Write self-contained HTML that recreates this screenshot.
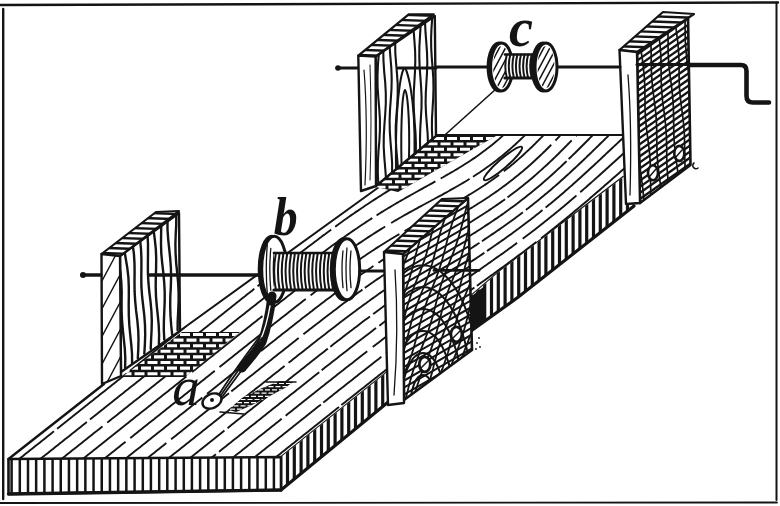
<!DOCTYPE html>
<html><head><meta charset="utf-8"><title>Winding apparatus</title>
<style>html,body{margin:0;padding:0;background:#fff;width:780px;height:506px;overflow:hidden;font-family:"Liberation Serif",serif}svg{display:block}</style>
</head><body><svg width="780" height="506" viewBox="0 0 780 506"><defs><clipPath id="c1"><polygon points="8.5,459.0 281.0,457.0 386.0,373.0 472.0,295.0 500.0,271.0 623.0,177.0 660.0,150.0 660.0,135.0 436.0,135.0 379.0,187.0 181.0,330.0 104.0,384.0"/></clipPath><clipPath id="c2"><polygon points="281.0,457.0 386.0,373.0 472.0,295.0 500.0,271.0 630.0,172.0 634.0,206.0 517.0,298.0 471.0,331.0 387.0,403.0 281.0,490.0"/></clipPath><clipPath id="c3"><polygon points="8.5,459.0 281.0,457.0 281.0,489.0 8.5,494.0"/></clipPath><clipPath id="c4"><polygon points="637.0,52.0 688.0,15.0 690.5,165.0 640.0,203.0"/></clipPath><clipPath id="c5"><polygon points="637.0,52.0 688.0,15.0 690.5,165.0 640.0,203.0"/></clipPath><clipPath id="c6"><polygon points="619.5,50.0 663.0,12.0 694.0,14.0 637.0,52.0"/></clipPath><clipPath id="c7"><polygon points="510.1,67.0 509.8,72.4 509.0,77.5 507.6,81.8 505.9,85.2 503.8,87.3 501.6,88.0 499.4,87.3 497.4,85.2 495.6,81.9 494.2,77.5 493.4,72.4 493.1,67.0 493.4,61.6 494.2,56.5 495.6,52.2 497.3,48.8 499.4,46.7 501.6,46.0 503.8,46.7 505.8,48.8 507.6,52.1 509.0,56.5 509.8,61.6"/></clipPath><clipPath id="c8"><polygon points="554.5,67.0 554.2,72.4 553.4,77.5 552.0,81.8 550.3,85.2 548.2,87.3 546.0,88.0 543.8,87.3 541.8,85.2 540.0,81.9 538.6,77.5 537.8,72.4 537.5,67.0 537.8,61.6 538.6,56.5 540.0,52.2 541.7,48.8 543.8,46.7 546.0,46.0 548.2,46.7 550.2,48.8 552.0,52.1 553.4,56.5 554.2,61.6"/></clipPath><clipPath id="c9"><polygon points="436.0,136.0 496.0,136.0 398.0,192.0 376.0,187.0"/></clipPath><clipPath id="c10"><polygon points="358.3,55.6 408.7,14.3 433.7,14.3 375.6,56.5"/></clipPath><clipPath id="c11"><polygon points="122.0,377.0 182.0,332.0 240.0,332.0 185.0,377.0"/></clipPath><clipPath id="c12"><polygon points="101.5,254.0 156.0,212.0 179.0,211.0 120.0,256.0"/></clipPath><clipPath id="c13"><polygon points="101.5,254.0 120.0,256.0 121.0,376.0 102.0,384.0"/></clipPath><clipPath id="c14"><polygon points="229.0,410.0 242.0,398.0 262.0,388.0 280.0,381.0 293.0,382.0 285.0,388.0 268.0,397.0 250.0,406.0 236.0,412.0"/></clipPath><clipPath id="c15"><polygon points="403.0,254.0 468.0,198.0 472.0,350.0 404.0,400.0"/></clipPath><clipPath id="c16"><polygon points="403.0,254.0 468.0,198.0 472.0,350.0 404.0,400.0"/></clipPath><clipPath id="c17"><polygon points="403.0,254.0 468.0,198.0 472.0,350.0 404.0,400.0"/></clipPath><clipPath id="c18"><polygon points="384.0,252.0 442.0,199.0 468.0,198.0 403.0,254.0"/></clipPath></defs><rect width="780" height="506" fill="#fff"/><line x1="0.0" y1="5.0" x2="778.0" y2="2.5" stroke="#141414" stroke-width="2.4" stroke-linecap="round"/><line x1="3.2" y1="9.0" x2="3.2" y2="499.0" stroke="#141414" stroke-width="2.4" stroke-linecap="round"/><line x1="776.5" y1="2.5" x2="776.5" y2="500.0" stroke="#141414" stroke-width="2.0" stroke-linecap="round"/><line x1="0.0" y1="503.0" x2="777.0" y2="502.5" stroke="#141414" stroke-width="1.8" stroke-linecap="round"/><polygon points="8.5,459.0 281.0,457.0 386.0,373.0 472.0,295.0 500.0,271.0 623.0,177.0 660.0,150.0 660.0,135.0 436.0,135.0 379.0,187.0 181.0,330.0 104.0,384.0" fill="#fff" stroke="none" stroke-width="0" stroke-linejoin="round" /><g clip-path="url(#c1)" stroke="#141414" stroke-width="1.9" fill="none"><path d="M0.0,1.9L2.0,0.3" stroke-dasharray="91 4 110 3" stroke-dashoffset="18"/><path d="M0.0,18.8L2.0,17.2L3.5,16.0L5.0,14.8L7.0,13.2L8.5,12.0L10.0,10.8L12.0,9.2L13.6,8.0L15.0,6.9L17.0,5.3L18.6,4.0L20.0,2.9L22.0,1.3L23.6,0.0" stroke-dasharray="118 3 106 7" stroke-dashoffset="14"/><path d="M0.0,35.7L2.0,34.1L3.3,33.0L5.0,31.7L7.0,30.1L8.4,29.0L10.0,27.7L12.0,26.1L13.4,25.0L15.0,23.7L17.0,22.1L18.4,21.0L20.0,19.7L22.0,18.2L23.4,17.0L25.0,15.8L27.0,14.2L28.5,13.0L30.0,11.8L32.0,10.2L33.5,9.0L35.0,7.8L37.0,6.2L38.5,5.0L40.0,3.8L42.0,2.2L43.6,1.0" stroke-dasharray="114 4 64 3" stroke-dashoffset="111"/><path d="M0.0,52.5L1.9,51.0L3.2,50.0L5.0,48.5L6.9,47.0L8.2,46.0L10.0,44.6L12.0,43.0L13.2,42.0L15.0,40.6L17.0,39.0L18.2,38.0L20.0,36.6L22.0,35.0L23.3,34.0L25.0,32.6L27.0,31.0L28.3,30.0L30.0,28.7L32.0,27.1L33.3,26.0L35.0,24.7L37.0,23.1L38.4,22.0L40.0,20.7L42.0,19.1L43.4,18.0L45.0,16.7L47.0,15.1L48.4,14.0L50.0,12.7L52.0,11.2L53.5,10.0L55.0,8.8L57.0,7.2L58.5,6.0L60.0,4.8L62.0,3.2L63.5,2.0L65.0,0.8" stroke-dasharray="103 3 90 3" stroke-dashoffset="141"/><path d="M0.0,69.4L1.7,68.0L3.0,67.0L5.0,65.4L6.8,64.0L8.0,63.0L10.0,61.4L11.8,60.0L13.1,59.0L15.0,57.5L16.8,56.0L18.1,55.0L20.0,53.5L21.9,52.0L23.1,51.0L25.0,49.5L26.9,48.0L28.1,47.0L30.0,45.5L31.9,44.0L33.2,43.0L35.0,41.5L36.9,40.0L38.2,39.0L40.0,37.6L42.0,36.0L43.2,35.0L45.0,33.6L47.0,32.0L48.3,31.0L50.0,29.6L52.0,28.0L53.3,27.0L55.0,25.6L57.0,24.0L58.3,23.0L60.0,21.7L62.0,20.1L63.3,19.0L65.0,17.7L67.0,16.1L68.4,15.0L70.0,13.7L72.0,12.1L73.4,11.0L75.0,9.7L77.0,8.1L78.4,7.0L80.0,5.7L82.0,4.2L83.5,3.0L85.0,1.8L87.0,0.2" stroke-dasharray="104 3 132 3" stroke-dashoffset="57"/><path d="M0.0,86.3L1.6,85.0L3.0,83.9L5.0,82.3L6.6,81.0L8.0,79.9L10.0,78.3L11.6,77.0L13.0,75.9L15.0,74.3L16.7,73.0L18.0,71.9L20.0,70.3L21.7,69.0L23.0,68.0L25.0,66.4L26.7,65.0L28.0,64.0L30.0,62.4L31.7,61.0L33.0,60.0L35.0,58.4L36.8,57.0L38.0,56.0L40.0,54.4L41.8,53.0L43.1,52.0L45.0,50.5L46.8,49.0L48.1,48.0L50.0,46.5L51.9,45.0L53.1,44.0L55.0,42.5L56.9,41.0L58.1,40.0L60.0,38.5L61.9,37.0L63.2,36.0L65.0,34.5L66.9,33.0L68.2,32.0L70.0,30.6L72.0,29.0L73.2,28.0L75.0,26.6L77.0,25.0L78.3,24.0L80.0,22.6L82.0,21.0L83.3,20.0L85.0,18.6L87.0,17.0L88.3,16.0L90.0,14.7L92.0,13.1L93.3,12.0L95.0,10.7L97.0,9.1L98.4,8.0L100.0,6.7L102.0,5.1L103.4,4.0L105.0,2.7L107.0,1.1L108.4,0.0" stroke-dasharray="130 3 133 7" stroke-dashoffset="101"/><path d="M0.0,103.1L1.4,102.0L3.0,100.7L5.0,99.1L6.4,98.0L8.0,96.8L10.0,95.2L11.5,94.0L13.0,92.8L15.0,91.2L16.5,90.0L18.0,88.8L20.0,87.2L21.5,86.0L23.0,84.8L25.0,83.2L26.5,82.0L28.0,80.8L30.0,79.3L31.6,78.0L33.0,76.9L35.0,75.3L36.6,74.0L38.0,72.9L40.0,71.3L41.6,70.0L43.0,68.9L45.0,67.3L46.7,66.0L48.0,64.9L50.0,63.3L51.7,62.0L53.0,61.0L55.0,59.4L56.7,58.0L58.0,57.0L60.0,55.4L61.7,54.0L63.0,53.0L65.0,51.4L66.8,50.0L68.0,49.0L70.0,47.4L71.8,46.0L73.1,45.0L75.0,43.5L76.8,42.0L78.1,41.0L80.0,39.5L81.9,38.0L83.1,37.0L85.0,35.5L86.9,34.0L88.1,33.0L90.0,31.5L91.9,30.0L93.2,29.0L95.0,27.6L96.9,26.0L98.2,25.0L100.0,23.6L102.0,22.0L103.2,21.0L105.0,19.6L107.0,18.0L108.3,17.0L110.0,15.6L112.0,14.0L113.3,13.0L115.0,11.6L117.0,10.1L118.3,9.0L120.0,7.7L122.0,6.1L123.3,5.0L125.0,3.7L127.0,2.1L128.4,1.0" stroke-dasharray="56 4 65 7" stroke-dashoffset="34"/><path d="M0.0,120.0L2.0,118.4L3.8,117.0L5.0,116.0L7.0,114.4L8.8,113.0L10.0,112.0L12.0,110.4L13.8,109.0L15.1,108.0L17.0,106.5L18.8,105.0L20.1,104.0L22.0,102.5L23.9,101.0L25.1,100.0L27.0,98.5L28.9,97.0L30.2,96.0L32.0,94.5L33.9,93.0L35.2,92.0L37.0,90.6L39.0,89.0L40.2,88.0L42.0,86.6L44.0,85.0L45.2,84.0L47.0,82.6L49.0,81.0L50.3,80.0L52.0,78.6L54.0,77.0L55.3,76.0L57.0,74.6L59.0,73.1L60.3,72.0L62.0,70.7L64.0,69.1L65.4,68.0L67.0,66.7L69.0,65.1L70.4,64.0L72.0,62.7L74.0,61.1L75.4,60.0L77.0,58.7L79.0,57.1L80.4,56.0L82.0,54.8L84.0,53.2L85.5,52.0L87.0,50.8L89.0,49.2L90.5,48.0L92.0,46.8L94.0,45.2L95.5,44.0L97.0,42.8L99.0,41.2L100.6,40.0L102.0,38.8L104.0,37.3L105.6,36.0L107.0,34.9L109.0,33.3L110.6,32.0L112.0,30.9L114.0,29.3L115.6,28.0L117.0,26.9L119.0,25.3L120.7,24.0L122.0,22.9L124.0,21.3L125.7,20.0L127.0,19.0L129.0,17.4L130.7,16.0L132.0,15.0L134.0,13.4L135.8,12.0L137.0,11.0L139.0,9.4L140.8,8.0L142.0,7.0L144.0,5.4L145.8,4.0L147.1,3.0L149.0,1.5L150.8,0.0" stroke-dasharray="87 6 78 7" stroke-dashoffset="30"/><path d="M0.0,136.9L2.0,135.3L3.6,134.0L5.0,132.9L7.0,131.3L8.6,130.0L10.0,128.9L12.0,127.3L13.6,126.0L15.0,124.9L17.0,123.3L18.7,122.0L20.0,120.9L22.0,119.4L23.7,118.0L25.0,117.0L27.0,115.4L28.7,114.0L30.0,113.0L32.0,111.4L33.8,110.0L35.0,109.0L37.0,107.4L38.8,106.0L40.0,105.0L42.0,103.4L43.8,102.0L45.1,101.0L47.0,99.5L48.8,98.0L50.1,97.0L52.0,95.5L53.9,94.0L55.1,93.0L57.0,91.5L58.9,90.0L60.2,89.0L62.0,87.5L63.9,86.0L65.2,85.0L67.0,83.6L69.0,82.0L70.2,81.0L72.0,79.6L74.0,78.0L75.2,77.0L77.0,75.6L79.0,74.0L80.3,73.0L82.0,71.6L84.0,70.0L85.3,69.0L87.0,67.6L89.0,66.1L90.3,65.0L92.0,63.7L94.0,62.1L95.4,61.0L97.0,59.7L99.0,58.1L100.4,57.0L102.0,55.7L104.0,54.1L105.4,53.0L107.0,51.7L109.0,50.1L110.4,49.0L112.0,47.8L114.0,46.2L115.5,45.0L117.0,43.8L119.0,42.2L120.5,41.0L122.0,39.8L124.0,38.2L125.5,37.0L127.0,35.8L129.0,34.2L130.6,33.0L132.0,31.9L134.0,30.3L135.6,29.0L137.0,27.9L139.0,26.3L140.6,25.0L142.0,23.9L144.0,22.3L145.6,21.0L147.0,19.9L149.0,18.3L150.7,17.0L152.0,15.9L154.0,14.4L155.7,13.0L157.0,12.0L159.0,10.4L160.7,9.0L162.0,8.0L164.0,6.4L165.8,5.0L167.0,4.0L169.0,2.4L170.8,1.0L172.0,0.0" stroke-dasharray="123 5 131 4" stroke-dashoffset="26"/><path d="M0.0,153.7L2.0,152.1L3.4,151.0L5.0,149.7L7.0,148.1L8.4,147.0L10.0,145.8L12.0,144.2L13.5,143.0L15.0,141.8L17.0,140.2L18.5,139.0L20.0,137.8L22.0,136.2L23.5,135.0L25.0,133.8L27.0,132.2L28.6,131.0L30.0,129.9L32.0,128.3L33.6,127.0L35.0,125.9L37.0,124.3L38.6,123.0L40.0,121.9L42.0,120.3L43.6,119.0L45.0,117.9L47.0,116.3L48.7,115.0L50.0,113.9L52.0,112.4L53.7,111.0L55.0,110.0L57.0,108.4L58.7,107.0L60.0,106.0L62.0,104.4L63.8,103.0L65.0,102.0L67.0,100.4L68.8,99.0L70.0,98.0L72.0,96.4L73.8,95.0L75.1,94.0L77.0,92.5L78.8,91.0L80.1,90.0L82.0,88.5L83.9,87.0L85.1,86.0L87.0,84.5L88.9,83.0L90.2,82.0L92.0,80.5L93.9,79.0L95.2,78.0L97.0,76.6L99.0,75.0L100.2,74.0L102.0,72.6L104.0,71.0L105.2,70.0L107.0,68.6L109.0,67.0L110.3,66.0L112.0,64.6L114.0,63.0L115.3,62.0L117.0,60.7L119.0,59.1L120.3,58.0L122.0,56.7L124.0,55.1L125.4,54.0L127.0,52.7L129.0,51.1L130.4,50.0L132.0,48.7L134.0,47.1L135.4,46.0L137.0,44.7L139.0,43.2L140.4,42.0L142.0,40.8L144.0,39.2L145.5,38.0L147.0,36.8L149.0,35.2L150.5,34.0L152.0,32.8L154.0,31.2L155.5,30.0L157.0,28.8L159.0,27.2L160.6,26.0L162.0,24.9L164.0,23.3L165.6,22.0L167.0,20.9L169.0,19.3L170.6,18.0L172.0,16.9L174.0,15.3L175.6,14.0L177.0,12.9L179.0,11.3L180.7,10.0L182.0,8.9L184.0,7.4L185.7,6.0L187.0,5.0L189.0,3.4L190.7,2.0L192.0,1.0" stroke-dasharray="124 4 107 3" stroke-dashoffset="140"/><path d="M0.0,170.6L2.0,169.0L3.2,168.0L5.0,166.6L7.0,165.0L8.3,164.0L10.0,162.6L12.0,161.0L13.3,160.0L15.0,158.7L17.0,157.1L18.3,156.0L20.0,154.7L22.0,153.1L23.4,152.0L25.0,150.7L27.0,149.1L28.4,148.0L30.0,146.7L32.0,145.1L33.4,144.0L35.0,142.7L37.0,141.2L38.4,140.0L40.0,138.8L42.0,137.2L43.5,136.0L45.0,134.8L47.0,133.2L48.5,132.0L50.0,130.8L52.0,129.2L53.5,128.0L55.0,126.8L57.0,125.2L58.6,124.0L60.0,122.9L62.0,121.3L63.6,120.0L65.0,118.9L67.0,117.3L68.6,116.0L70.0,114.9L72.0,113.3L73.6,112.0L75.0,110.9L77.0,109.3L78.7,108.0L80.0,106.9L82.0,105.4L83.7,104.0L85.0,103.0L87.0,101.4L88.7,100.0L90.0,99.0L92.0,97.4L93.8,96.0L95.0,95.0L97.0,93.4L98.8,92.0L100.1,91.0L102.0,89.4L103.8,88.0L105.1,87.0L107.0,85.5L108.9,84.0L110.1,83.0L112.0,81.5L113.9,80.0L115.1,79.0L117.0,77.5L118.9,76.0L120.2,75.0L122.0,73.5L123.9,72.0L125.2,71.0L127.0,69.6L129.0,68.0L130.2,67.0L132.0,65.6L134.0,64.0L135.3,63.0L137.0,61.6L139.0,60.0L140.3,59.0L142.0,57.6L144.0,56.0L145.3,55.0L147.0,53.7L149.0,52.1L150.3,51.0L152.0,49.7L154.0,48.1L155.4,47.0L157.0,45.7L159.0,44.1L160.4,43.0L162.0,41.7L164.0,40.1L165.4,39.0L167.0,37.7L169.0,36.2L170.5,35.0L172.0,33.8L174.0,32.2L175.5,31.0L177.0,29.8L179.0,28.2L180.5,27.0L182.0,25.8L184.0,24.2L185.5,23.0L187.0,21.8L189.0,20.2L190.6,19.0L192.0,17.9L194.0,16.3L195.6,15.0L197.0,13.9L199.0,12.3L200.6,11.0L202.0,9.9L204.0,8.3L205.7,7.0L207.0,5.9L209.0,4.3L210.7,3.0L212.0,2.0L214.0,0.4" stroke-dasharray="58 3 139 4" stroke-dashoffset="127"/><path d="M0.0,187.5L1.8,186.0L3.1,185.0L5.0,183.5L6.9,182.0L8.1,181.0L10.0,179.5L11.9,178.0L13.1,177.0L15.0,175.5L16.9,174.0L18.2,173.0L20.0,171.5L21.9,170.0L23.2,169.0L25.0,167.6L27.0,166.0L28.2,165.0L30.0,163.6L32.0,162.0L33.3,161.0L35.0,159.6L37.0,158.0L38.3,157.0L40.0,155.6L42.0,154.0L43.3,153.0L45.0,151.7L47.0,150.1L48.3,149.0L50.0,147.7L52.0,146.1L53.4,145.0L55.0,143.7L57.0,142.1L58.4,141.0L60.0,139.7L62.0,138.1L63.4,137.0L65.0,135.7L67.0,134.2L68.5,133.0L70.0,131.8L72.0,130.2L73.5,129.0L75.0,127.8L77.0,126.2L78.5,125.0L80.0,123.8L82.0,122.2L83.5,121.0L85.0,119.8L87.0,118.2L88.6,117.0L90.0,115.9L92.0,114.3L93.6,113.0L95.0,111.9L97.0,110.3L98.6,109.0L100.0,107.9L102.0,106.3L103.7,105.0L105.0,103.9L107.0,102.3L108.7,101.0L110.0,100.0L112.0,98.4L113.7,97.0L115.0,96.0L117.0,94.4L118.7,93.0L120.0,92.0L122.0,90.4L123.8,89.0L125.0,88.0L127.0,86.4L128.8,85.0L130.1,84.0L132.0,82.5L133.8,81.0L135.1,80.0L137.0,78.5L138.9,77.0L140.1,76.0L142.0,74.5L143.9,73.0L145.1,72.0L147.0,70.5L148.9,69.0L150.2,68.0L152.0,66.5L153.9,65.0L155.2,64.0L157.0,62.6L159.0,61.0L160.2,60.0L162.0,58.6L164.0,57.0L165.3,56.0L167.0,54.6L169.0,53.0L170.3,52.0L172.0,50.6L174.0,49.0L175.3,48.0L177.0,46.7L179.0,45.1L180.3,44.0L182.0,42.7L184.0,41.1L185.4,40.0L187.0,38.7L189.0,37.1L190.4,36.0L192.0,34.7L194.0,33.1L195.4,32.0L197.0,30.7L199.0,29.2L200.5,28.0L202.0,26.8L204.0,25.2L205.5,24.0L207.0,22.8L209.0,21.2L210.5,20.0L212.0,18.8L214.0,17.2L215.5,16.0L217.0,14.8L219.0,13.2L220.6,12.0L222.0,10.9L224.0,9.3L225.6,8.0L227.0,6.9L229.0,5.3L230.6,4.0L232.0,2.9L234.0,1.3L235.7,0.0" stroke-dasharray="137 6 159 5" stroke-dashoffset="119"/><path d="M0.0,204.3L1.7,203.0L3.0,201.9L5.0,200.3L6.7,199.0L8.0,198.0L10.0,196.4L11.7,195.0L13.0,194.0L15.0,192.4L16.7,191.0L18.0,190.0L20.0,188.4L21.8,187.0L23.0,186.0L25.0,184.4L26.8,183.0L28.1,182.0L30.0,180.5L31.8,179.0L33.1,178.0L35.0,176.5L36.9,175.0L38.1,174.0L40.0,172.5L41.9,171.0L43.1,170.0L45.0,168.5L46.9,167.0L48.2,166.0L50.0,164.5L51.9,163.0L53.2,162.0L55.0,160.6L57.0,159.0L58.2,158.0L60.0,156.6L62.0,155.0L63.3,154.0L65.0,152.6L67.0,151.0L68.3,150.0L70.0,148.6L72.0,147.0L73.3,146.0L75.0,144.7L77.0,143.1L78.3,142.0L80.0,140.7L82.0,139.1L83.4,138.0L85.0,136.7L87.0,135.1L88.4,134.0L90.0,132.7L92.0,131.1L93.4,130.0L95.0,128.8L97.0,127.2L98.5,126.0L100.0,124.8L102.0,123.2L103.5,122.0L105.0,120.8L107.0,119.2L108.5,118.0L110.0,116.8L112.0,115.2L113.5,114.0L115.0,112.8L117.0,111.3L118.6,110.0L120.0,108.9L122.0,107.3L123.6,106.0L125.0,104.9L127.0,103.3L128.6,102.0L130.0,100.9L132.0,99.3L133.7,98.0L135.0,96.9L137.0,95.3L138.7,94.0L140.0,93.0L142.0,91.4L143.7,90.0L145.0,89.0L147.0,87.4L148.7,86.0L150.0,85.0L152.0,83.4L153.8,82.0L155.0,81.0L157.0,79.4L158.8,78.0L160.1,77.0L162.0,75.5L163.8,74.0L165.1,73.0L167.0,71.5L168.9,70.0L170.1,69.0L172.0,67.5L173.9,66.0L175.1,65.0L177.0,63.5L178.9,62.0L180.2,61.0L182.0,59.5L183.9,58.0L185.2,57.0L187.0,55.6L189.0,54.0L190.2,53.0L192.0,51.6L194.0,50.0L195.3,49.0L197.0,47.6L199.0,46.0L200.3,45.0L202.0,43.6L204.0,42.0L205.3,41.0L207.0,39.7L209.0,38.1L210.3,37.0L212.0,35.7L214.0,34.1L215.4,33.0L217.0,31.7L219.0,30.1L220.4,29.0L222.0,27.7L224.0,26.1L225.4,25.0L227.0,23.8L229.0,22.2L230.5,21.0L232.0,19.8L234.0,18.2L235.5,17.0L237.0,15.8L239.0,14.2L240.5,13.0L242.0,11.8L244.0,10.2L245.5,9.0L247.0,7.8L249.0,6.3L250.6,5.0L252.0,3.9L254.0,2.3L255.6,1.0" stroke-dasharray="124 6 106 5" stroke-dashoffset="63"/><path d="M0.0,221.2L1.5,220.0L3.0,218.8L5.0,217.2L6.5,216.0L8.0,214.8L10.0,213.2L11.5,212.0L13.0,210.8L15.0,209.3L16.6,208.0L18.0,206.9L20.0,205.3L21.6,204.0L23.0,202.9L25.0,201.3L26.6,200.0L28.0,198.9L30.0,197.3L31.7,196.0L33.0,194.9L35.0,193.3L36.7,192.0L38.0,191.0L40.0,189.4L41.7,188.0L43.0,187.0L45.0,185.4L46.7,184.0L48.0,183.0L50.0,181.4L51.8,180.0L53.0,179.0L55.0,177.4L56.8,176.0L58.1,175.0L60.0,173.5L61.8,172.0L63.1,171.0L65.0,169.5L66.9,168.0L68.1,167.0L70.0,165.5L71.9,164.0L73.1,163.0L75.0,161.5L76.9,160.0L78.2,159.0L80.0,157.5L81.9,156.0L83.2,155.0L85.0,153.6L87.0,152.0L88.2,151.0L90.0,149.6L92.0,148.0L93.3,147.0L95.0,145.6L97.0,144.0L98.3,143.0L100.0,141.6L102.0,140.0L103.3,139.0L105.0,137.7L107.0,136.1L108.3,135.0L110.0,133.7L112.0,132.1L113.4,131.0L115.0,129.7L117.0,128.1L118.4,127.0L120.0,125.7L122.0,124.1L123.4,123.0L125.0,121.8L127.0,120.2L128.5,119.0L130.0,117.8L132.0,116.2L133.5,115.0L135.0,113.8L137.0,112.2L138.5,111.0L140.0,109.8L142.0,108.2L143.5,107.0L145.0,105.8L147.0,104.3L148.6,103.0L150.0,101.9L152.0,100.3L153.6,99.0L155.0,97.9L157.0,96.3L158.6,95.0L160.0,93.9L162.0,92.3L163.7,91.0L165.0,89.9L167.0,88.3L168.7,87.0L170.0,86.0L172.0,84.4L173.7,83.0L175.0,82.0L177.0,80.4L178.7,79.0L180.0,78.0L182.0,76.4L183.8,75.0L185.0,74.0L187.0,72.4L188.8,71.0L190.1,70.0L192.0,68.5L193.8,67.0L195.1,66.0L197.0,64.5L198.9,63.0L200.1,62.0L202.0,60.5L203.9,59.0L205.1,58.0L207.0,56.5L208.9,55.0L210.2,54.0L212.0,52.6L213.9,51.0L215.2,50.0L217.0,48.6L219.0,47.0L220.2,46.0L222.0,44.6L224.0,43.0L225.3,42.0L227.0,40.6L229.0,39.0L230.3,38.0L232.0,36.6L234.0,35.1L235.3,34.0L237.0,32.7L239.0,31.1L240.4,30.0L242.0,28.7L244.0,27.1L245.4,26.0L247.0,24.7L249.0,23.1L250.4,22.0L252.0,20.7L254.0,19.1L255.4,18.0L257.0,16.8L259.0,15.2L260.5,14.0L262.0,12.8L264.0,11.2L265.5,10.0L267.0,8.8L269.0,7.2L270.5,6.0L272.0,4.8L274.0,3.2L275.6,2.0L277.0,0.8" stroke-dasharray="73 4 70 7" stroke-dashoffset="76"/><path d="M0.0,238.1L1.3,237.0L3.0,235.7L5.0,234.1L6.3,233.0L8.0,231.7L10.0,230.1L11.4,229.0L13.0,227.7L15.0,226.1L16.4,225.0L18.0,223.7L20.0,222.1L21.4,221.0L23.0,219.8L25.0,218.2L26.5,217.0L28.0,215.8L30.0,214.2L31.5,213.0L33.0,211.8L35.0,210.2L36.5,209.0L38.0,207.8L40.0,206.2L41.5,205.0L43.0,203.8L45.0,202.3L46.6,201.0L48.0,199.9L50.0,198.3L51.6,197.0L53.0,195.9L55.0,194.3L56.6,193.0L58.0,191.9L60.0,190.3L61.7,189.0L63.0,187.9L65.0,186.3L66.7,185.0L68.0,184.0L70.0,182.4L71.7,181.0L73.0,180.0L75.0,178.4L76.8,177.0L78.0,176.0L80.0,174.4L81.8,173.0L83.0,172.0L85.0,170.4L86.8,169.0L88.1,168.0L90.0,166.5L91.8,165.0L93.1,164.0L95.0,162.5L96.9,161.0L98.1,160.0L100.0,158.5L101.9,157.0L103.2,156.0L105.0,154.5L106.9,153.0L108.2,152.0L110.0,150.6L112.0,149.0L113.2,148.0L115.0,146.6L117.0,145.0L118.2,144.0L120.0,142.6L122.0,141.0L123.3,140.0L125.0,138.6L127.0,137.0L128.3,136.0L130.0,134.6L132.0,133.1L133.3,132.0L135.0,130.7L137.0,129.1L138.4,128.0L140.0,126.7L142.0,125.1L143.4,124.0L145.0,122.7L147.0,121.1L148.4,120.0L150.0,118.7L152.0,117.1L153.4,116.0L155.0,114.8L157.0,113.2L158.5,112.0L160.0,110.8L162.0,109.2L163.5,108.0L165.0,106.8L167.0,105.2L168.5,104.0L170.0,102.8L172.0,101.2L173.6,100.0L175.0,98.8L177.0,97.3L178.6,96.0L180.0,94.9L182.0,93.3L183.6,92.0L185.0,90.9L187.0,89.3L188.6,88.0L190.0,86.9L192.0,85.3L193.7,84.0L195.0,82.9L197.0,81.3L198.7,80.0L200.0,79.0L202.0,77.4L203.7,76.0L205.0,75.0L207.0,73.4L208.8,72.0L210.0,71.0L212.0,69.4L213.8,68.0L215.0,67.0L217.0,65.4L218.8,64.0L220.1,63.0L222.0,61.5L223.8,60.0L225.1,59.0L227.0,57.5L228.9,56.0L230.1,55.0L232.0,53.5L233.9,52.0L235.2,51.0L237.0,49.5L238.9,48.0L240.2,47.0L242.0,45.6L244.0,44.0L245.2,43.0L247.0,41.6L249.0,40.0L250.2,39.0L252.0,37.6L254.0,36.0L255.3,35.0L257.0,33.6L259.0,32.0L260.3,31.0L262.0,29.6L264.0,28.1L265.3,27.0L267.0,25.7L269.0,24.1L270.4,23.0L272.0,21.7L274.0,20.1L275.4,19.0L277.0,17.7L279.0,16.1L280.4,15.0L282.0,13.7L284.0,12.1L285.4,11.0L287.0,9.8L289.0,8.2L290.5,7.0L292.0,5.8L294.0,4.2L295.5,3.0L297.0,1.8L299.0,0.2" stroke-dasharray="117 6 103 6" stroke-dashoffset="73"/><path d="M0.0,254.9L2.0,253.3L3.7,252.0L5.0,250.9L7.0,249.3L8.7,248.0L10.0,247.0L12.0,245.4L13.7,244.0L15.0,243.0L17.0,241.4L18.8,240.0L20.0,239.0L22.0,237.4L23.8,236.0L25.0,235.0L27.0,233.4L28.8,232.0L30.1,231.0L32.0,229.5L33.8,228.0L35.1,227.0L37.0,225.5L38.9,224.0L40.1,223.0L42.0,221.5L43.9,220.0L45.2,219.0L47.0,217.5L48.9,216.0L50.2,215.0L52.0,213.6L54.0,212.0L55.2,211.0L57.0,209.6L59.0,208.0L60.2,207.0L62.0,205.6L64.0,204.0L65.3,203.0L67.0,201.6L69.0,200.0L70.3,199.0L72.0,197.6L74.0,196.1L75.3,195.0L77.0,193.7L79.0,192.1L80.4,191.0L82.0,189.7L84.0,188.1L85.4,187.0L87.0,185.7L89.0,184.1L90.4,183.0L92.0,181.7L94.0,180.1L95.4,179.0L97.0,177.8L99.0,176.2L100.5,175.0L102.0,173.8L104.0,172.2L105.5,171.0L107.0,169.8L109.0,168.2L110.5,167.0L112.0,165.8L114.0,164.2L115.6,163.0L117.0,161.9L119.0,160.3L120.6,159.0L122.0,157.9L124.0,156.3L125.6,155.0L127.0,153.9L129.0,152.3L130.6,151.0L132.0,149.9L134.0,148.3L135.7,147.0L137.0,145.9L139.0,144.4L140.7,143.0L142.0,142.0L144.0,140.4L145.7,139.0L147.0,138.0L149.0,136.4L150.8,135.0L152.0,134.0L154.0,132.4L155.8,131.0L157.0,130.0L159.0,128.4L160.8,127.0L162.1,126.0L164.0,124.5L165.8,123.0L167.1,122.0L169.0,120.5L170.9,119.0L172.1,118.0L174.0,116.5L175.9,115.0L177.2,114.0L179.0,112.5L180.9,111.0L182.2,110.0L184.0,108.6L186.0,107.0L187.2,106.0L189.0,104.6L191.0,103.0L192.2,102.0L194.0,100.6L196.0,99.0L197.3,98.0L199.0,96.6L201.0,95.0L202.3,94.0L204.0,92.6L206.0,91.1L207.3,90.0L209.0,88.7L211.0,87.1L212.4,86.0L214.0,84.7L216.0,83.1L217.4,82.0L219.0,80.7L221.0,79.1L222.4,78.0L224.0,76.7L226.0,75.1L227.4,74.0L229.0,72.8L231.0,71.2L232.5,70.0L234.0,68.8L236.0,67.2L237.5,66.0L239.0,64.8L241.0,63.2L242.5,62.0L244.0,60.8L246.0,59.2L247.6,58.0L249.0,56.9L251.0,55.3L252.6,54.0L254.0,52.9L256.0,51.3L257.6,50.0L259.0,48.9L261.0,47.3L262.6,46.0L264.0,44.9L266.0,43.3L267.7,42.0L269.0,40.9L271.0,39.4L272.7,38.0L274.0,37.0L276.0,35.4L277.7,34.0L279.0,33.0L281.0,31.4L282.8,30.0L284.0,29.0L286.0,27.4L287.8,26.0L289.0,25.0L291.0,23.4L292.8,22.0L294.1,21.0L296.0,19.5L297.8,18.0L299.1,17.0L301.0,15.5L302.9,14.0L304.1,13.0L306.0,11.5L307.9,10.0L309.2,9.0L311.0,7.5L312.9,6.0L314.2,5.0L316.0,3.6L318.0,2.0L319.2,1.0" stroke-dasharray="127 3 75 7" stroke-dashoffset="107"/><path d="M0.0,271.8L2.0,270.2L3.5,269.0L5.0,267.8L7.0,266.2L8.5,265.0L10.0,263.8L12.0,262.2L13.6,261.0L15.0,259.9L17.0,258.3L18.6,257.0L20.0,255.9L22.0,254.3L23.6,253.0L25.0,251.9L27.0,250.3L28.6,249.0L30.0,247.9L32.0,246.3L33.7,245.0L35.0,243.9L37.0,242.4L38.7,241.0L40.0,240.0L42.0,238.4L43.7,237.0L45.0,236.0L47.0,234.4L48.8,233.0L50.0,232.0L52.0,230.4L53.8,229.0L55.0,228.0L57.0,226.4L58.8,225.0L60.1,224.0L62.0,222.5L63.8,221.0L65.1,220.0L67.0,218.5L68.9,217.0L70.1,216.0L72.0,214.5L73.9,213.0L75.2,212.0L77.0,210.5L78.9,209.0L80.2,208.0L82.0,206.6L84.0,205.0L85.2,204.0L87.0,202.6L89.0,201.0L90.2,200.0L92.0,198.6L94.0,197.0L95.3,196.0L97.0,194.6L99.0,193.0L100.3,192.0L102.0,190.6L104.0,189.1L105.3,188.0L107.0,186.7L109.0,185.1L110.4,184.0L112.0,182.7L114.0,181.1L115.4,180.0L117.0,178.7L119.0,177.1L120.4,176.0L122.0,174.7L124.0,173.1L125.4,172.0L127.0,170.8L129.0,169.2L130.5,168.0L132.0,166.8L134.0,165.2L135.5,164.0L137.0,162.8L139.0,161.2L140.5,160.0L142.0,158.8L144.0,157.2L145.6,156.0L147.0,154.9L149.0,153.3L150.6,152.0L152.0,150.9L154.0,149.3L155.6,148.0L157.0,146.9L159.0,145.3L160.6,144.0L162.0,142.9L164.0,141.3L165.7,140.0L167.0,138.9L169.0,137.4L170.7,136.0L172.0,135.0L174.0,133.4L175.7,132.0L177.0,131.0L179.0,129.4L180.8,128.0L182.0,127.0L184.0,125.4L185.8,124.0L187.0,123.0L189.0,121.4L190.8,120.0L192.1,119.0L194.0,117.5L195.8,116.0L197.1,115.0L199.0,113.5L200.9,112.0L202.1,111.0L204.0,109.5L205.9,108.0L207.2,107.0L209.0,105.5L210.9,104.0L212.2,103.0L214.0,101.6L216.0,100.0L217.2,99.0L219.0,97.6L221.0,96.0L222.2,95.0L224.0,93.6L226.0,92.0L227.3,91.0L229.0,89.6L231.0,88.0L232.3,87.0L234.0,85.7L236.0,84.1L237.3,83.0L239.0,81.7L241.0,80.1L242.4,79.0L244.0,77.7L246.0,76.1L247.4,75.0L249.0,73.7L251.0,72.1L252.4,71.0L254.0,69.7L256.0,68.2L257.4,67.0L259.0,65.8L261.0,64.2L262.5,63.0L264.0,61.8L266.0,60.2L267.5,59.0L269.0,57.8L271.0,56.2L272.5,55.0L274.0,53.8L276.0,52.2L277.6,51.0L279.0,49.9L281.0,48.3L282.6,47.0L284.0,45.9L286.0,44.3L287.6,43.0L289.0,41.9L291.0,40.3L292.7,39.0L294.0,37.9L296.0,36.3L297.7,35.0L299.0,33.9L301.0,32.4L302.7,31.0L304.0,30.0L306.0,28.4L307.7,27.0L309.0,26.0L311.0,24.4L312.8,23.0L314.0,22.0L316.0,20.4L317.8,19.0L319.1,18.0L321.0,16.5L322.8,15.0L324.1,14.0L326.0,12.5L327.9,11.0L329.1,10.0L331.0,8.5L332.9,7.0L334.1,6.0L336.0,4.5L337.9,3.0L339.2,2.0L341.0,0.5" stroke-dasharray="71 5 79 6" stroke-dashoffset="107"/><path d="M0.0,288.7L2.0,287.1L3.3,286.0L5.0,284.7L7.0,283.1L8.4,282.0L10.0,280.7L12.0,279.1L13.4,278.0L15.0,276.7L17.0,275.1L18.4,274.0L20.0,272.7L22.0,271.2L23.4,270.0L25.0,268.8L27.0,267.2L28.5,266.0L30.0,264.8L32.0,263.2L33.5,262.0L35.0,260.8L37.0,259.2L38.5,258.0L40.0,256.8L42.0,255.2L43.6,254.0L45.0,252.9L47.0,251.3L48.6,250.0L50.0,248.9L52.0,247.3L53.6,246.0L55.0,244.9L57.0,243.3L58.6,242.0L60.0,240.9L62.0,239.3L63.7,238.0L65.0,236.9L67.0,235.4L68.7,234.0L70.0,233.0L72.0,231.4L73.7,230.0L75.0,229.0L77.0,227.4L78.8,226.0L80.0,225.0L82.0,223.4L83.8,222.0L85.0,221.0L87.0,219.4L88.8,218.0L90.1,217.0L92.0,215.5L93.8,214.0L95.1,213.0L97.0,211.5L98.9,210.0L100.1,209.0L102.0,207.5L103.9,206.0L105.2,205.0L107.0,203.5L108.9,202.0L110.2,201.0L112.0,199.6L114.0,198.0L115.2,197.0L117.0,195.6L119.0,194.0L120.2,193.0L122.0,191.6L124.0,190.0L125.3,189.0L127.0,187.6L129.0,186.0L130.3,185.0L132.0,183.7L134.0,182.1L135.3,181.0L137.0,179.7L139.0,178.1L140.4,177.0L142.0,175.7L144.0,174.1L145.4,173.0L147.0,171.7L149.0,170.1L150.4,169.0L152.0,167.7L154.0,166.2L155.4,165.0L157.0,163.8L159.0,162.2L160.5,161.0L162.0,159.8L164.0,158.2L165.5,157.0L167.0,155.8L169.0,154.2L170.5,153.0L172.0,151.8L174.0,150.2L175.6,149.0L177.0,147.9L179.0,146.3L180.6,145.0L182.0,143.9L184.0,142.3L185.6,141.0L187.0,139.9L189.0,138.3L190.7,137.0L192.0,135.9L194.0,134.3L195.7,133.0L197.0,131.9L199.0,130.4L200.7,129.0L202.0,128.0L204.0,126.4L205.7,125.0L207.0,124.0L209.0,122.4L210.8,121.0L212.0,120.0L214.0,118.4L215.8,117.0L217.1,116.0L219.0,114.5L220.8,113.0L222.1,112.0L224.0,110.5L225.9,109.0L227.1,108.0L229.0,106.5L230.9,105.0L232.1,104.0L234.0,102.5L235.9,101.0L237.2,100.0L239.0,98.5L240.9,97.0L242.2,96.0L244.0,94.6L246.0,93.0L247.2,92.0L249.0,90.6L251.0,89.0L252.3,88.0L254.0,86.6L256.0,85.0L257.3,84.0L259.0,82.6L261.0,81.0L262.3,80.0L264.0,78.7L266.0,77.1L267.3,76.0L269.0,74.7L271.0,73.1L272.4,72.0L274.0,70.7L276.0,69.1L277.4,68.0L279.0,66.7L281.0,65.1L282.4,64.0L284.0,62.7L286.0,61.2L287.5,60.0L289.0,58.8L291.0,57.2L292.5,56.0L294.0,54.8L296.0,53.2L297.5,52.0L299.0,50.8L301.0,49.2L302.5,48.0L304.0,46.8L306.0,45.3L307.6,44.0L309.0,42.9L311.0,41.3L312.6,40.0L314.0,38.9L316.0,37.3L317.6,36.0L319.0,34.9L321.0,33.3L322.7,32.0L324.0,30.9L326.0,29.3L327.7,28.0L329.0,27.0L331.0,25.4L332.7,24.0L334.0,23.0L336.0,21.4L337.7,20.0L339.0,19.0L341.0,17.4L342.8,16.0L344.0,15.0L346.0,13.4L347.8,12.0L349.1,11.0L351.0,9.5L352.8,8.0L354.1,7.0L356.0,5.5L357.9,4.0L359.1,3.0L361.0,1.5L362.9,0.0" stroke-dasharray="55 3 157 7" stroke-dashoffset="146"/><path d="M0.0,305.5L1.9,304.0L3.2,303.0L5.0,301.5L6.9,300.0L8.2,299.0L10.0,297.6L12.0,296.0L13.2,295.0L15.0,293.6L17.0,292.0L18.3,291.0L20.0,289.6L22.0,288.0L23.3,287.0L25.0,285.6L27.0,284.0L28.3,283.0L30.0,281.7L32.0,280.1L33.3,279.0L35.0,277.7L37.0,276.1L38.4,275.0L40.0,273.7L42.0,272.1L43.4,271.0L45.0,269.7L47.0,268.1L48.4,267.0L50.0,265.7L52.0,264.2L53.5,263.0L55.0,261.8L57.0,260.2L58.5,259.0L60.0,257.8L62.0,256.2L63.5,255.0L65.0,253.8L67.0,252.2L68.5,251.0L70.0,249.8L72.0,248.2L73.6,247.0L75.0,245.9L77.0,244.3L78.6,243.0L80.0,241.9L82.0,240.3L83.6,239.0L85.0,237.9L87.0,236.3L88.7,235.0L90.0,233.9L92.0,232.3L93.7,231.0L95.0,230.0L97.0,228.4L98.7,227.0L100.0,226.0L102.0,224.4L103.7,223.0L105.0,222.0L107.0,220.4L108.8,219.0L110.0,218.0L112.0,216.4L113.8,215.0L115.1,214.0L117.0,212.5L118.8,211.0L120.1,210.0L122.0,208.5L123.9,207.0L125.1,206.0L127.0,204.5L128.9,203.0L130.1,202.0L132.0,200.5L133.9,199.0L135.2,198.0L137.0,196.5L138.9,195.0L140.2,194.0L142.0,192.6L144.0,191.0L145.2,190.0L147.0,188.6L149.0,187.0L150.3,186.0L152.0,184.6L154.0,183.0L155.3,182.0L157.0,180.6L159.0,179.0L160.3,178.0L162.0,176.7L164.0,175.1L165.3,174.0L167.0,172.7L169.0,171.1L170.4,170.0L172.0,168.7L174.0,167.1L175.4,166.0L177.0,164.7L179.0,163.1L180.4,162.0L182.0,160.7L184.0,159.2L185.5,158.0L187.0,156.8L189.0,155.2L190.5,154.0L192.0,152.8L194.0,151.2L195.5,150.0L197.0,148.8L199.0,147.2L200.5,146.0L202.0,144.8L204.0,143.2L205.6,142.0L207.0,140.9L209.0,139.3L210.6,138.0L212.0,136.9L214.0,135.3L215.6,134.0L217.0,132.9L219.0,131.3L220.7,130.0L222.0,128.9L224.0,127.3L225.7,126.0L227.0,125.0L229.0,123.4L230.7,122.0L232.0,121.0L234.0,119.4L235.7,118.0L237.0,117.0L239.0,115.4L240.8,114.0L242.0,113.0L244.0,111.4L245.8,110.0L247.1,109.0L249.0,107.5L250.8,106.0L252.1,105.0L254.0,103.5L255.9,102.0L257.1,101.0L259.0,99.5L260.9,98.0L262.1,97.0L264.0,95.5L265.9,94.0L267.2,93.0L269.0,91.5L270.9,90.0L272.2,89.0L274.0,87.6L276.0,86.0L277.2,85.0L279.0,83.6L281.0,82.0L282.3,81.0L284.0,79.6L286.0,78.0L287.3,77.0L289.0,75.6L291.0,74.1L292.3,73.0L294.0,71.7L296.0,70.1L297.4,69.0L299.0,67.7L301.0,66.1L302.4,65.0L304.0,63.7L306.0,62.1L307.4,61.0L309.0,59.7L311.0,58.1L312.4,57.0L314.0,55.8L316.0,54.2L317.5,53.0L319.0,51.8L321.0,50.2L322.5,49.0L324.0,47.8L326.0,46.2L327.5,45.0L329.0,43.8L331.0,42.2L332.6,41.0L334.0,39.9L336.0,38.3L337.6,37.0L339.0,35.9L341.0,34.3L342.6,33.0L344.0,31.9L346.0,30.3L347.7,29.0L349.0,27.9L351.0,26.3L352.7,25.0L354.0,24.0L356.0,22.4L357.7,21.0L359.0,20.0L361.0,18.4L362.7,17.0L364.0,16.0L366.0,14.4L367.8,13.0L369.0,12.0L371.0,10.4L372.8,9.0L374.1,8.0L376.0,6.5L377.8,5.0L379.1,4.0L381.0,2.5L382.9,1.0L384.1,0.0" stroke-dasharray="90 5 148 5" stroke-dashoffset="127"/><path d="M0.0,322.4L1.7,321.0L3.0,320.0L5.0,318.4L6.8,317.0L8.0,316.0L10.0,314.4L11.8,313.0L13.1,312.0L15.0,310.5L16.8,309.0L18.1,308.0L20.0,306.5L21.9,305.0L23.1,304.0L25.0,302.5L26.9,301.0L28.1,300.0L30.0,298.5L31.9,297.0L33.2,296.0L35.0,294.5L36.9,293.0L38.2,292.0L40.0,290.6L42.0,289.0L43.2,288.0L45.0,286.6L47.0,285.0L48.3,284.0L50.0,282.6L52.0,281.0L53.3,280.0L55.0,278.6L57.0,277.0L58.3,276.0L60.0,274.7L62.0,273.1L63.3,272.0L65.0,270.7L67.0,269.1L68.4,268.0L70.0,266.7L72.0,265.1L73.4,264.0L75.0,262.7L77.0,261.1L78.4,260.0L80.0,258.7L82.0,257.2L83.5,256.0L85.0,254.8L87.0,253.2L88.5,252.0L90.0,250.8L92.0,249.2L93.5,248.0L95.0,246.8L97.0,245.2L98.5,244.0L100.0,242.8L102.0,241.2L103.6,240.0L105.0,238.9L107.0,237.3L108.6,236.0L110.0,234.9L112.0,233.3L113.6,232.0L115.0,230.9L117.0,229.3L118.7,228.0L120.0,226.9L122.0,225.3L123.7,224.0L125.0,223.0L127.0,221.4L128.7,220.0L130.0,219.0L132.0,217.4L133.7,216.0L135.0,215.0L137.0,213.4L138.8,212.0L140.0,211.0L142.0,209.4L143.8,208.0L145.1,207.0L147.0,205.5L148.8,204.0L150.1,203.0L152.0,201.5L153.9,200.0L155.1,199.0L157.0,197.5L158.9,196.0L160.1,195.0L162.0,193.5L163.9,192.0L165.2,191.0L167.0,189.5L168.9,188.0L170.2,187.0L172.0,185.6L174.0,184.0L175.2,183.0L177.0,181.6L179.0,180.0L180.3,179.0L182.0,177.6L184.0,176.0L185.3,175.0L187.0,173.6L189.0,172.0L190.3,171.0L192.0,169.7L194.0,168.1L195.3,167.0L197.0,165.7L199.0,164.1L200.4,163.0L202.0,161.7L204.0,160.1L205.4,159.0L207.0,157.7L209.0,156.1L210.4,155.0L212.0,153.8L214.0,152.2L215.5,151.0L217.0,149.8L219.0,148.2L220.5,147.0L222.0,145.8L224.0,144.2L225.5,143.0L227.0,141.8L229.0,140.2L230.5,139.0L232.0,137.8L234.0,136.3L235.6,135.0L237.0,133.9L239.0,132.3L240.6,131.0L242.0,129.9L244.0,128.3L245.6,127.0L247.0,125.9L249.0,124.3L250.7,123.0L252.0,121.9L254.0,120.3L255.7,119.0L257.0,118.0L259.0,116.4L260.7,115.0L262.0,114.0L264.0,112.4L265.8,111.0L267.0,110.0L269.0,108.4L270.8,107.0L272.0,106.0L274.0,104.4L275.8,103.0L277.1,102.0L279.0,100.5L280.8,99.0L282.1,98.0L284.0,96.5L285.9,95.0L287.1,94.0L289.0,92.5L290.9,91.0L292.2,90.0L294.0,88.5L295.9,87.0L297.2,86.0L299.0,84.6L301.0,83.0L302.2,82.0L304.0,80.6L306.0,79.0L307.3,78.0L309.0,76.6L311.0,75.0L312.3,74.0L314.0,72.6L316.0,71.1L317.3,70.0L319.0,68.7L321.0,67.1L322.4,66.0L324.0,64.7L326.0,63.1L327.4,62.0L329.0,60.7L331.0,59.1L332.4,58.0L334.0,56.7L336.0,55.2L337.5,54.0L339.0,52.8L341.0,51.2L342.5,50.0L344.0,48.8L346.0,47.2L347.5,46.0L349.0,44.8L351.0,43.2L352.5,42.0L354.0,40.8L356.0,39.3L357.6,38.0L359.0,36.9L361.0,35.3L362.6,34.0L364.0,32.9L366.0,31.3L367.6,30.0L369.0,28.9L371.0,27.3L372.7,26.0L374.0,24.9L376.0,23.4L377.7,22.0L379.0,21.0L381.0,19.4L382.7,18.0L384.0,17.0L386.0,15.4L387.8,14.0L389.0,13.0L391.0,11.4L392.8,10.0L394.0,9.0L396.0,7.4L397.8,6.0L399.1,5.0L401.0,3.5L402.8,2.0L404.1,1.0" stroke-dasharray="124 6 68 3" stroke-dashoffset="69"/><path d="M0.0,339.3L1.6,338.0L3.0,336.9L5.0,335.3L6.6,334.0L8.0,332.9L10.0,331.3L11.6,330.0L13.0,328.9L15.0,327.3L16.7,326.0L18.0,324.9L20.0,323.3L21.7,322.0L23.0,321.0L25.0,319.4L26.7,318.0L28.0,317.0L30.0,315.4L31.7,314.0L33.0,313.0L35.0,311.4L36.8,310.0L38.0,309.0L40.0,307.4L41.8,306.0L43.1,305.0L45.0,303.5L46.8,302.0L48.1,301.0L50.0,299.5L51.9,298.0L53.1,297.0L55.0,295.5L56.9,294.0L58.1,293.0L60.0,291.5L61.9,290.0L63.2,289.0L65.0,287.5L66.9,286.0L68.2,285.0L70.0,283.6L72.0,282.0L73.2,281.0L75.0,279.6L77.0,278.0L78.3,277.0L80.0,275.6L82.0,274.0L83.3,273.0L85.0,271.6L87.0,270.0L88.3,269.0L90.0,267.7L92.0,266.1L93.3,265.0L95.0,263.7L97.0,262.1L98.4,261.0L100.0,259.7L102.0,258.1L103.4,257.0L105.0,255.7L107.0,254.1L108.4,253.0L110.0,251.8L112.0,250.2L113.5,249.0L115.0,247.8L117.0,246.2L118.5,245.0L120.0,243.8L122.0,242.2L123.5,241.0L125.0,239.8L127.0,238.2L128.5,237.0L130.0,235.8L132.0,234.3L133.6,233.0L135.0,231.9L137.0,230.3L138.6,229.0L140.0,227.9L142.0,226.3L143.6,225.0L145.0,223.9L147.0,222.3L148.7,221.0L150.0,219.9L152.0,218.3L153.7,217.0L155.0,216.0L157.0,214.4L158.7,213.0L160.0,212.0L162.0,210.4L163.7,209.0L165.0,208.0L167.0,206.4L168.8,205.0L170.0,204.0L172.0,202.4L173.8,201.0L175.1,200.0L177.0,198.5L178.8,197.0L180.1,196.0L182.0,194.5L183.9,193.0L185.1,192.0L187.0,190.5L188.9,189.0L190.1,188.0L192.0,186.5L193.9,185.0L195.2,184.0L197.0,182.6L198.9,181.0L200.2,180.0L202.0,178.6L204.0,177.0L205.2,176.0L207.0,174.6L209.0,173.0L210.3,172.0L212.0,170.6L214.0,169.0L215.3,168.0L217.0,166.6L219.0,165.1L220.3,164.0L222.0,162.7L224.0,161.1L225.4,160.0L227.0,158.7L229.0,157.1L230.4,156.0L232.0,154.7L234.0,153.1L235.4,152.0L237.0,150.7L239.0,149.1L240.4,148.0L242.0,146.8L244.0,145.2L245.5,144.0L247.0,142.8L249.0,141.2L250.5,140.0L252.0,138.8L254.0,137.2L255.5,136.0L257.0,134.8L259.0,133.2L260.6,132.0L262.0,130.9L264.0,129.3L265.6,128.0L267.0,126.9L269.0,125.3L270.6,124.0L272.0,122.9L274.0,121.3L275.7,120.0L277.0,118.9L279.0,117.3L280.7,116.0L282.0,115.0L284.0,113.4L285.7,112.0L287.0,111.0L289.0,109.4L290.8,108.0L292.0,107.0L294.0,105.4L295.8,104.0L297.1,103.0L299.0,101.5L300.8,100.0L302.1,99.0L304.0,97.5L305.9,96.0L307.1,95.0L309.0,93.5L310.9,92.0L312.2,91.0L314.0,89.5L315.9,88.0L317.2,87.0L319.0,85.6L321.0,84.0L322.2,83.0L324.0,81.6L326.0,80.0L327.3,79.0L329.0,77.6L331.0,76.0L332.3,75.0L334.0,73.7L336.0,72.1L337.3,71.0L339.0,69.7L341.0,68.1L342.4,67.0L344.0,65.7L346.0,64.1L347.4,63.0L349.0,61.7L351.0,60.2L352.5,59.0L354.0,57.8L356.0,56.2L357.5,55.0L359.0,53.8L361.0,52.2L362.5,51.0L364.0,49.8L366.0,48.2L367.6,47.0L369.0,45.9L371.0,44.3L372.6,43.0L374.0,41.9L376.0,40.3L377.6,39.0L379.0,37.9L381.0,36.3L382.7,35.0L384.0,33.9L386.0,32.3L387.7,31.0L389.0,30.0L391.0,28.4L392.7,27.0L394.0,26.0L396.0,24.4L397.7,23.0L399.0,22.0L401.0,20.4L402.8,19.0L404.0,18.0L406.0,16.4L407.8,15.0L409.1,14.0L411.0,12.5L412.8,11.0L414.1,10.0L416.0,8.5L417.9,7.0L419.1,6.0L421.0,4.5L422.9,3.0L424.1,2.0L426.0,0.5" stroke-dasharray="110 3 67 5" stroke-dashoffset="147"/><path d="M0.0,356.1L1.4,355.0L3.0,353.7L5.0,352.1L6.4,351.0L8.0,349.8L10.0,348.2L11.5,347.0L13.0,345.8L15.0,344.2L16.5,343.0L18.0,341.8L20.0,340.2L21.5,339.0L23.0,337.8L25.0,336.2L26.5,335.0L28.0,333.8L30.0,332.3L31.6,331.0L33.0,329.9L35.0,328.3L36.6,327.0L38.0,325.9L40.0,324.3L41.6,323.0L43.0,321.9L45.0,320.3L46.7,319.0L48.0,317.9L50.0,316.3L51.7,315.0L53.0,314.0L55.0,312.4L56.7,311.0L58.0,310.0L60.0,308.4L61.7,307.0L63.0,306.0L65.0,304.4L66.8,303.0L68.0,302.0L70.0,300.4L71.8,299.0L73.1,298.0L75.0,296.5L76.8,295.0L78.1,294.0L80.0,292.5L81.9,291.0L83.1,290.0L85.0,288.5L86.9,287.0L88.1,286.0L90.0,284.5L91.9,283.0L93.2,282.0L95.0,280.6L96.9,279.0L98.2,278.0L100.0,276.6L102.0,275.0L103.2,274.0L105.0,272.6L107.0,271.0L108.3,270.0L110.0,268.6L112.0,267.0L113.3,266.0L115.0,264.6L117.0,263.1L118.3,262.0L120.0,260.7L122.0,259.1L123.3,258.0L125.0,256.7L127.0,255.1L128.4,254.0L130.0,252.7L132.0,251.1L133.4,250.0L135.0,248.7L137.0,247.1L138.4,246.0L140.0,244.8L142.0,243.2L143.5,242.0L145.0,240.8L147.0,239.2L148.5,238.0L150.0,236.8L152.0,235.2L153.5,234.0L155.0,232.8L157.0,231.2L158.6,230.0L160.0,228.8L162.0,227.3L163.6,226.0L165.0,224.9L167.0,223.3L168.6,222.0L170.0,220.9L172.0,219.3L173.6,218.0L175.0,216.9L177.0,215.3L178.7,214.0L180.0,212.9L182.0,211.3L183.7,210.0L185.0,209.0L187.0,207.4L188.7,206.0L190.0,205.0L192.0,203.4L193.8,202.0L195.0,201.0L197.0,199.4L198.8,198.0L200.0,197.0L202.0,195.4L203.8,194.0L205.1,193.0L207.0,191.5L208.8,190.0L210.1,189.0L212.0,187.5L213.9,186.0L215.1,185.0L217.0,183.5L218.9,182.0L220.2,181.0L222.0,179.5L223.9,178.0L225.2,177.0L227.0,175.6L229.0,174.0L230.2,173.0L232.0,171.6L234.0,170.0L235.3,169.0L237.0,167.6L239.0,166.0L240.3,165.0L242.0,163.6L244.0,162.0L245.3,161.0L247.0,159.7L249.0,158.1L250.3,157.0L252.0,155.7L254.0,154.1L255.4,153.0L257.0,151.7L259.0,150.1L260.4,149.0L262.0,147.7L264.0,146.2L265.4,145.0L267.0,143.8L269.0,142.2L270.5,141.0L272.0,139.8L274.0,138.2L275.5,137.0L277.0,135.8L279.0,134.2L280.6,133.0L282.0,131.9L284.0,130.3L285.6,129.0L287.0,127.9L289.0,126.3L290.6,125.0L292.0,123.9L294.0,122.3L295.7,121.0L297.0,119.9L299.0,118.4L300.7,117.0L302.0,116.0L304.0,114.4L305.8,113.0L307.0,112.0L309.0,110.4L310.8,109.0L312.1,108.0L314.0,106.5L315.8,105.0L317.1,104.0L319.0,102.5L320.9,101.0L322.1,100.0L324.0,98.5L325.9,97.0L327.2,96.0L329.0,94.6L331.0,93.0L332.2,92.0L334.0,90.6L336.0,89.0L337.3,88.0L339.0,86.6L341.0,85.1L342.3,84.0L344.0,82.7L346.0,81.1L347.4,80.0L349.0,78.7L351.0,77.1L352.4,76.0L354.0,74.7L356.0,73.2L357.5,72.0L359.0,70.8L361.0,69.2L362.5,68.0L364.0,66.8L366.0,65.2L367.5,64.0L369.0,62.8L371.0,61.3L372.6,60.0L374.0,58.9L376.0,57.3L377.6,56.0L379.0,54.9L381.0,53.3L382.7,52.0L384.0,50.9L386.0,49.4L387.7,48.0L389.0,47.0L391.0,45.4L392.7,44.0L394.0,43.0L396.0,41.4L397.8,40.0L399.0,39.0L401.0,37.4L402.8,36.0L404.1,35.0L406.0,33.5L407.8,32.0L409.1,31.0L411.0,29.5L412.9,28.0L414.1,27.0L416.0,25.5L417.9,24.0L419.1,23.0L421.0,21.5L422.9,20.0L424.2,19.0L426.0,17.5L427.9,16.0L429.2,15.0L431.0,13.6L433.0,12.0L434.2,11.0L436.0,9.6L438.0,8.0L439.2,7.0L441.0,5.6L443.0,4.0L444.2,3.0L446.0,1.6L448.0,0.0" stroke-dasharray="137 6 96 6" stroke-dashoffset="88"/><path d="M0.0,373.0L2.0,371.4L3.8,370.0L5.0,369.0L7.0,367.4L8.8,366.0L10.0,365.0L12.0,363.4L13.8,362.0L15.1,361.0L17.0,359.5L18.8,358.0L20.1,357.0L22.0,355.5L23.9,354.0L25.1,353.0L27.0,351.5L28.9,350.0L30.2,349.0L32.0,347.5L33.9,346.0L35.2,345.0L37.0,343.6L39.0,342.0L40.2,341.0L42.0,339.6L44.0,338.0L45.2,337.0L47.0,335.6L49.0,334.0L50.3,333.0L52.0,331.6L54.0,330.0L55.3,329.0L57.0,327.6L59.0,326.1L60.3,325.0L62.0,323.7L64.0,322.1L65.4,321.0L67.0,319.7L69.0,318.1L70.4,317.0L72.0,315.7L74.0,314.1L75.4,313.0L77.0,311.7L79.0,310.1L80.4,309.0L82.0,307.8L84.0,306.2L85.5,305.0L87.0,303.8L89.0,302.2L90.5,301.0L92.0,299.8L94.0,298.2L95.5,297.0L97.0,295.8L99.0,294.2L100.6,293.0L102.0,291.8L104.0,290.3L105.6,289.0L107.0,287.9L109.0,286.3L110.6,285.0L112.0,283.9L114.0,282.3L115.6,281.0L117.0,279.9L119.0,278.3L120.7,277.0L122.0,275.9L124.0,274.3L125.7,273.0L127.0,272.0L129.0,270.4L130.7,269.0L132.0,268.0L134.0,266.4L135.8,265.0L137.0,264.0L139.0,262.4L140.8,261.0L142.0,260.0L144.0,258.4L145.8,257.0L147.1,256.0L149.0,254.5L150.8,253.0L152.1,252.0L154.0,250.5L155.9,249.0L157.1,248.0L159.0,246.5L160.9,245.0L162.2,244.0L164.0,242.5L165.9,241.0L167.2,240.0L169.0,238.6L171.0,237.0L172.2,236.0L174.0,234.6L176.0,233.0L177.2,232.0L179.0,230.6L181.0,229.0L182.3,228.0L184.0,226.6L186.0,225.0L187.3,224.0L189.0,222.6L191.0,221.1L192.3,220.0L194.0,218.7L196.0,217.1L197.4,216.0L199.0,214.7L201.0,213.1L202.4,212.0L204.0,210.7L206.0,209.1L207.4,208.0L209.0,206.7L211.0,205.2L212.4,204.0L214.0,202.8L216.0,201.2L217.5,200.0L219.0,198.8L221.0,197.2L222.5,196.0L224.0,194.8L226.0,193.2L227.5,192.0L229.0,190.8L231.0,189.3L232.6,188.0L234.0,186.9L236.0,185.3L237.6,184.0L239.0,182.9L241.0,181.3L242.6,180.0L244.0,178.9L246.0,177.3L247.7,176.0L249.0,174.9L251.0,173.4L252.7,172.0L254.0,171.0L256.0,169.4L257.7,168.0L259.0,167.0L261.0,165.4L262.8,164.0L264.0,163.0L266.0,161.4L267.8,160.0L269.1,159.0L271.0,157.5L272.9,156.0L274.1,155.0L276.0,153.5L277.9,152.0L279.2,151.0L281.0,149.5L282.9,148.0L284.2,147.0L286.0,145.6L288.0,144.0L289.3,143.0L291.0,141.6L293.0,140.0L294.3,139.0L296.0,137.7L298.0,136.1L299.4,135.0L301.0,133.7L303.0,132.1L304.4,131.0L306.0,129.7L308.0,128.2L309.5,127.0L311.0,125.8L313.0,124.2L314.5,123.0L316.0,121.8L318.0,120.2L319.6,119.0L321.0,117.9L323.0,116.3L324.6,115.0L326.0,113.9L328.0,112.3L329.7,111.0L331.0,110.0L333.0,108.4L334.8,107.0L336.0,106.0L338.0,104.4L339.8,103.0L341.1,102.0L343.0,100.5L344.9,99.0L346.1,98.0L348.0,96.5L349.9,95.0L351.2,94.0L353.0,92.6L355.0,91.0L356.3,90.0L358.0,88.6L360.0,87.1L361.3,86.0L363.0,84.7L365.0,83.1L366.4,82.0L368.0,80.7L370.0,79.2L371.5,78.0L373.0,76.8L375.0,75.2L376.5,74.0L378.0,72.8L380.0,71.3L381.6,70.0L383.0,68.9L385.0,67.3L386.6,66.0L388.0,64.9L390.0,63.3L391.7,62.0L393.0,61.0L395.0,59.4L396.7,58.0L398.0,57.0L400.0,55.4L401.8,54.0L403.0,53.0L405.0,51.4L406.8,50.0L408.1,49.0L410.0,47.5L411.8,46.0L413.1,45.0L415.0,43.5L416.9,42.0L418.1,41.0L420.0,39.5L421.9,38.0L423.2,37.0L425.0,35.5L426.9,34.0L428.2,33.0L430.0,31.5L431.9,30.0L433.2,29.0L435.0,27.6L437.0,26.0L438.2,25.0L440.0,23.6L442.0,22.0L443.2,21.0L445.0,19.6L447.0,18.0L448.2,17.0L450.0,15.6L452.0,14.0L453.2,13.0L455.0,11.6L457.0,10.0L458.2,9.0L460.0,7.6L462.0,6.0L463.2,5.0L465.0,3.6L467.0,2.0L468.2,1.0" stroke-dasharray="52 6 105 4" stroke-dashoffset="29"/><path d="M0.0,389.9L2.0,388.3L3.6,387.0L5.0,385.9L7.0,384.3L8.6,383.0L10.0,381.9L12.0,380.3L13.6,379.0L15.0,377.9L17.0,376.3L18.7,375.0L20.0,373.9L22.0,372.4L23.7,371.0L25.0,370.0L27.0,368.4L28.7,367.0L30.0,366.0L32.0,364.4L33.8,363.0L35.0,362.0L37.0,360.4L38.8,359.0L40.0,358.0L42.0,356.4L43.8,355.0L45.1,354.0L47.0,352.5L48.8,351.0L50.1,350.0L52.0,348.5L53.9,347.0L55.1,346.0L57.0,344.5L58.9,343.0L60.2,342.0L62.0,340.5L63.9,339.0L65.2,338.0L67.0,336.6L69.0,335.0L70.2,334.0L72.0,332.6L74.0,331.0L75.2,330.0L77.0,328.6L79.0,327.0L80.3,326.0L82.0,324.6L84.0,323.0L85.3,322.0L87.0,320.6L89.0,319.1L90.3,318.0L92.0,316.7L94.0,315.1L95.4,314.0L97.0,312.7L99.0,311.1L100.4,310.0L102.0,308.7L104.0,307.1L105.4,306.0L107.0,304.7L109.0,303.1L110.4,302.0L112.0,300.8L114.0,299.2L115.5,298.0L117.0,296.8L119.0,295.2L120.5,294.0L122.0,292.8L124.0,291.2L125.5,290.0L127.0,288.8L129.0,287.2L130.6,286.0L132.0,284.9L134.0,283.3L135.6,282.0L137.0,280.9L139.0,279.3L140.6,278.0L142.0,276.9L144.0,275.3L145.6,274.0L147.0,272.9L149.0,271.3L150.7,270.0L152.0,268.9L154.0,267.4L155.7,266.0L157.0,265.0L159.0,263.4L160.7,262.0L162.0,261.0L164.0,259.4L165.8,258.0L167.0,257.0L169.0,255.4L170.8,254.0L172.0,253.0L174.0,251.4L175.8,250.0L177.1,249.0L179.0,247.5L180.8,246.0L182.1,245.0L184.0,243.5L185.9,242.0L187.1,241.0L189.0,239.5L190.9,238.0L192.2,237.0L194.0,235.5L195.9,234.0L197.2,233.0L199.0,231.6L201.0,230.0L202.2,229.0L204.0,227.6L206.0,226.0L207.3,225.0L209.0,223.6L211.0,222.0L212.3,221.0L214.0,219.6L216.0,218.0L217.3,217.0L219.0,215.7L221.0,214.1L222.3,213.0L224.0,211.7L226.0,210.1L227.4,209.0L229.0,207.7L231.0,206.1L232.4,205.0L234.0,203.7L236.0,202.1L237.4,201.0L239.0,199.8L241.0,198.2L242.5,197.0L244.0,195.8L246.0,194.2L247.5,193.0L249.0,191.8L251.0,190.2L252.6,189.0L254.0,187.9L256.0,186.3L257.6,185.0L259.0,183.9L261.0,182.3L262.6,181.0L264.0,179.9L266.0,178.3L267.7,177.0L269.0,176.0L271.0,174.4L272.7,173.0L274.0,172.0L276.0,170.4L277.8,169.0L279.0,168.0L281.0,166.5L282.8,165.0L284.1,164.0L286.0,162.5L287.9,161.0L289.2,160.0L291.0,158.5L293.0,157.0L294.2,156.0L296.0,154.6L298.0,153.0L299.3,152.0L301.0,150.6L303.0,149.1L304.3,148.0L306.0,146.7L308.0,145.1L309.4,144.0L311.0,142.8L313.0,141.2L314.5,140.0L316.0,138.8L318.0,137.2L319.6,136.0L321.0,134.9L323.0,133.3L324.7,132.0L326.0,130.9L328.0,129.4L329.7,128.0L331.0,127.0L333.0,125.4L334.8,124.0L336.1,123.0L338.0,121.5L339.9,120.0L341.2,119.0L343.0,117.6L345.0,116.0L346.3,115.0L348.0,113.7L350.0,112.1L351.4,111.0L353.0,109.7L355.0,108.2L356.5,107.0L358.0,105.8L360.0,104.3L361.6,103.0L363.0,101.9L365.0,100.3L366.7,99.0L368.0,98.0L370.0,96.4L371.8,95.0L373.1,94.0L375.0,92.5L376.9,91.0L378.2,90.0L380.0,88.6L382.0,87.0L383.3,86.0L385.0,84.6L387.0,83.1L388.4,82.0L390.0,80.7L392.0,79.1L393.4,78.0L395.0,76.8L397.0,75.2L398.5,74.0L400.0,72.8L402.0,71.2L403.6,70.0L405.0,68.9L407.0,67.3L408.6,66.0L410.0,64.9L412.0,63.3L413.7,62.0L415.0,61.0L417.0,59.4L418.7,58.0L420.0,57.0L422.0,55.4L423.8,54.0L425.0,53.0L427.0,51.4L428.8,50.0L430.0,49.0L432.0,47.4L433.8,46.0L435.1,45.0L437.0,43.4L438.8,42.0L440.1,41.0L442.0,39.4L443.8,38.0L445.1,37.0L447.0,35.4L448.8,34.0L450.0,33.0L452.0,31.4L453.8,30.0L455.0,29.0L457.0,27.4L458.8,26.0L460.0,25.0L462.0,23.4L463.7,22.0L465.0,21.0L467.0,19.4L468.7,18.0L470.0,16.9L472.0,15.3L473.7,14.0L475.0,12.9L477.0,11.3L478.6,10.0L480.0,8.9L482.0,7.3L483.6,6.0L485.0,4.8L487.0,3.2L488.5,2.0L490.0,0.8" stroke-dasharray="113 3 87 5" stroke-dashoffset="33"/><path d="M0.0,406.7L2.0,405.1L3.4,404.0L5.0,402.7L7.0,401.1L8.4,400.0L10.0,398.8L12.0,397.2L13.5,396.0L15.0,394.8L17.0,393.2L18.5,392.0L20.0,390.8L22.0,389.2L23.5,388.0L25.0,386.8L27.0,385.2L28.6,384.0L30.0,382.9L32.0,381.3L33.6,380.0L35.0,378.9L37.0,377.3L38.6,376.0L40.0,374.9L42.0,373.3L43.6,372.0L45.0,370.9L47.0,369.3L48.7,368.0L50.0,366.9L52.0,365.4L53.7,364.0L55.0,363.0L57.0,361.4L58.7,360.0L60.0,359.0L62.0,357.4L63.8,356.0L65.0,355.0L67.0,353.4L68.8,352.0L70.0,351.0L72.0,349.4L73.8,348.0L75.1,347.0L77.0,345.5L78.8,344.0L80.1,343.0L82.0,341.5L83.9,340.0L85.1,339.0L87.0,337.5L88.9,336.0L90.2,335.0L92.0,333.5L93.9,332.0L95.2,331.0L97.0,329.6L99.0,328.0L100.2,327.0L102.0,325.6L104.0,324.0L105.2,323.0L107.0,321.6L109.0,320.0L110.3,319.0L112.0,317.6L114.0,316.0L115.3,315.0L117.0,313.7L119.0,312.1L120.3,311.0L122.0,309.7L124.0,308.1L125.4,307.0L127.0,305.7L129.0,304.1L130.4,303.0L132.0,301.7L134.0,300.1L135.4,299.0L137.0,297.7L139.0,296.2L140.4,295.0L142.0,293.8L144.0,292.2L145.5,291.0L147.0,289.8L149.0,288.2L150.5,287.0L152.0,285.8L154.0,284.2L155.5,283.0L157.0,281.8L159.0,280.2L160.6,279.0L162.0,277.9L164.0,276.3L165.6,275.0L167.0,273.9L169.0,272.3L170.6,271.0L172.0,269.9L174.0,268.3L175.6,267.0L177.0,265.9L179.0,264.3L180.7,263.0L182.0,261.9L184.0,260.4L185.7,259.0L187.0,258.0L189.0,256.4L190.7,255.0L192.0,254.0L194.0,252.4L195.8,251.0L197.0,250.0L199.0,248.4L200.8,247.0L202.1,246.0L204.0,244.5L205.8,243.0L207.1,242.0L209.0,240.5L210.9,239.0L212.1,238.0L214.0,236.5L215.9,235.0L217.2,234.0L219.0,232.5L220.9,231.0L222.2,230.0L224.0,228.6L226.0,227.0L227.2,226.0L229.0,224.6L231.0,223.0L232.3,222.0L234.0,220.6L236.0,219.0L237.3,218.0L239.0,216.6L241.0,215.1L242.3,214.0L244.0,212.7L246.0,211.1L247.4,210.0L249.0,208.7L251.0,207.1L252.4,206.0L254.0,204.7L256.0,203.2L257.5,202.0L259.0,200.8L261.0,199.2L262.5,198.0L264.0,196.8L266.0,195.2L267.6,194.0L269.0,192.9L271.0,191.3L272.6,190.0L274.0,188.9L276.0,187.3L277.7,186.0L279.0,184.9L281.0,183.4L282.7,182.0L284.0,181.0L286.0,179.4L287.8,178.0L289.1,177.0L291.0,175.5L292.9,174.0L294.1,173.0L296.0,171.5L298.0,170.0L299.2,169.0L301.0,167.6L303.0,166.0L304.3,165.0L306.0,163.7L308.0,162.1L309.4,161.0L311.0,159.8L313.0,158.2L314.5,157.0L316.0,155.8L318.0,154.3L319.6,153.0L321.0,151.9L323.0,150.4L324.8,149.0L326.0,148.0L328.0,146.5L329.9,145.0L331.2,144.0L333.0,142.6L335.0,141.0L336.3,140.0L338.0,138.7L340.0,137.1L341.5,136.0L343.0,134.8L345.0,133.2L346.6,132.0L348.0,130.9L350.0,129.4L351.8,128.0L353.1,127.0L355.0,125.5L356.9,124.0L358.2,123.0L360.0,121.6L362.0,120.1L363.4,119.0L365.0,117.7L367.0,116.2L368.5,115.0L370.0,113.9L372.0,112.3L373.7,111.0L375.0,110.0L377.0,108.5L378.9,107.0L380.2,106.0L382.0,104.6L384.0,103.0L385.3,102.0L387.0,100.7L389.0,99.2L390.5,98.0L392.0,96.8L394.0,95.3L395.6,94.0L397.0,92.9L399.0,91.4L400.8,90.0L402.0,89.0L404.0,87.5L405.9,86.0L407.2,85.0L409.0,83.6L411.0,82.0L412.3,81.0L414.0,79.6L416.0,78.1L417.4,77.0L419.0,75.7L421.0,74.1L422.4,73.0L424.0,71.8L426.0,70.2L427.5,69.0L429.0,67.8L431.0,66.2L432.5,65.0L434.0,63.8L436.0,62.2L437.5,61.0L439.0,59.8L441.0,58.2L442.5,57.0L444.0,55.8L446.0,54.2L447.5,53.0L449.0,51.8L451.0,50.2L452.5,49.0L454.0,47.8L456.0,46.2L457.4,45.0L459.0,43.7L461.0,42.1L462.4,41.0L464.0,39.7L466.0,38.1L467.3,37.0L469.0,35.6L471.0,34.0L472.2,33.0L474.0,31.5L475.9,30.0L477.1,29.0L479.0,27.5L480.8,26.0L482.0,25.0L484.0,23.4L485.7,22.0L487.0,20.9L489.0,19.3L490.6,18.0L492.0,16.8L494.0,15.2L495.5,14.0L497.0,12.8L499.0,11.1L500.4,10.0L502.0,8.7L504.0,7.0L505.3,6.0L507.0,4.6L509.0,3.0L510.2,2.0L512.0,0.5" stroke-dasharray="81 6 110 6" stroke-dashoffset="20"/><path d="M0.0,423.6L2.0,422.0L3.2,421.0L5.0,419.6L7.0,418.0L8.3,417.0L10.0,415.6L12.0,414.0L13.3,413.0L15.0,411.7L17.0,410.1L18.3,409.0L20.0,407.7L22.0,406.1L23.4,405.0L25.0,403.7L27.0,402.1L28.4,401.0L30.0,399.7L32.0,398.1L33.4,397.0L35.0,395.7L37.0,394.2L38.4,393.0L40.0,391.8L42.0,390.2L43.5,389.0L45.0,387.8L47.0,386.2L48.5,385.0L50.0,383.8L52.0,382.2L53.5,381.0L55.0,379.8L57.0,378.2L58.6,377.0L60.0,375.9L62.0,374.3L63.6,373.0L65.0,371.9L67.0,370.3L68.6,369.0L70.0,367.9L72.0,366.3L73.6,365.0L75.0,363.9L77.0,362.3L78.7,361.0L80.0,359.9L82.0,358.4L83.7,357.0L85.0,356.0L87.0,354.4L88.7,353.0L90.0,352.0L92.0,350.4L93.8,349.0L95.0,348.0L97.0,346.4L98.8,345.0L100.1,344.0L102.0,342.4L103.8,341.0L105.1,340.0L107.0,338.5L108.9,337.0L110.1,336.0L112.0,334.5L113.9,333.0L115.1,332.0L117.0,330.5L118.9,329.0L120.2,328.0L122.0,326.5L123.9,325.0L125.2,324.0L127.0,322.6L129.0,321.0L130.2,320.0L132.0,318.6L134.0,317.0L135.3,316.0L137.0,314.6L139.0,313.0L140.3,312.0L142.0,310.6L144.0,309.0L145.3,308.0L147.0,306.7L149.0,305.1L150.3,304.0L152.0,302.7L154.0,301.1L155.4,300.0L157.0,298.7L159.0,297.1L160.4,296.0L162.0,294.7L164.0,293.1L165.4,292.0L167.0,290.7L169.0,289.2L170.5,288.0L172.0,286.8L174.0,285.2L175.5,284.0L177.0,282.8L179.0,281.2L180.5,280.0L182.0,278.8L184.0,277.2L185.5,276.0L187.0,274.8L189.0,273.2L190.6,272.0L192.0,270.9L194.0,269.3L195.6,268.0L197.0,266.9L199.0,265.3L200.6,264.0L202.0,262.9L204.0,261.3L205.7,260.0L207.0,258.9L209.0,257.3L210.7,256.0L212.0,255.0L214.0,253.4L215.7,252.0L217.0,251.0L219.0,249.4L220.8,248.0L222.0,247.0L224.0,245.4L225.8,244.0L227.1,243.0L229.0,241.5L230.8,240.0L232.1,239.0L234.0,237.5L235.9,236.0L237.1,235.0L239.0,233.5L240.9,232.0L242.2,231.0L244.0,229.5L246.0,228.0L247.2,227.0L249.0,225.6L251.0,224.0L252.3,223.0L254.0,221.6L256.0,220.0L257.3,219.0L259.0,217.7L261.0,216.1L262.4,215.0L264.0,213.7L266.0,212.1L267.4,211.0L269.0,209.8L271.0,208.2L272.5,207.0L274.0,205.8L276.0,204.2L277.6,203.0L279.0,201.9L281.0,200.3L282.6,199.0L284.0,197.9L286.0,196.4L287.7,195.0L289.0,194.0L291.0,192.4L292.8,191.0L294.1,190.0L296.0,188.5L297.9,187.0L299.2,186.0L301.0,184.6L303.0,183.0L304.3,182.0L306.0,180.7L308.0,179.1L309.4,178.0L311.0,176.8L313.0,175.2L314.6,174.0L316.0,172.9L318.0,171.4L319.7,170.0L321.0,169.0L323.0,167.5L324.9,166.0L326.2,165.0L328.0,163.6L330.0,162.1L331.4,161.0L333.0,159.8L335.0,158.2L336.6,157.0L338.0,155.9L340.0,154.4L341.8,153.0L343.1,152.0L345.0,150.6L347.0,149.0L348.4,148.0L350.0,146.7L352.0,145.2L353.6,144.0L355.0,142.9L357.0,141.4L358.9,140.0L360.2,139.0L362.0,137.6L364.0,136.1L365.5,135.0L367.0,133.8L369.0,132.3L370.7,131.0L372.1,130.0L374.0,128.5L376.0,127.0L377.3,126.0L379.0,124.7L381.0,123.2L382.6,122.0L384.0,121.0L386.0,119.4L387.9,118.0L389.2,117.0L391.0,115.7L393.0,114.1L394.5,113.0L396.0,111.9L398.0,110.3L399.8,109.0L401.1,108.0L403.0,106.5L405.0,105.0L406.3,104.0L408.0,102.7L410.0,101.2L411.5,100.0L413.0,98.9L415.0,97.3L416.7,96.0L418.0,95.0L420.0,93.5L421.9,92.0L423.2,91.0L425.0,89.6L427.0,88.0L428.3,87.0L430.0,85.7L432.0,84.1L433.4,83.0L435.0,81.7L437.0,80.2L438.5,79.0L440.0,77.8L442.0,76.2L443.5,75.0L445.0,73.8L447.0,72.2L448.5,71.0L450.0,69.8L452.0,68.2L453.4,67.0L455.0,65.7L457.0,64.1L458.4,63.0L460.0,61.7L462.0,60.0L463.3,59.0L465.0,57.6L466.9,56.0L468.1,55.0L470.0,53.5L471.8,52.0L473.0,51.0L475.0,49.3L476.6,48.0L478.0,46.8L480.0,45.2L481.4,44.0L483.0,42.7L485.0,41.0L486.2,40.0L488.0,38.5L489.8,37.0L491.0,36.0L493.0,34.4L494.6,33.0L496.0,31.9L498.0,30.2L499.4,29.0L501.0,27.7L503.0,26.0L504.2,25.0L506.0,23.5L507.8,22.0L509.0,21.0L511.0,19.3L512.6,18.0L514.0,16.8L516.0,15.2L517.4,14.0L519.0,12.7L521.0,11.0L522.2,10.0L524.0,8.5L525.8,7.0L527.0,6.0L529.0,4.3L530.6,3.0L532.0,1.9L534.0,0.2" stroke-dasharray="71 6 111 7" stroke-dashoffset="71"/><path d="M0.0,440.5L1.8,439.0L3.1,438.0L5.0,436.5L6.9,435.0L8.1,434.0L10.0,432.5L11.9,431.0L13.1,430.0L15.0,428.5L16.9,427.0L18.2,426.0L20.0,424.5L21.9,423.0L23.2,422.0L25.0,420.6L27.0,419.0L28.2,418.0L30.0,416.6L32.0,415.0L33.3,414.0L35.0,412.6L37.0,411.0L38.3,410.0L40.0,408.6L42.0,407.0L43.3,406.0L45.0,404.7L47.0,403.1L48.3,402.0L50.0,400.7L52.0,399.1L53.4,398.0L55.0,396.7L57.0,395.1L58.4,394.0L60.0,392.7L62.0,391.1L63.4,390.0L65.0,388.7L67.0,387.2L68.5,386.0L70.0,384.8L72.0,383.2L73.5,382.0L75.0,380.8L77.0,379.2L78.5,378.0L80.0,376.8L82.0,375.2L83.5,374.0L85.0,372.8L87.0,371.2L88.6,370.0L90.0,368.9L92.0,367.3L93.6,366.0L95.0,364.9L97.0,363.3L98.6,362.0L100.0,360.9L102.0,359.3L103.7,358.0L105.0,356.9L107.0,355.3L108.7,354.0L110.0,353.0L112.0,351.4L113.7,350.0L115.0,349.0L117.0,347.4L118.7,346.0L120.0,345.0L122.0,343.4L123.8,342.0L125.0,341.0L127.0,339.4L128.8,338.0L130.1,337.0L132.0,335.5L133.8,334.0L135.1,333.0L137.0,331.5L138.9,330.0L140.1,329.0L142.0,327.5L143.9,326.0L145.1,325.0L147.0,323.5L148.9,322.0L150.2,321.0L152.0,319.5L153.9,318.0L155.2,317.0L157.0,315.6L159.0,314.0L160.2,313.0L162.0,311.6L164.0,310.0L165.3,309.0L167.0,307.6L169.0,306.0L170.3,305.0L172.0,303.6L174.0,302.0L175.3,301.0L177.0,299.7L179.0,298.1L180.3,297.0L182.0,295.7L184.0,294.1L185.4,293.0L187.0,291.7L189.0,290.1L190.4,289.0L192.0,287.7L194.0,286.1L195.4,285.0L197.0,283.8L199.0,282.2L200.5,281.0L202.0,279.8L204.0,278.2L205.5,277.0L207.0,275.8L209.0,274.2L210.5,273.0L212.0,271.8L214.0,270.2L215.6,269.0L217.0,267.9L219.0,266.3L220.6,265.0L222.0,263.9L224.0,262.3L225.6,261.0L227.0,259.9L229.0,258.3L230.7,257.0L232.0,255.9L234.0,254.4L235.7,253.0L237.0,252.0L239.0,250.4L240.7,249.0L242.0,248.0L244.0,246.4L245.8,245.0L247.1,244.0L249.0,242.5L250.8,241.0L252.1,240.0L254.0,238.5L255.9,237.0L257.2,236.0L259.0,234.5L261.0,233.0L262.2,232.0L264.0,230.6L266.0,229.0L267.3,228.0L269.0,226.6L271.0,225.1L272.4,224.0L274.0,222.7L276.0,221.1L277.4,220.0L279.0,218.8L281.0,217.2L282.5,216.0L284.0,214.8L286.0,213.3L287.6,212.0L289.0,210.9L291.0,209.4L292.7,208.0L294.0,207.0L296.0,205.5L297.9,204.0L299.2,203.0L301.0,201.6L303.0,200.0L304.3,199.0L306.0,197.7L308.0,196.1L309.5,195.0L311.0,193.8L313.0,192.3L314.7,191.0L316.0,190.0L318.0,188.4L319.9,187.0L321.2,186.0L323.0,184.6L325.0,183.1L326.4,182.0L328.0,180.8L330.0,179.3L331.7,178.0L333.0,177.0L335.0,175.5L337.0,174.0L338.3,173.0L340.0,171.7L342.0,170.2L343.6,169.0L345.0,167.9L347.0,166.4L348.9,165.0L350.3,164.0L352.0,162.7L354.0,161.2L355.7,160.0L357.0,159.0L359.0,157.5L361.0,156.0L362.4,155.0L364.0,153.8L366.0,152.4L367.8,151.0L369.2,150.0L371.0,148.7L373.0,147.2L374.7,146.0L376.0,145.0L378.0,143.6L380.0,142.1L381.5,141.0L383.0,139.9L385.0,138.4L387.0,137.0L388.4,136.0L390.0,134.8L392.0,133.3L393.8,132.0L395.2,131.0L397.0,129.7L399.0,128.2L400.7,127.0L402.1,126.0L404.0,124.6L406.0,123.1L407.5,122.0L409.0,120.9L411.0,119.4L412.9,118.0L414.3,117.0L416.0,115.7L418.0,114.3L419.7,113.0L421.0,112.0L423.0,110.5L425.0,109.0L426.4,108.0L428.0,106.8L430.0,105.2L431.6,104.0L433.0,103.0L435.0,101.4L436.8,100.0L438.1,99.0L440.0,97.6L442.0,96.0L443.3,95.0L445.0,93.7L447.0,92.1L448.4,91.0L450.0,89.7L452.0,88.1L453.4,87.0L455.0,85.7L457.0,84.1L458.3,83.0L460.0,81.6L462.0,80.0L463.2,79.0L465.0,77.5L466.9,76.0L468.1,75.0L470.0,73.4L471.7,72.0L473.0,70.9L475.0,69.2L476.4,68.0L478.0,66.7L480.0,65.0L481.1,64.0L483.0,62.4L484.6,61.0L486.0,59.8L488.0,58.1L489.3,57.0L491.0,55.6L492.8,54.0L494.0,53.0L496.0,51.2L497.4,50.0L499.0,48.6L500.9,47.0L502.1,46.0L504.0,44.3L505.5,43.0L507.0,41.7L509.0,40.0L510.1,39.0L512.0,37.4L513.6,36.0L515.0,34.8L517.0,33.1L518.2,32.0L520.0,30.5L521.7,29.0L523.0,27.9L525.0,26.2L526.3,25.0L528.0,23.6L529.8,22.0L531.0,21.0L533.0,19.3L534.5,18.0L536.0,16.7L538.0,15.0L539.2,14.0L541.0,12.5L542.7,11.0L544.0,9.9L546.0,8.2L547.5,7.0L549.0,5.7L551.0,4.0L552.2,3.0L554.0,1.5L555.8,0.0" stroke-dasharray="67 6 130 5" stroke-dashoffset="106"/><path d="M0.0,457.3L1.7,456.0L3.0,454.9L5.0,453.3L6.7,452.0L8.0,451.0L10.0,449.4L11.7,448.0L13.0,447.0L15.0,445.4L16.7,444.0L18.0,443.0L20.0,441.4L21.8,440.0L23.0,439.0L25.0,437.4L26.8,436.0L28.1,435.0L30.0,433.5L31.8,432.0L33.1,431.0L35.0,429.5L36.9,428.0L38.1,427.0L40.0,425.5L41.9,424.0L43.1,423.0L45.0,421.5L46.9,420.0L48.2,419.0L50.0,417.5L51.9,416.0L53.2,415.0L55.0,413.6L57.0,412.0L58.2,411.0L60.0,409.6L62.0,408.0L63.3,407.0L65.0,405.6L67.0,404.0L68.3,403.0L70.0,401.6L72.0,400.0L73.3,399.0L75.0,397.7L77.0,396.1L78.3,395.0L80.0,393.7L82.0,392.1L83.4,391.0L85.0,389.7L87.0,388.1L88.4,387.0L90.0,385.7L92.0,384.1L93.4,383.0L95.0,381.8L97.0,380.2L98.5,379.0L100.0,377.8L102.0,376.2L103.5,375.0L105.0,373.8L107.0,372.2L108.5,371.0L110.0,369.8L112.0,368.2L113.5,367.0L115.0,365.8L117.0,364.3L118.6,363.0L120.0,361.9L122.0,360.3L123.6,359.0L125.0,357.9L127.0,356.3L128.6,355.0L130.0,353.9L132.0,352.3L133.7,351.0L135.0,349.9L137.0,348.3L138.7,347.0L140.0,346.0L142.0,344.4L143.7,343.0L145.0,342.0L147.0,340.4L148.7,339.0L150.0,338.0L152.0,336.4L153.8,335.0L155.0,334.0L157.0,332.4L158.8,331.0L160.1,330.0L162.0,328.5L163.8,327.0L165.1,326.0L167.0,324.5L168.9,323.0L170.1,322.0L172.0,320.5L173.9,319.0L175.1,318.0L177.0,316.5L178.9,315.0L180.2,314.0L182.0,312.5L183.9,311.0L185.2,310.0L187.0,308.6L189.0,307.0L190.2,306.0L192.0,304.6L194.0,303.0L195.3,302.0L197.0,300.6L199.0,299.0L200.3,298.0L202.0,296.6L204.0,295.1L205.3,294.0L207.0,292.7L209.0,291.1L210.4,290.0L212.0,288.7L214.0,287.1L215.4,286.0L217.0,284.7L219.0,283.1L220.4,282.0L222.0,280.8L224.0,279.2L225.5,278.0L227.0,276.8L229.0,275.2L230.5,274.0L232.0,272.8L234.0,271.2L235.5,270.0L237.0,268.8L239.0,267.3L240.6,266.0L242.0,264.9L244.0,263.3L245.6,262.0L247.0,260.9L249.0,259.3L250.7,258.0L252.0,257.0L254.0,255.4L255.7,254.0L257.0,253.0L259.0,251.4L260.8,250.0L262.1,249.0L264.0,247.5L265.9,246.0L267.1,245.0L269.0,243.5L270.9,242.0L272.2,241.0L274.0,239.6L276.0,238.0L277.3,237.0L279.0,235.7L281.0,234.1L282.4,233.0L284.0,231.8L286.0,230.2L287.5,229.0L289.0,227.8L291.0,226.3L292.7,225.0L294.0,224.0L296.0,222.4L297.8,221.0L299.1,220.0L301.0,218.5L303.0,217.0L304.3,216.0L306.0,214.7L308.0,213.1L309.5,212.0L311.0,210.8L313.0,209.3L314.7,208.0L316.0,207.0L318.0,205.5L320.0,204.0L321.3,203.0L323.0,201.7L325.0,200.2L326.6,199.0L328.0,197.9L330.0,196.4L331.9,195.0L333.2,194.0L335.0,192.7L337.0,191.2L338.6,190.0L340.0,189.0L342.0,187.5L344.0,186.0L345.4,185.0L347.0,183.8L349.0,182.4L350.9,181.0L352.3,180.0L354.0,178.8L356.0,177.3L357.8,176.0L359.2,175.0L361.0,173.7L363.0,172.3L364.8,171.0L366.2,170.0L368.0,168.7L370.0,167.3L371.9,166.0L373.3,165.0L375.0,163.8L377.0,162.4L379.0,161.0L380.4,160.0L382.0,158.9L384.0,157.5L386.0,156.1L387.6,155.0L389.1,154.0L391.0,152.7L393.0,151.3L394.9,150.0L396.3,149.0L398.0,147.9L400.0,146.5L402.0,145.1L403.6,144.0L405.1,143.0L407.0,141.7L409.0,140.3L410.9,139.0L412.3,138.0L414.0,136.8L416.0,135.5L418.0,134.1L419.5,133.0L421.0,132.0L423.0,130.6L425.0,129.2L426.7,128.0L428.1,127.0L430.0,125.6L432.0,124.2L433.7,123.0L435.1,122.0L437.0,120.6L439.0,119.1L440.6,118.0L442.0,116.9L444.0,115.5L445.9,114.0L447.3,113.0L449.0,111.7L451.0,110.2L452.5,109.0L454.0,107.8L456.0,106.3L457.6,105.0L459.0,103.9L461.0,102.3L462.7,101.0L464.0,99.9L466.0,98.3L467.6,97.0L469.0,95.8L471.0,94.1L472.4,93.0L474.0,91.6L475.9,90.0L477.1,89.0L479.0,87.4L480.6,86.0L482.0,84.8L484.0,83.0L485.2,82.0L487.0,80.4L488.5,79.0L490.0,77.7L491.9,76.0L493.0,75.0L495.0,73.2L496.4,72.0L498.0,70.5L499.7,69.0L501.0,67.8L503.0,66.0L504.1,65.0L506.0,63.2L507.4,62.0L509.0,60.5L510.6,59.0L512.0,57.8L513.9,56.0L515.0,55.0L517.0,53.2L518.3,52.0L520.0,50.4L521.6,49.0L523.0,47.7L524.9,46.0L526.0,45.0L528.0,43.1L529.3,42.0L531.0,40.4L532.6,39.0L534.0,37.7L535.9,36.0L537.0,35.0L539.0,33.2L540.3,32.0L542.0,30.5L543.7,29.0L545.0,27.9L547.0,26.1L548.2,25.0L550.0,23.4L551.6,22.0L553.0,20.8L555.0,19.0L556.2,18.0L558.0,16.4L559.6,15.0L561.0,13.8L563.0,12.1L564.2,11.0L566.0,9.5L567.7,8.0L569.0,6.9L571.0,5.2L572.4,4.0L574.0,2.6L575.9,1.0L577.1,0.0" stroke-dasharray="95 6 89 4" stroke-dashoffset="21"/><path d="M0.0,474.2L1.5,473.0L3.0,471.8L5.0,470.2L6.5,469.0L8.0,467.8L10.0,466.2L11.5,465.0L13.0,463.8L15.0,462.3L16.6,461.0L18.0,459.9L20.0,458.3L21.6,457.0L23.0,455.9L25.0,454.3L26.6,453.0L28.0,451.9L30.0,450.3L31.7,449.0L33.0,447.9L35.0,446.3L36.7,445.0L38.0,444.0L40.0,442.4L41.7,441.0L43.0,440.0L45.0,438.4L46.7,437.0L48.0,436.0L50.0,434.4L51.8,433.0L53.0,432.0L55.0,430.4L56.8,429.0L58.1,428.0L60.0,426.5L61.8,425.0L63.1,424.0L65.0,422.5L66.9,421.0L68.1,420.0L70.0,418.5L71.9,417.0L73.1,416.0L75.0,414.5L76.9,413.0L78.2,412.0L80.0,410.5L81.9,409.0L83.2,408.0L85.0,406.6L87.0,405.0L88.2,404.0L90.0,402.6L92.0,401.0L93.3,400.0L95.0,398.6L97.0,397.0L98.3,396.0L100.0,394.6L102.0,393.0L103.3,392.0L105.0,390.7L107.0,389.1L108.3,388.0L110.0,386.7L112.0,385.1L113.4,384.0L115.0,382.7L117.0,381.1L118.4,380.0L120.0,378.7L122.0,377.1L123.4,376.0L125.0,374.8L127.0,373.2L128.5,372.0L130.0,370.8L132.0,369.2L133.5,368.0L135.0,366.8L137.0,365.2L138.5,364.0L140.0,362.8L142.0,361.2L143.5,360.0L145.0,358.8L147.0,357.3L148.6,356.0L150.0,354.9L152.0,353.3L153.6,352.0L155.0,350.9L157.0,349.3L158.6,348.0L160.0,346.9L162.0,345.3L163.7,344.0L165.0,342.9L167.0,341.3L168.7,340.0L170.0,339.0L172.0,337.4L173.7,336.0L175.0,335.0L177.0,333.4L178.8,332.0L180.0,331.0L182.0,329.4L183.8,328.0L185.0,327.0L187.0,325.4L188.8,324.0L190.1,323.0L192.0,321.5L193.8,320.0L195.1,319.0L197.0,317.5L198.9,316.0L200.1,315.0L202.0,313.5L203.9,312.0L205.2,311.0L207.0,309.5L208.9,308.0L210.2,307.0L212.0,305.6L214.0,304.0L215.2,303.0L217.0,301.6L219.0,300.0L220.3,299.0L222.0,297.6L224.0,296.0L225.3,295.0L227.0,293.6L229.0,292.1L230.3,291.0L232.0,289.7L234.0,288.1L235.4,287.0L237.0,285.7L239.0,284.1L240.4,283.0L242.0,281.7L244.0,280.2L245.5,279.0L247.0,277.8L249.0,276.2L250.5,275.0L252.0,273.8L254.0,272.2L255.6,271.0L257.0,269.9L259.0,268.3L260.6,267.0L262.0,265.9L264.0,264.3L265.7,263.0L267.0,262.0L269.0,260.4L270.8,259.0L272.1,258.0L274.0,256.5L275.9,255.0L277.1,254.0L279.0,252.5L281.0,251.0L282.3,250.0L284.0,248.6L286.0,247.1L287.4,246.0L289.0,244.7L291.0,243.2L292.5,242.0L294.0,240.9L296.0,239.3L297.7,238.0L299.0,237.0L301.0,235.4L302.9,234.0L304.2,233.0L306.0,231.6L308.0,230.1L309.4,229.0L311.0,227.8L313.0,226.3L314.7,225.0L316.0,224.0L318.0,222.5L320.0,221.0L321.3,220.0L323.0,218.7L325.0,217.2L326.6,216.0L328.0,215.0L330.0,213.5L332.0,212.0L333.4,211.0L335.0,209.8L337.0,208.4L338.9,207.0L340.2,206.0L342.0,204.7L344.0,203.3L345.8,202.0L347.2,201.0L349.0,199.7L351.0,198.3L352.8,197.0L354.2,196.0L356.0,194.7L358.0,193.3L359.9,192.0L361.4,191.0L363.0,189.9L365.0,188.5L367.0,187.1L368.7,186.0L370.1,185.0L372.0,183.7L374.0,182.4L376.0,181.0L377.6,180.0L379.1,179.0L381.0,177.7L383.0,176.4L385.0,175.1L386.7,174.0L388.2,173.0L390.0,171.8L392.0,170.5L394.0,169.2L395.9,168.0L397.5,167.0L399.0,166.0L401.0,164.7L403.0,163.5L405.0,162.2L406.9,161.0L408.4,160.0L410.0,159.0L412.0,157.7L414.0,156.5L416.0,155.2L417.9,154.0L419.5,153.0L421.0,152.0L423.0,150.8L425.0,149.5L427.0,148.2L428.8,147.0L430.4,146.0L432.0,145.0L434.0,143.7L436.0,142.3L438.0,141.0L439.5,140.0L441.0,139.0L443.0,137.7L445.0,136.3L446.9,135.0L448.4,134.0L450.0,132.9L452.0,131.5L454.0,130.0L455.4,129.0L457.0,127.9L459.0,126.4L460.9,125.0L462.2,124.0L464.0,122.7L466.0,121.1L467.4,120.0L469.0,118.8L471.0,117.2L472.5,116.0L474.0,114.8L476.0,113.1L477.3,112.0L479.0,110.6L480.9,109.0L482.0,108.0L484.0,106.3L485.5,105.0L487.0,103.7L488.8,102.0L490.0,101.0L492.0,99.1L493.2,98.0L495.0,96.4L496.5,95.0L498.0,93.6L499.7,92.0L501.0,90.7L502.8,89.0L504.0,87.9L505.9,86.0L507.0,85.0L509.0,83.0L510.1,82.0L512.0,80.1L513.1,79.0L515.0,77.2L516.2,76.0L518.0,74.2L519.2,73.0L521.0,71.3L522.3,70.0L524.0,68.3L525.3,67.0L527.0,65.4L528.4,64.0L530.0,62.4L531.4,61.0L533.0,59.5L534.5,58.0L536.0,56.6L537.6,55.0L539.0,53.6L540.7,52.0L542.0,50.8L543.8,49.0L545.0,47.9L547.0,46.0L548.0,45.0L550.0,43.1L551.2,42.0L553.0,40.3L554.4,39.0L556.0,37.5L557.6,36.0L559.0,34.7L560.8,33.0L562.0,31.9L564.0,30.1L565.2,29.0L567.0,27.4L568.5,26.0L570.0,24.7L571.8,23.0L573.0,22.0L575.0,20.2L576.3,19.0L578.0,17.5L579.7,16.0L581.0,14.9L583.0,13.1L584.3,12.0L586.0,10.5L587.7,9.0L589.0,7.9L591.0,6.2L592.4,5.0L594.0,3.6L595.9,2.0L597.0,1.0" stroke-dasharray="72 4 89 4" stroke-dashoffset="3"/><path d="M0.0,491.1L1.3,490.0L3.0,488.7L5.0,487.1L6.3,486.0L8.0,484.7L10.0,483.1L11.4,482.0L13.0,480.7L15.0,479.1L16.4,478.0L18.0,476.7L20.0,475.1L21.4,474.0L23.0,472.8L25.0,471.2L26.5,470.0L28.0,468.8L30.0,467.2L31.5,466.0L33.0,464.8L35.0,463.2L36.5,462.0L38.0,460.8L40.0,459.2L41.5,458.0L43.0,456.8L45.0,455.3L46.6,454.0L48.0,452.9L50.0,451.3L51.6,450.0L53.0,448.9L55.0,447.3L56.6,446.0L58.0,444.9L60.0,443.3L61.7,442.0L63.0,440.9L65.0,439.3L66.7,438.0L68.0,437.0L70.0,435.4L71.7,434.0L73.0,433.0L75.0,431.4L76.8,430.0L78.0,429.0L80.0,427.4L81.8,426.0L83.0,425.0L85.0,423.4L86.8,422.0L88.1,421.0L90.0,419.5L91.8,418.0L93.1,417.0L95.0,415.5L96.9,414.0L98.1,413.0L100.0,411.5L101.9,410.0L103.2,409.0L105.0,407.5L106.9,406.0L108.2,405.0L110.0,403.6L112.0,402.0L113.2,401.0L115.0,399.6L117.0,398.0L118.2,397.0L120.0,395.6L122.0,394.0L123.3,393.0L125.0,391.6L127.0,390.0L128.3,389.0L130.0,387.6L132.0,386.1L133.3,385.0L135.0,383.7L137.0,382.1L138.4,381.0L140.0,379.7L142.0,378.1L143.4,377.0L145.0,375.7L147.0,374.1L148.4,373.0L150.0,371.7L152.0,370.1L153.4,369.0L155.0,367.8L157.0,366.2L158.5,365.0L160.0,363.8L162.0,362.2L163.5,361.0L165.0,359.8L167.0,358.2L168.5,357.0L170.0,355.8L172.0,354.2L173.6,353.0L175.0,351.8L177.0,350.3L178.6,349.0L180.0,347.9L182.0,346.3L183.6,345.0L185.0,343.9L187.0,342.3L188.6,341.0L190.0,339.9L192.0,338.3L193.7,337.0L195.0,335.9L197.0,334.4L198.7,333.0L200.0,332.0L202.0,330.4L203.7,329.0L205.0,328.0L207.0,326.4L208.8,325.0L210.0,324.0L212.0,322.4L213.8,321.0L215.1,320.0L217.0,318.5L218.8,317.0L220.1,316.0L222.0,314.5L223.9,313.0L225.1,312.0L227.0,310.5L228.9,309.0L230.2,308.0L232.0,306.5L233.9,305.0L235.2,304.0L237.0,302.6L239.0,301.0L240.2,300.0L242.0,298.6L244.0,297.0L245.3,296.0L247.0,294.6L249.0,293.1L250.3,292.0L252.0,290.7L254.0,289.1L255.4,288.0L257.0,286.7L259.0,285.1L260.5,284.0L262.0,282.8L264.0,281.2L265.5,280.0L267.0,278.8L269.0,277.3L270.6,276.0L272.0,274.9L274.0,273.3L275.7,272.0L277.0,271.0L279.0,269.4L280.8,268.0L282.1,267.0L284.0,265.5L285.9,264.0L287.2,263.0L289.0,261.6L291.0,260.0L292.3,259.0L294.0,257.7L296.0,256.2L297.5,255.0L299.0,253.9L301.0,252.3L302.7,251.0L304.0,250.0L306.0,248.5L307.9,247.0L309.2,246.0L311.0,244.7L313.0,243.2L314.5,242.0L316.0,240.9L318.0,239.4L319.8,238.0L321.2,237.0L323.0,235.6L325.0,234.2L326.6,233.0L328.0,231.9L330.0,230.5L332.0,229.0L333.4,228.0L335.0,226.8L337.0,225.4L338.9,224.0L340.3,223.0L342.0,221.8L344.0,220.3L345.9,219.0L347.3,218.0L349.0,216.8L351.0,215.4L353.0,214.0L354.5,213.0L356.0,211.9L358.0,210.6L360.0,209.2L361.8,208.0L363.3,207.0L365.0,205.8L367.0,204.5L369.0,203.2L370.8,202.0L372.3,201.0L374.0,199.9L376.0,198.6L378.0,197.3L380.0,196.1L381.7,195.0L383.2,194.0L385.0,192.9L387.0,191.6L389.0,190.4L391.0,189.2L392.9,188.0L394.5,187.0L396.2,186.0L398.0,184.9L400.0,183.7L402.0,182.5L404.0,181.3L406.0,180.1L407.9,179.0L409.6,178.0L411.3,177.0L413.0,176.0L415.0,174.8L417.0,173.7L419.0,172.5L421.0,171.3L423.0,170.2L425.0,169.0L426.7,168.0L428.4,167.0L430.1,166.0L432.0,164.9L434.0,163.7L436.0,162.5L438.0,161.4L440.0,160.2L441.9,159.0L443.6,158.0L445.2,157.0L447.0,155.9L449.0,154.7L451.0,153.4L453.0,152.1L454.8,151.0L456.3,150.0L458.0,148.9L460.0,147.6L462.0,146.2L463.8,145.0L465.2,144.0L467.0,142.8L469.0,141.3L470.8,140.0L472.2,139.0L474.0,137.7L476.0,136.2L477.5,135.0L479.0,133.8L481.0,132.3L482.6,131.0L484.0,129.8L486.0,128.2L487.4,127.0L489.0,125.6L490.9,124.0L492.0,123.0L494.0,121.3L495.4,120.0L497.0,118.5L498.7,117.0L500.0,115.8L501.9,114.0L503.0,112.9L505.0,111.0L506.0,110.0L508.0,108.0L509.0,107.0L511.0,105.0L512.0,104.0L514.0,102.0L515.0,101.0L516.9,99.0L518.0,97.9L519.8,96.0L521.0,94.8L522.7,93.0L524.0,91.6L525.5,90.0L527.0,88.4L528.4,87.0L530.0,85.3L531.2,84.0L533.0,82.1L534.0,81.0L535.9,79.0L537.0,77.9L538.8,76.0L540.0,74.7L541.6,73.0L543.0,71.5L544.5,70.0L546.0,68.4L547.3,67.0L549.0,65.3L550.2,64.0L552.0,62.2L553.2,61.0L555.0,59.1L556.1,58.0L558.0,56.1L559.1,55.0L561.0,53.1L562.1,52.0L564.0,50.1L565.1,49.0L567.0,47.1L568.2,46.0L570.0,44.2L571.3,43.0L573.0,41.3L574.4,40.0L576.0,38.5L577.6,37.0L579.0,35.6L580.8,34.0L582.0,32.8L584.0,31.0L585.1,30.0L587.0,28.2L588.3,27.0L590.0,25.5L591.6,24.0L593.0,22.8L595.0,21.0L596.1,20.0L598.0,18.3L599.5,17.0L601.0,15.7L602.9,14.0L604.0,13.0L606.0,11.3L607.5,10.0L609.0,8.7L610.9,7.0L612.1,6.0L614.0,4.4L615.6,3.0L617.0,1.8L619.0,0.1" stroke-dasharray="112 4 93 5" stroke-dashoffset="1"/><path d="M0.0,507.9L2.0,506.3L3.7,505.0L5.0,503.9L7.0,502.3L8.7,501.0L10.0,500.0L12.0,498.4L13.7,497.0L15.0,496.0L17.0,494.4L18.8,493.0L20.0,492.0L22.0,490.4L23.8,489.0L25.0,488.0L27.0,486.4L28.8,485.0L30.1,484.0L32.0,482.5L33.8,481.0L35.1,480.0L37.0,478.5L38.9,477.0L40.1,476.0L42.0,474.5L43.9,473.0L45.2,472.0L47.0,470.5L48.9,469.0L50.2,468.0L52.0,466.6L54.0,465.0L55.2,464.0L57.0,462.6L59.0,461.0L60.2,460.0L62.0,458.6L64.0,457.0L65.3,456.0L67.0,454.6L69.0,453.0L70.3,452.0L72.0,450.6L74.0,449.1L75.3,448.0L77.0,446.7L79.0,445.1L80.4,444.0L82.0,442.7L84.0,441.1L85.4,440.0L87.0,438.7L89.0,437.1L90.4,436.0L92.0,434.7L94.0,433.1L95.4,432.0L97.0,430.8L99.0,429.2L100.5,428.0L102.0,426.8L104.0,425.2L105.5,424.0L107.0,422.8L109.0,421.2L110.5,420.0L112.0,418.8L114.0,417.2L115.6,416.0L117.0,414.9L119.0,413.3L120.6,412.0L122.0,410.9L124.0,409.3L125.6,408.0L127.0,406.9L129.0,405.3L130.6,404.0L132.0,402.9L134.0,401.3L135.7,400.0L137.0,398.9L139.0,397.4L140.7,396.0L142.0,395.0L144.0,393.4L145.7,392.0L147.0,391.0L149.0,389.4L150.8,388.0L152.0,387.0L154.0,385.4L155.8,384.0L157.0,383.0L159.0,381.4L160.8,380.0L162.1,379.0L164.0,377.5L165.8,376.0L167.1,375.0L169.0,373.5L170.9,372.0L172.1,371.0L174.0,369.5L175.9,368.0L177.2,367.0L179.0,365.5L180.9,364.0L182.2,363.0L184.0,361.6L186.0,360.0L187.2,359.0L189.0,357.6L191.0,356.0L192.2,355.0L194.0,353.6L196.0,352.0L197.3,351.0L199.0,349.6L201.0,348.0L202.3,347.0L204.0,345.7L206.0,344.1L207.3,343.0L209.0,341.7L211.0,340.1L212.4,339.0L214.0,337.7L216.0,336.1L217.4,335.0L219.0,333.7L221.0,332.1L222.4,331.0L224.0,329.8L226.0,328.2L227.5,327.0L229.0,325.8L231.0,324.2L232.5,323.0L234.0,321.8L236.0,320.2L237.5,319.0L239.0,317.8L241.0,316.3L242.6,315.0L244.0,313.9L246.0,312.3L247.6,311.0L249.0,309.9L251.0,308.3L252.7,307.0L254.0,306.0L256.0,304.4L257.7,303.0L259.0,302.0L261.0,300.4L262.8,299.0L264.1,298.0L266.0,296.5L267.9,295.0L269.1,294.0L271.0,292.5L272.9,291.0L274.2,290.0L276.0,288.6L278.0,287.0L279.3,286.0L281.0,284.7L283.0,283.1L284.4,282.0L286.0,280.8L288.0,279.2L289.5,278.0L291.0,276.9L293.0,275.3L294.7,274.0L296.0,273.0L298.0,271.4L299.9,270.0L301.2,269.0L303.0,267.6L305.0,266.1L306.4,265.0L308.0,263.8L310.0,262.2L311.6,261.0L313.0,260.0L315.0,258.4L316.9,257.0L318.3,256.0L320.0,254.7L322.0,253.2L323.6,252.0L325.0,251.0L327.0,249.5L329.0,248.0L330.4,247.0L332.0,245.8L334.0,244.4L335.9,243.0L337.3,242.0L339.0,240.7L341.0,239.3L342.8,238.0L344.3,237.0L346.0,235.8L348.0,234.4L350.0,233.0L351.4,232.0L353.0,230.9L355.0,229.5L357.0,228.2L358.7,227.0L360.2,226.0L362.0,224.8L364.0,223.5L366.0,222.1L367.7,221.0L369.3,220.0L371.0,218.9L373.0,217.6L375.0,216.3L377.0,215.1L378.7,214.0L380.3,213.0L382.0,211.9L384.0,210.7L386.0,209.5L388.0,208.3L390.0,207.1L391.8,206.0L393.5,205.0L395.2,204.0L397.0,202.9L399.0,201.8L401.0,200.6L403.0,199.5L405.0,198.3L407.0,197.2L409.0,196.1L410.9,195.0L412.7,194.0L414.5,193.0L416.3,192.0L418.1,191.0L420.0,189.9L422.0,188.8L424.0,187.7L426.0,186.6L428.0,185.5L430.0,184.4L432.0,183.3L434.0,182.2L436.0,181.1L438.0,180.0L439.8,179.0L441.6,178.0L443.4,177.0L445.1,176.0L447.0,174.9L449.0,173.8L451.0,172.6L453.0,171.5L455.0,170.3L457.0,169.1L458.8,168.0L460.4,167.0L462.1,166.0L464.0,164.8L466.0,163.5L468.0,162.2L469.9,161.0L471.4,160.0L473.0,158.9L475.0,157.6L477.0,156.2L478.7,155.0L480.1,154.0L482.0,152.6L484.0,151.1L485.5,150.0L487.0,148.8L489.0,147.3L490.6,146.0L492.0,144.9L494.0,143.3L495.5,142.0L497.0,140.8L499.0,139.1L500.2,138.0L502.0,136.4L503.6,135.0L505.0,133.7L506.9,132.0L508.0,131.0L510.0,129.1L511.1,128.0L513.0,126.2L514.2,125.0L516.0,123.2L517.2,122.0L519.0,120.2L520.2,119.0L522.0,117.1L523.1,116.0L525.0,114.0L526.0,112.9L527.8,111.0L529.0,109.7L530.6,108.0L532.0,106.4L533.3,105.0L535.0,103.1L536.0,102.0L537.8,100.0L539.0,98.7L540.5,97.0L542.0,95.4L543.2,94.0L545.0,92.0L546.0,90.9L547.7,89.0L549.0,87.6L550.4,86.0L552.0,84.3L553.1,83.0L555.0,81.0L556.0,79.8L557.7,78.0L559.0,76.6L560.4,75.0L562.0,73.3L563.2,72.0L565.0,70.1L566.0,69.0L567.9,67.0L569.0,65.8L570.8,64.0L572.0,62.7L573.6,61.0L575.0,59.6L576.6,58.0L578.0,56.5L579.5,55.0L581.0,53.5L582.5,52.0L584.0,50.5L585.5,49.0L587.0,47.5L588.6,46.0L590.0,44.6L591.7,43.0L593.0,41.7L594.8,40.0L596.0,38.9L598.0,37.0L599.1,36.0L601.0,34.2L602.3,33.0L604.0,31.4L605.6,30.0L607.0,28.7L608.9,27.0L610.0,26.0L612.0,24.2L613.3,23.0L615.0,21.5L616.7,20.0L618.0,18.8L620.0,17.1L621.2,16.0L623.0,14.5L624.7,13.0L626.0,11.9L628.0,10.2L629.3,9.0L631.0,7.6L632.9,6.0L634.0,5.0L636.0,3.3L637.6,2.0L639.0,0.8" stroke-dasharray="68 6 128 5" stroke-dashoffset="144"/><path d="M7.3,519.0L9.0,517.6L11.0,516.0L12.3,515.0L14.0,513.6L16.0,512.1L17.3,511.0L19.0,509.7L21.0,508.1L22.4,507.0L24.0,505.7L26.0,504.1L27.4,503.0L29.0,501.7L31.0,500.1L32.4,499.0L34.0,497.7L36.0,496.1L37.4,495.0L39.0,493.8L41.0,492.2L42.5,491.0L44.0,489.8L46.0,488.2L47.5,487.0L49.0,485.8L51.0,484.2L52.5,483.0L54.0,481.8L56.0,480.2L57.6,479.0L59.0,477.9L61.0,476.3L62.6,475.0L64.0,473.9L66.0,472.3L67.6,471.0L69.0,469.9L71.0,468.3L72.6,467.0L74.0,465.9L76.0,464.3L77.7,463.0L79.0,461.9L81.0,460.4L82.7,459.0L84.0,458.0L86.0,456.4L87.7,455.0L89.0,454.0L91.0,452.4L92.8,451.0L94.0,450.0L96.0,448.4L97.8,447.0L99.0,446.0L101.0,444.4L102.8,443.0L104.1,442.0L106.0,440.5L107.8,439.0L109.1,438.0L111.0,436.5L112.9,435.0L114.1,434.0L116.0,432.5L117.9,431.0L119.2,430.0L121.0,428.5L122.9,427.0L124.2,426.0L126.0,424.6L128.0,423.0L129.2,422.0L131.0,420.6L133.0,419.0L134.2,418.0L136.0,416.6L138.0,415.0L139.3,414.0L141.0,412.6L143.0,411.0L144.3,410.0L146.0,408.7L148.0,407.1L149.3,406.0L151.0,404.7L153.0,403.1L154.4,402.0L156.0,400.7L158.0,399.1L159.4,398.0L161.0,396.7L163.0,395.1L164.4,394.0L166.0,392.7L168.0,391.2L169.4,390.0L171.0,388.8L173.0,387.2L174.5,386.0L176.0,384.8L178.0,383.2L179.5,382.0L181.0,380.8L183.0,379.2L184.5,378.0L186.0,376.8L188.0,375.2L189.6,374.0L191.0,372.9L193.0,371.3L194.6,370.0L196.0,368.9L198.0,367.3L199.6,366.0L201.0,364.9L203.0,363.3L204.7,362.0L206.0,360.9L208.0,359.3L209.7,358.0L211.0,357.0L213.0,355.4L214.7,354.0L216.0,353.0L218.0,351.4L219.7,350.0L221.0,349.0L223.0,347.4L224.8,346.0L226.0,345.0L228.0,343.4L229.8,342.0L231.1,341.0L233.0,339.5L234.8,338.0L236.1,337.0L238.0,335.5L239.9,334.0L241.1,333.0L243.0,331.5L244.9,330.0L246.2,329.0L248.0,327.6L250.0,326.0L251.2,325.0L253.0,323.6L255.0,322.0L256.3,321.0L258.0,319.6L260.0,318.1L261.3,317.0L263.0,315.7L265.0,314.1L266.4,313.0L268.0,311.7L270.0,310.2L271.5,309.0L273.0,307.8L275.0,306.2L276.5,305.0L278.0,303.9L280.0,302.3L281.6,301.0L283.0,299.9L285.0,298.4L286.7,297.0L288.0,296.0L290.0,294.5L291.9,293.0L293.1,292.0L295.0,290.6L297.0,289.0L298.3,288.0L300.0,286.7L302.0,285.1L303.5,284.0L305.0,282.8L307.0,281.3L308.7,280.0L310.0,279.0L312.0,277.5L313.9,276.0L315.2,275.0L317.0,273.7L319.0,272.2L320.5,271.0L322.0,269.9L324.0,268.4L325.9,267.0L327.2,266.0L329.0,264.7L331.0,263.2L332.7,262.0L334.0,261.0L336.0,259.6L338.0,258.1L339.6,257.0L341.0,256.0L343.0,254.5L345.0,253.1L346.6,252.0L348.0,251.0L350.0,249.6L352.0,248.2L353.7,247.0L355.2,246.0L357.0,244.8L359.0,243.4L361.0,242.1L362.6,241.0L364.1,240.0L366.0,238.7L368.0,237.4L370.0,236.1L371.7,235.0L373.3,234.0L375.0,232.9L377.0,231.6L379.0,230.4L381.0,229.1L382.8,228.0L384.5,227.0L386.1,226.0L388.0,224.8L390.0,223.6L392.0,222.5L394.0,221.3L396.0,220.1L397.9,219.0L399.6,218.0L401.4,217.0L403.1,216.0L405.0,214.9L407.0,213.8L409.0,212.7L411.0,211.6L413.0,210.5L415.0,209.4L417.0,208.3L419.0,207.2L421.0,206.1L423.0,205.0L424.9,204.0L426.7,203.0L428.6,202.0L430.5,201.0L432.3,200.0L434.2,199.0L436.0,198.0L438.0,196.9L440.0,195.8L442.0,194.8L444.0,193.7L446.0,192.6L448.0,191.5L450.0,190.3L452.0,189.2L454.0,188.1L455.9,187.0L457.7,186.0L459.4,185.0L461.1,184.0L463.0,182.9L465.0,181.7L467.0,180.5L469.0,179.2L471.0,178.0L472.6,177.0L474.2,176.0L476.0,174.8L478.0,173.5L480.0,172.2L481.7,171.0L483.2,170.0L485.0,168.7L487.0,167.3L488.9,166.0L490.2,165.0L492.0,163.7L494.0,162.2L495.6,161.0L497.0,159.9L499.0,158.3L500.7,157.0L502.0,155.9L504.0,154.3L505.5,153.0L507.0,151.7L509.0,150.0L510.2,149.0L512.0,147.4L513.5,146.0L515.0,144.7L516.8,143.0L518.0,141.9L520.0,140.0L521.0,139.0L523.0,137.1L524.1,136.0L526.0,134.1L527.1,133.0L529.0,131.1L530.1,130.0L532.0,128.0L533.0,126.9L534.8,125.0L536.0,123.8L537.6,122.0L539.0,120.5L540.4,119.0L542.0,117.3L543.1,116.0L545.0,114.0L546.0,112.8L547.6,111.0L549.0,109.5L550.3,108.0L552.0,106.1L553.0,105.0L554.8,103.0L556.0,101.6L557.4,100.0L559.0,98.2L560.1,97.0L561.8,95.0L563.0,93.7L564.5,92.0L566.0,90.3L567.2,89.0L568.9,87.0L570.0,85.8L571.6,84.0L573.0,82.5L574.4,81.0L576.0,79.2L577.1,78.0L579.0,76.0L580.0,74.9L581.7,73.0L583.0,71.7L584.6,70.0L586.0,68.5L587.4,67.0L589.0,65.4L590.3,64.0L592.0,62.3L593.2,61.0L595.0,59.2L596.2,58.0L598.0,56.2L599.2,55.0L601.0,53.2L602.2,52.0L604.0,50.3L605.3,49.0L607.0,47.4L608.5,46.0L610.0,44.5L611.6,43.0L613.0,41.7L614.8,40.0L616.0,38.9L618.0,37.1L619.1,36.0L621.0,34.3L622.4,33.0L624.0,31.6L625.8,30.0L627.0,28.9L629.0,27.1L630.3,26.0L632.0,24.5L633.7,23.0L635.0,21.8L637.0,20.1L638.3,19.0L640.0,17.5L641.8,16.0L643.0,14.9L645.0,13.2L646.4,12.0L648.0,10.7L650.0,9.0L651.2,8.0L653.0,6.5L654.8,5.0L656.0,4.0L658.0,2.3L659.6,1.0" stroke-dasharray="90 4 148 7" stroke-dashoffset="13"/><path d="M28.5,519.0L30.0,517.8L32.0,516.2L33.5,515.0L35.0,513.8L37.0,512.2L38.5,511.0L40.0,509.8L42.0,508.2L43.6,507.0L45.0,505.9L47.0,504.3L48.6,503.0L50.0,501.9L52.0,500.3L53.6,499.0L55.0,497.9L57.0,496.3L58.6,495.0L60.0,493.9L62.0,492.3L63.7,491.0L65.0,489.9L67.0,488.4L68.7,487.0L70.0,486.0L72.0,484.4L73.7,483.0L75.0,482.0L77.0,480.4L78.8,479.0L80.0,478.0L82.0,476.4L83.8,475.0L85.0,474.0L87.0,472.4L88.8,471.0L90.1,470.0L92.0,468.5L93.8,467.0L95.1,466.0L97.0,464.5L98.9,463.0L100.1,462.0L102.0,460.5L103.9,459.0L105.2,458.0L107.0,456.5L108.9,455.0L110.2,454.0L112.0,452.6L114.0,451.0L115.2,450.0L117.0,448.6L119.0,447.0L120.2,446.0L122.0,444.6L124.0,443.0L125.3,442.0L127.0,440.6L129.0,439.0L130.3,438.0L132.0,436.7L134.0,435.1L135.3,434.0L137.0,432.7L139.0,431.1L140.4,430.0L142.0,428.7L144.0,427.1L145.4,426.0L147.0,424.7L149.0,423.1L150.4,422.0L152.0,420.7L154.0,419.2L155.4,418.0L157.0,416.8L159.0,415.2L160.5,414.0L162.0,412.8L164.0,411.2L165.5,410.0L167.0,408.8L169.0,407.2L170.5,406.0L172.0,404.8L174.0,403.2L175.6,402.0L177.0,400.9L179.0,399.3L180.6,398.0L182.0,396.9L184.0,395.3L185.6,394.0L187.0,392.9L189.0,391.3L190.7,390.0L192.0,388.9L194.0,387.3L195.7,386.0L197.0,385.0L199.0,383.4L200.7,382.0L202.0,381.0L204.0,379.4L205.7,378.0L207.0,377.0L209.0,375.4L210.8,374.0L212.0,373.0L214.0,371.4L215.8,370.0L217.1,369.0L219.0,367.5L220.8,366.0L222.1,365.0L224.0,363.5L225.9,362.0L227.1,361.0L229.0,359.5L230.9,358.0L232.2,357.0L234.0,355.5L235.9,354.0L237.2,353.0L239.0,351.6L241.0,350.0L242.2,349.0L244.0,347.6L246.0,346.0L247.3,345.0L249.0,343.6L251.0,342.0L252.3,341.0L254.0,339.7L256.0,338.1L257.3,337.0L259.0,335.7L261.0,334.1L262.4,333.0L264.0,331.7L266.0,330.1L267.5,329.0L269.0,327.8L271.0,326.2L272.5,325.0L274.0,323.8L276.0,322.2L277.6,321.0L279.0,319.9L281.0,318.3L282.7,317.0L284.0,316.0L286.0,314.4L287.8,313.0L289.0,312.0L291.0,310.5L292.9,309.0L294.1,308.0L296.0,306.6L298.0,305.0L299.3,304.0L301.0,302.7L303.0,301.1L304.4,300.0L306.0,298.8L308.0,297.2L309.6,296.0L311.0,294.9L313.0,293.4L314.8,292.0L316.1,291.0L318.0,289.6L320.0,288.1L321.4,287.0L323.0,285.8L325.0,284.3L326.7,283.0L328.1,282.0L330.0,280.6L332.0,279.1L333.4,278.0L335.0,276.9L337.0,275.4L338.9,274.0L340.3,273.0L342.0,271.7L344.0,270.3L345.8,269.0L347.2,268.0L349.0,266.7L351.0,265.3L352.9,264.0L354.3,263.0L356.0,261.8L358.0,260.4L360.0,259.1L361.6,258.0L363.0,257.0L365.0,255.7L367.0,254.3L369.0,253.0L370.5,252.0L372.0,251.0L374.0,249.7L376.0,248.4L378.0,247.1L379.8,246.0L381.4,245.0L383.0,244.0L385.0,242.7L387.0,241.5L389.0,240.3L391.0,239.0L392.7,238.0L394.4,237.0L396.1,236.0L398.0,234.9L400.0,233.7L402.0,232.5L404.0,231.4L406.0,230.2L408.0,229.1L409.9,228.0L411.7,227.0L413.4,226.0L415.2,225.0L417.0,224.0L419.0,222.9L421.0,221.8L423.0,220.7L425.0,219.6L427.0,218.5L429.0,217.4L431.0,216.3L433.0,215.2L435.0,214.1L437.0,213.1L438.9,212.0L440.8,211.0L442.6,210.0L444.4,209.0L446.2,208.0L448.0,207.0L450.0,205.9L452.0,204.8L454.0,203.7L456.0,202.5L458.0,201.4L460.0,200.2L462.0,199.1L463.9,198.0L465.5,197.0L467.2,196.0L469.0,194.9L471.0,193.7L473.0,192.5L475.0,191.3L477.0,190.0L478.6,189.0L480.1,188.0L482.0,186.8L484.0,185.5L486.0,184.1L487.7,183.0L489.1,182.0L491.0,180.7L493.0,179.3L494.8,178.0L496.2,177.0L498.0,175.7L500.0,174.2L501.5,173.0L503.0,171.9L505.0,170.3L506.7,169.0L508.0,168.0L510.0,166.4L511.6,165.0L513.0,163.9L515.0,162.2L516.4,161.0L518.0,159.6L519.8,158.0L521.0,157.0L523.0,155.2L524.3,154.0L526.0,152.4L527.5,151.0L529.0,149.6L530.7,148.0L532.0,146.8L533.8,145.0L535.0,143.8L536.8,142.0L538.0,140.8L539.8,139.0L541.0,137.8L542.7,136.0L544.0,134.7L545.6,133.0L547.0,131.5L548.4,130.0L550.0,128.3L551.2,127.0L553.0,125.1L554.0,124.0L555.8,122.0L557.0,120.7L558.5,119.0L560.0,117.4L561.2,116.0L563.0,114.0L564.0,112.9L565.7,111.0L567.0,109.6L568.4,108.0L570.0,106.2L571.1,105.0L572.9,103.0L574.0,101.7L575.5,100.0L577.0,98.4L578.2,97.0L580.0,95.0L581.0,93.9L582.7,92.0L584.0,90.6L585.5,89.0L587.0,87.3L588.2,86.0L590.0,84.1L591.0,83.0L592.9,81.0L594.0,79.8L595.7,78.0L597.0,76.6L598.6,75.0L600.0,73.5L601.4,72.0L603.0,70.4L604.4,69.0L606.0,67.4L607.3,66.0L609.0,64.3L610.3,63.0L612.0,61.4L613.4,60.0L615.0,58.4L616.5,57.0L618.0,55.5L619.6,54.0L621.0,52.6L622.7,51.0L624.0,49.8L625.9,48.0L627.0,47.0L629.0,45.2L630.3,44.0L632.0,42.4L633.6,41.0L635.0,39.7L636.9,38.0L638.0,37.0L640.0,35.2L641.4,34.0L643.0,32.6L644.8,31.0L646.0,29.9L648.0,28.2L649.4,27.0L651.0,25.6L652.9,24.0L654.0,23.0L656.0,21.3L657.6,20.0L659.0,18.8L661.0,17.1L662.3,16.0L664.0,14.6L665.9,13.0L667.1,12.0L669.0,10.4L670.7,9.0L672.0,7.9L674.0,6.2L675.5,5.0L677.0,3.8L679.0,2.1L680.4,1.0" stroke-dasharray="108 6 110 6" stroke-dashoffset="100"/><path d="M49.7,519.0L51.0,517.9L53.0,516.4L54.7,515.0L56.0,514.0L58.0,512.4L59.7,511.0L61.0,510.0L63.0,508.4L64.8,507.0L66.0,506.0L68.0,504.4L69.8,503.0L71.1,502.0L73.0,500.5L74.8,499.0L76.1,498.0L78.0,496.5L79.9,495.0L81.1,494.0L83.0,492.5L84.9,491.0L86.1,490.0L88.0,488.5L89.9,487.0L91.2,486.0L93.0,484.5L94.9,483.0L96.2,482.0L98.0,480.6L100.0,479.0L101.2,478.0L103.0,476.6L105.0,475.0L106.3,474.0L108.0,472.6L110.0,471.0L111.3,470.0L113.0,468.6L115.0,467.0L116.3,466.0L118.0,464.7L120.0,463.1L121.3,462.0L123.0,460.7L125.0,459.1L126.4,458.0L128.0,456.7L130.0,455.1L131.4,454.0L133.0,452.7L135.0,451.1L136.4,450.0L138.0,448.7L140.0,447.2L141.5,446.0L143.0,444.8L145.0,443.2L146.5,442.0L148.0,440.8L150.0,439.2L151.5,438.0L153.0,436.8L155.0,435.2L156.5,434.0L158.0,432.8L160.0,431.2L161.6,430.0L163.0,428.9L165.0,427.3L166.6,426.0L168.0,424.9L170.0,423.3L171.6,422.0L173.0,420.9L175.0,419.3L176.7,418.0L178.0,416.9L180.0,415.3L181.7,414.0L183.0,413.0L185.0,411.4L186.7,410.0L188.0,409.0L190.0,407.4L191.7,406.0L193.0,405.0L195.0,403.4L196.8,402.0L198.0,401.0L200.0,399.4L201.8,398.0L203.1,397.0L205.0,395.5L206.8,394.0L208.1,393.0L210.0,391.5L211.9,390.0L213.1,389.0L215.0,387.5L216.9,386.0L218.1,385.0L220.0,383.5L221.9,382.0L223.2,381.0L225.0,379.5L226.9,378.0L228.2,377.0L230.0,375.6L232.0,374.0L233.2,373.0L235.0,371.6L237.0,370.0L238.3,369.0L240.0,367.6L242.0,366.0L243.3,365.0L245.0,363.7L247.0,362.1L248.3,361.0L250.0,359.7L252.0,358.1L253.4,357.0L255.0,355.7L257.0,354.1L258.4,353.0L260.0,351.7L262.0,350.2L263.5,349.0L265.0,347.8L267.0,346.2L268.5,345.0L270.0,343.8L272.0,342.2L273.6,341.0L275.0,339.9L277.0,338.3L278.6,337.0L280.0,335.9L282.0,334.3L283.7,333.0L285.0,332.0L287.0,330.4L288.8,329.0L290.0,328.0L292.0,326.5L293.9,325.0L295.1,324.0L297.0,322.5L299.0,321.0L300.3,320.0L302.0,318.6L304.0,317.1L305.4,316.0L307.0,314.7L309.0,313.2L310.5,312.0L312.0,310.9L314.0,309.3L315.7,308.0L317.0,307.0L319.0,305.5L320.9,304.0L322.2,303.0L324.0,301.7L326.0,300.1L327.5,299.0L329.0,297.9L331.0,296.4L332.8,295.0L334.1,294.0L336.0,292.6L338.0,291.1L339.5,290.0L341.0,288.9L343.0,287.4L345.0,286.0L346.3,285.0L348.0,283.8L350.0,282.3L351.9,281.0L353.3,280.0L355.0,278.8L357.0,277.3L358.9,276.0L360.3,275.0L362.0,273.8L364.0,272.5L366.0,271.1L367.6,270.0L369.0,269.0L371.0,267.7L373.0,266.3L375.0,265.0L376.5,264.0L378.0,263.0L380.0,261.7L382.0,260.4L384.0,259.1L385.7,258.0L387.3,257.0L389.0,255.9L391.0,254.7L393.0,253.4L395.0,252.2L396.9,251.0L398.5,250.0L400.2,249.0L402.0,247.9L404.0,246.7L406.0,245.5L408.0,244.3L410.0,243.2L412.0,242.0L413.7,241.0L415.4,240.0L417.1,239.0L419.0,237.9L421.0,236.8L423.0,235.7L425.0,234.5L427.0,233.4L429.0,232.3L431.0,231.1L433.0,230.0L434.8,229.0L436.6,228.0L438.3,227.0L440.1,226.0L442.0,224.9L444.0,223.8L446.0,222.7L448.0,221.6L450.0,220.4L452.0,219.3L454.0,218.1L456.0,217.0L457.7,216.0L459.4,215.0L461.2,214.0L463.0,212.9L465.0,211.7L467.0,210.5L469.0,209.3L471.0,208.1L472.9,207.0L474.5,206.0L476.1,205.0L478.0,203.8L480.0,202.5L482.0,201.3L484.0,200.0L485.5,199.0L487.0,198.0L489.0,196.7L491.0,195.3L492.9,194.0L494.4,193.0L496.0,191.9L498.0,190.5L500.0,189.0L501.4,188.0L503.0,186.8L505.0,185.4L506.8,184.0L508.1,183.0L510.0,181.6L512.0,180.0L513.3,179.0L515.0,177.6L517.0,176.0L518.3,175.0L520.0,173.6L521.9,172.0L523.1,171.0L525.0,169.3L526.6,168.0L528.0,166.7L530.0,165.0L531.1,164.0L533.0,162.3L534.4,161.0L536.0,159.5L537.6,158.0L539.0,156.7L540.8,155.0L542.0,153.9L543.9,152.0L545.0,151.0L547.0,149.0L548.0,148.0L550.0,146.0L551.0,145.0L553.0,143.0L554.0,141.9L555.9,140.0L557.0,138.8L558.8,137.0L560.0,135.7L561.6,134.0L563.0,132.5L564.4,131.0L566.0,129.3L567.2,128.0L569.0,126.1L570.0,125.0L571.8,123.0L573.0,121.7L574.6,120.0L576.0,118.5L577.4,117.0L579.0,115.2L580.1,114.0L581.9,112.0L583.0,110.8L584.7,109.0L586.0,107.5L587.4,106.0L589.0,104.3L590.2,103.0L592.0,101.0L593.0,100.0L594.8,98.0L596.0,96.7L597.6,95.0L599.0,93.5L600.4,92.0L602.0,90.4L603.3,89.0L605.0,87.2L606.2,86.0L608.0,84.1L609.1,83.0L611.0,81.0L612.0,80.0L614.0,78.0L615.0,77.0L617.0,75.0L618.0,74.0L620.0,72.0L621.0,71.0L623.0,69.1L624.1,68.0L626.0,66.2L627.2,65.0L629.0,63.3L630.3,62.0L632.0,60.4L633.5,59.0L635.0,57.6L636.8,56.0L638.0,54.9L640.0,53.0L641.1,52.0L643.0,50.3L644.4,49.0L646.0,47.6L647.8,46.0L649.0,44.9L651.0,43.2L652.3,42.0L654.0,40.5L655.7,39.0L657.0,37.9L659.0,36.2L660.4,35.0L662.0,33.6L663.9,32.0L665.0,31.0L667.0,29.3L668.6,28.0L670.0,26.8L672.0,25.1L673.3,24.0L675.0,22.6L676.9,21.0L678.1,20.0L680.0,18.4L681.7,17.0L683.0,16.0L685.0,14.3L686.6,13.0L688.0,11.8L690.0,10.2L691.5,9.0L693.0,7.7L695.0,6.1L696.4,5.0L698.0,3.7L700.0,2.1L701.3,1.0" stroke-dasharray="63 6 141 6" stroke-dashoffset="15"/><path d="M70.9,519.0L72.1,518.0L74.0,516.5L75.9,515.0L77.2,514.0L79.0,512.5L80.9,511.0L82.2,510.0L84.0,508.6L86.0,507.0L87.2,506.0L89.0,504.6L91.0,503.0L92.3,502.0L94.0,500.6L96.0,499.0L97.3,498.0L99.0,496.6L101.0,495.0L102.3,494.0L104.0,492.7L106.0,491.1L107.3,490.0L109.0,488.7L111.0,487.1L112.4,486.0L114.0,484.7L116.0,483.1L117.4,482.0L119.0,480.7L121.0,479.1L122.4,478.0L124.0,476.7L126.0,475.2L127.5,474.0L129.0,472.8L131.0,471.2L132.5,470.0L134.0,468.8L136.0,467.2L137.5,466.0L139.0,464.8L141.0,463.2L142.5,462.0L144.0,460.8L146.0,459.3L147.6,458.0L149.0,456.9L151.0,455.3L152.6,454.0L154.0,452.9L156.0,451.3L157.6,450.0L159.0,448.9L161.0,447.3L162.7,446.0L164.0,444.9L166.0,443.3L167.7,442.0L169.0,441.0L171.0,439.4L172.7,438.0L174.0,437.0L176.0,435.4L177.7,434.0L179.0,433.0L181.0,431.4L182.8,430.0L184.0,429.0L186.0,427.4L187.8,426.0L189.1,425.0L191.0,423.5L192.8,422.0L194.1,421.0L196.0,419.5L197.9,418.0L199.1,417.0L201.0,415.5L202.9,414.0L204.1,413.0L206.0,411.5L207.9,410.0L209.2,409.0L211.0,407.5L212.9,406.0L214.2,405.0L216.0,403.6L218.0,402.0L219.2,401.0L221.0,399.6L223.0,398.0L224.3,397.0L226.0,395.6L228.0,394.0L229.3,393.0L231.0,391.6L233.0,390.1L234.3,389.0L236.0,387.7L238.0,386.1L239.4,385.0L241.0,383.7L243.0,382.1L244.4,381.0L246.0,379.7L248.0,378.1L249.4,377.0L251.0,375.7L253.0,374.2L254.5,373.0L256.0,371.8L258.0,370.2L259.5,369.0L261.0,367.8L263.0,366.2L264.5,365.0L266.0,363.8L268.0,362.2L269.6,361.0L271.0,359.9L273.0,358.3L274.6,357.0L276.0,355.9L278.0,354.3L279.7,353.0L281.0,352.0L283.0,350.4L284.7,349.0L286.0,348.0L288.0,346.4L289.8,345.0L291.1,344.0L293.0,342.5L294.9,341.0L296.1,340.0L298.0,338.5L300.0,337.0L301.2,336.0L303.0,334.6L305.0,333.0L306.3,332.0L308.0,330.7L310.0,329.1L311.5,328.0L313.0,326.8L315.0,325.2L316.6,324.0L318.0,322.9L320.0,321.4L321.8,320.0L323.1,319.0L325.0,317.5L327.0,316.0L328.3,315.0L330.0,313.7L332.0,312.2L333.5,311.0L335.0,309.9L337.0,308.4L338.8,307.0L340.1,306.0L342.0,304.6L344.0,303.1L345.5,302.0L347.0,300.9L349.0,299.4L350.9,298.0L352.3,297.0L354.0,295.7L356.0,294.3L357.7,293.0L359.1,292.0L361.0,290.7L363.0,289.2L364.7,288.0L366.1,287.0L368.0,285.7L370.0,284.3L371.8,283.0L373.3,282.0L375.0,280.8L377.0,279.4L379.0,278.1L380.6,277.0L382.1,276.0L384.0,274.7L386.0,273.4L388.0,272.1L389.6,271.0L391.1,270.0L393.0,268.8L395.0,267.5L397.0,266.2L398.9,265.0L400.5,264.0L402.1,263.0L404.0,261.8L406.0,260.5L408.0,259.3L410.0,258.1L411.7,257.0L413.4,256.0L415.0,255.0L417.0,253.8L419.0,252.6L421.0,251.4L423.0,250.2L425.0,249.0L426.7,248.0L428.4,247.0L430.1,246.0L432.0,244.9L434.0,243.7L436.0,242.6L438.0,241.4L440.0,240.2L442.0,239.0L443.8,238.0L445.5,237.0L447.2,236.0L449.0,234.9L451.0,233.8L453.0,232.6L455.0,231.4L457.0,230.2L459.0,229.0L460.7,228.0L462.4,227.0L464.1,226.0L466.0,224.8L468.0,223.6L470.0,222.4L472.0,221.2L473.9,220.0L475.5,219.0L477.1,218.0L479.0,216.8L481.0,215.5L483.0,214.2L484.9,213.0L486.4,212.0L488.0,211.0L490.0,209.6L492.0,208.3L493.9,207.0L495.4,206.0L497.0,204.9L499.0,203.5L501.0,202.1L502.5,201.0L504.0,200.0L506.0,198.5L508.0,197.0L509.4,196.0L511.0,194.8L513.0,193.3L514.7,192.0L516.0,191.0L518.0,189.5L519.8,188.0L521.1,187.0L523.0,185.5L524.8,184.0L526.0,183.0L528.0,181.4L529.7,180.0L531.0,178.9L533.0,177.2L534.4,176.0L536.0,174.6L537.8,173.0L539.0,171.9L541.0,170.1L542.3,169.0L544.0,167.4L545.6,166.0L547.0,164.7L548.8,163.0L550.0,161.9L552.0,160.0L553.0,159.0L555.0,157.1L556.1,156.0L558.0,154.2L559.2,153.0L561.0,151.2L562.2,150.0L564.0,148.2L565.2,147.0L567.0,145.2L568.1,144.0L570.0,142.1L571.1,141.0L573.0,139.0L574.0,138.0L575.9,136.0L577.0,134.9L578.8,133.0L580.0,131.7L581.6,130.0L583.0,128.6L584.5,127.0L586.0,125.4L587.3,124.0L589.0,122.2L590.2,121.0L592.0,119.1L593.0,118.0L594.9,116.0L596.0,114.8L597.7,113.0L599.0,111.7L600.6,110.0L602.0,108.5L603.5,107.0L605.0,105.4L606.3,104.0L608.0,102.3L609.2,101.0L611.0,99.2L612.2,98.0L614.0,96.1L615.1,95.0L617.0,93.1L618.1,92.0L620.0,90.1L621.1,89.0L623.0,87.1L624.1,86.0L626.0,84.1L627.2,83.0L629.0,81.2L630.3,80.0L632.0,78.3L633.4,77.0L635.0,75.5L636.6,74.0L638.0,72.6L639.8,71.0L641.0,69.8L643.0,68.0L644.1,67.0L646.0,65.2L647.3,64.0L649.0,62.5L650.7,61.0L652.0,59.8L654.0,58.0L655.1,57.0L657.0,55.3L658.5,54.0L660.0,52.7L662.0,51.0L663.1,50.0L665.0,48.4L666.6,47.0L668.0,45.8L670.0,44.1L671.2,43.0L673.0,41.5L674.8,40.0L676.0,39.0L678.0,37.3L679.5,36.0L681.0,34.7L683.0,33.1L684.3,32.0L686.0,30.6L687.9,29.0L689.1,28.0L691.0,26.4L692.7,25.0L694.0,24.0L696.0,22.3L697.6,21.0L699.0,19.9L701.0,18.2L702.5,17.0L704.0,15.8L706.0,14.2L707.4,13.0L709.0,11.7L711.0,10.1L712.4,9.0L714.0,7.7L716.0,6.1L717.3,5.0L719.0,3.7L721.0,2.1L722.3,1.0" stroke-dasharray="74 3 86 6" stroke-dashoffset="41"/><path d="M92.1,519.0L94.0,517.5L95.9,516.0L97.1,515.0L99.0,513.5L100.9,512.0L102.1,511.0L104.0,509.5L105.9,508.0L107.2,507.0L109.0,505.5L110.9,504.0L112.2,503.0L114.0,501.6L116.0,500.0L117.2,499.0L119.0,497.6L121.0,496.0L122.3,495.0L124.0,493.6L126.0,492.0L127.3,491.0L129.0,489.6L131.0,488.0L132.3,487.0L134.0,485.7L136.0,484.1L137.3,483.0L139.0,481.7L141.0,480.1L142.4,479.0L144.0,477.7L146.0,476.1L147.4,475.0L149.0,473.7L151.0,472.1L152.4,471.0L154.0,469.8L156.0,468.2L157.5,467.0L159.0,465.8L161.0,464.2L162.5,463.0L164.0,461.8L166.0,460.2L167.5,459.0L169.0,457.8L171.0,456.2L172.5,455.0L174.0,453.8L176.0,452.3L177.6,451.0L179.0,449.9L181.0,448.3L182.6,447.0L184.0,445.9L186.0,444.3L187.6,443.0L189.0,441.9L191.0,440.3L192.7,439.0L194.0,437.9L196.0,436.3L197.7,435.0L199.0,434.0L201.0,432.4L202.7,431.0L204.0,430.0L206.0,428.4L207.7,427.0L209.0,426.0L211.0,424.4L212.8,423.0L214.0,422.0L216.0,420.4L217.8,419.0L219.1,418.0L221.0,416.5L222.8,415.0L224.1,414.0L226.0,412.5L227.9,411.0L229.1,410.0L231.0,408.5L232.9,407.0L234.2,406.0L236.0,404.5L237.9,403.0L239.2,402.0L241.0,400.6L243.0,399.0L244.2,398.0L246.0,396.6L248.0,395.0L249.2,394.0L251.0,392.6L253.0,391.0L254.3,390.0L256.0,388.6L258.0,387.0L259.3,386.0L261.0,384.7L263.0,383.1L264.3,382.0L266.0,380.7L268.0,379.1L269.4,378.0L271.0,376.7L273.0,375.1L274.4,374.0L276.0,372.7L278.0,371.2L279.5,370.0L281.0,368.8L283.0,367.2L284.5,366.0L286.0,364.8L288.0,363.2L289.6,362.0L291.0,360.9L293.0,359.3L294.6,358.0L296.0,356.9L298.0,355.3L299.7,354.0L301.0,353.0L303.0,351.4L304.8,350.0L306.0,349.0L308.0,347.5L309.9,346.0L311.1,345.0L313.0,343.5L315.0,342.0L316.2,341.0L318.0,339.6L320.0,338.1L321.4,337.0L323.0,335.7L325.0,334.2L326.5,333.0L328.0,331.8L330.0,330.3L331.7,329.0L333.0,328.0L335.0,326.4L336.9,325.0L338.2,324.0L340.0,322.6L342.0,321.1L343.4,320.0L345.0,318.8L347.0,317.3L348.7,316.0L350.0,315.0L352.0,313.5L354.0,312.0L355.4,311.0L357.0,309.8L359.0,308.3L360.8,307.0L362.1,306.0L364.0,304.6L366.0,303.2L367.6,302.0L369.0,301.0L371.0,299.5L373.0,298.1L374.6,297.0L376.0,296.0L378.0,294.6L380.0,293.1L381.6,292.0L383.1,291.0L385.0,289.7L387.0,288.3L388.8,287.0L390.3,286.0L392.0,284.9L394.0,283.5L396.0,282.1L397.7,281.0L399.2,280.0L401.0,278.8L403.0,277.5L405.0,276.2L406.8,275.0L408.4,274.0L410.0,272.9L412.0,271.6L414.0,270.4L416.0,269.1L417.7,268.0L419.3,267.0L421.0,265.9L423.0,264.7L425.0,263.4L427.0,262.2L428.9,261.0L430.5,260.0L432.1,259.0L434.0,257.8L436.0,256.6L438.0,255.4L440.0,254.2L441.9,253.0L443.5,252.0L445.2,251.0L447.0,249.9L449.0,248.7L451.0,247.4L453.0,246.2L455.0,245.0L456.6,244.0L458.2,243.0L460.0,241.9L462.0,240.7L464.0,239.5L466.0,238.2L467.9,237.0L469.5,236.0L471.1,235.0L473.0,233.8L475.0,232.6L477.0,231.3L479.0,230.0L480.6,229.0L482.1,228.0L484.0,226.8L486.0,225.4L488.0,224.1L489.7,223.0L491.2,222.0L493.0,220.8L495.0,219.4L497.0,218.1L498.5,217.0L500.0,216.0L502.0,214.6L504.0,213.2L505.6,212.0L507.0,211.0L509.0,209.6L511.0,208.1L512.5,207.0L514.0,205.9L516.0,204.4L517.9,203.0L519.2,202.0L521.0,200.6L523.0,199.1L524.4,198.0L526.0,196.7L528.0,195.1L529.4,194.0L531.0,192.7L533.0,191.1L534.3,190.0L536.0,188.6L537.9,187.0L539.1,186.0L541.0,184.4L542.6,183.0L544.0,181.8L546.0,180.0L547.2,179.0L549.0,177.4L550.6,176.0L552.0,174.7L553.9,173.0L555.0,172.0L557.0,170.1L558.2,169.0L560.0,167.4L561.5,166.0L563.0,164.5L564.6,163.0L566.0,161.7L567.8,160.0L569.0,158.8L570.9,157.0L572.0,155.9L573.9,154.0L575.0,153.0L577.0,151.0L578.0,150.0L580.0,148.0L581.0,147.0L583.0,145.0L584.0,144.0L586.0,142.0L587.0,141.0L589.0,139.0L590.0,137.9L591.9,136.0L593.0,134.9L594.9,133.0L596.0,131.8L597.8,130.0L599.0,128.8L600.8,127.0L602.0,125.7L603.7,124.0L605.0,122.7L606.7,121.0L608.0,119.6L609.6,118.0L611.0,116.6L612.6,115.0L614.0,113.6L615.6,112.0L617.0,110.6L618.6,109.0L620.0,107.6L621.6,106.0L623.0,104.6L624.7,103.0L626.0,101.7L627.7,100.0L629.0,98.8L630.8,97.0L632.0,95.9L634.0,94.0L635.0,93.0L637.0,91.1L638.2,90.0L640.0,88.3L641.4,87.0L643.0,85.5L644.6,84.0L646.0,82.7L647.8,81.0L649.0,79.9L651.0,78.1L652.2,77.0L654.0,75.4L655.5,74.0L657.0,72.7L658.9,71.0L660.0,70.0L662.0,68.3L663.4,67.0L665.0,65.6L666.9,64.0L668.0,63.0L670.0,61.3L671.5,60.0L673.0,58.7L675.0,57.0L676.1,56.0L678.0,54.4L679.7,53.0L681.0,51.9L683.0,50.2L684.4,49.0L686.0,47.7L688.0,46.0L689.2,45.0L691.0,43.5L692.8,42.0L694.0,41.0L696.0,39.4L697.6,38.0L699.0,36.9L701.0,35.2L702.5,34.0L704.0,32.8L706.0,31.1L707.4,30.0L709.0,28.7L711.0,27.1L712.3,26.0L714.0,24.6L716.0,23.0L717.3,22.0L719.0,20.6L721.0,19.0L722.2,18.0L724.0,16.6L725.9,15.0L727.2,14.0L729.0,12.5L730.9,11.0L732.2,10.0L734.0,8.5L735.9,7.0L737.2,6.0L739.0,4.5L740.9,3.0L742.2,2.0L744.0,0.5" stroke-dasharray="64 5 136 3" stroke-dashoffset="26"/><path d="M113.3,519.0L115.0,517.6L117.0,516.1L118.3,515.0L120.0,513.7L122.0,512.1L123.4,511.0L125.0,509.7L127.0,508.1L128.4,507.0L130.0,505.7L132.0,504.1L133.4,503.0L135.0,501.7L137.0,500.1L138.4,499.0L140.0,497.8L142.0,496.2L143.5,495.0L145.0,493.8L147.0,492.2L148.5,491.0L150.0,489.8L152.0,488.2L153.5,487.0L155.0,485.8L157.0,484.2L158.6,483.0L160.0,481.8L162.0,480.3L163.6,479.0L165.0,477.9L167.0,476.3L168.6,475.0L170.0,473.9L172.0,472.3L173.6,471.0L175.0,469.9L177.0,468.3L178.7,467.0L180.0,465.9L182.0,464.3L183.7,463.0L185.0,462.0L187.0,460.4L188.7,459.0L190.0,458.0L192.0,456.4L193.8,455.0L195.0,454.0L197.0,452.4L198.8,451.0L200.0,450.0L202.0,448.4L203.8,447.0L205.1,446.0L207.0,444.5L208.8,443.0L210.1,442.0L212.0,440.5L213.9,439.0L215.1,438.0L217.0,436.5L218.9,435.0L220.2,434.0L222.0,432.5L223.9,431.0L225.2,430.0L227.0,428.6L229.0,427.0L230.2,426.0L232.0,424.6L234.0,423.0L235.2,422.0L237.0,420.6L239.0,419.0L240.3,418.0L242.0,416.6L244.0,415.0L245.3,414.0L247.0,412.6L249.0,411.1L250.3,410.0L252.0,408.7L254.0,407.1L255.4,406.0L257.0,404.7L259.0,403.1L260.4,402.0L262.0,400.7L264.0,399.1L265.4,398.0L267.0,396.7L269.0,395.2L270.5,394.0L272.0,392.8L274.0,391.2L275.5,390.0L277.0,388.8L279.0,387.2L280.5,386.0L282.0,384.8L284.0,383.2L285.6,382.0L287.0,380.9L289.0,379.3L290.6,378.0L292.0,376.9L294.0,375.3L295.7,374.0L297.0,372.9L299.0,371.4L300.7,370.0L302.0,369.0L304.0,367.4L305.8,366.0L307.0,365.0L309.0,363.5L310.8,362.0L312.1,361.0L314.0,359.5L315.9,358.0L317.2,357.0L319.0,355.6L321.0,354.0L322.3,353.0L324.0,351.7L326.0,350.1L327.4,349.0L329.0,347.7L331.0,346.2L332.5,345.0L334.0,343.8L336.0,342.3L337.6,341.0L339.0,340.0L341.0,338.4L342.8,337.0L344.1,336.0L346.0,334.5L348.0,333.0L349.3,332.0L351.0,330.7L353.0,329.2L354.5,328.0L356.0,326.9L358.0,325.4L359.8,324.0L361.1,323.0L363.0,321.6L365.0,320.1L366.5,319.0L368.0,317.9L370.0,316.4L371.9,315.0L373.2,314.0L375.0,312.7L377.0,311.2L378.7,310.0L380.0,309.0L382.0,307.6L384.0,306.1L385.6,305.0L387.0,304.0L389.0,302.5L391.0,301.1L392.6,300.0L394.0,299.0L396.0,297.6L398.0,296.2L399.7,295.0L401.1,294.0L403.0,292.7L405.0,291.3L407.0,290.0L408.4,289.0L410.0,287.9L412.0,286.6L414.0,285.2L415.8,284.0L417.3,283.0L419.0,281.9L421.0,280.6L423.0,279.2L424.9,278.0L426.4,277.0L428.0,276.0L430.0,274.7L432.0,273.4L434.0,272.1L435.6,271.0L437.2,270.0L439.0,268.8L441.0,267.6L443.0,266.3L445.0,265.0L446.5,264.0L448.1,263.0L450.0,261.8L452.0,260.5L454.0,259.2L455.9,258.0L457.5,257.0L459.1,256.0L461.0,254.8L463.0,253.5L465.0,252.2L466.9,251.0L468.4,250.0L470.0,249.0L472.0,247.7L474.0,246.4L476.0,245.1L477.6,244.0L479.2,243.0L481.0,241.8L483.0,240.5L485.0,239.1L486.7,238.0L488.2,237.0L490.0,235.8L492.0,234.4L494.0,233.1L495.6,232.0L497.0,231.0L499.0,229.6L501.0,228.2L502.8,227.0L504.2,226.0L506.0,224.7L508.0,223.3L509.8,222.0L511.2,221.0L513.0,219.7L515.0,218.2L516.6,217.0L518.0,216.0L520.0,214.5L522.0,213.0L523.3,212.0L525.0,210.7L527.0,209.1L528.5,208.0L530.0,206.8L532.0,205.2L533.5,204.0L535.0,202.8L537.0,201.2L538.5,200.0L540.0,198.8L542.0,197.1L543.4,196.0L545.0,194.6L547.0,193.0L548.1,192.0L550.0,190.4L551.7,189.0L553.0,187.8L555.0,186.1L556.3,185.0L558.0,183.5L559.7,182.0L561.0,180.8L563.0,179.0L564.1,178.0L566.0,176.3L567.4,175.0L569.0,173.6L570.7,172.0L572.0,170.8L573.9,169.0L575.0,168.0L577.0,166.1L578.2,165.0L580.0,163.3L581.4,162.0L583.0,160.5L584.5,159.0L586.0,157.6L587.6,156.0L589.0,154.7L590.8,153.0L592.0,151.8L593.8,150.0L595.0,148.9L596.9,147.0L598.0,146.0L600.0,144.0L601.0,143.0L603.0,141.1L604.1,140.0L606.0,138.1L607.2,137.0L609.0,135.2L610.2,134.0L612.0,132.3L613.3,131.0L615.0,129.3L616.4,128.0L618.0,126.4L619.5,125.0L621.0,123.5L622.6,122.0L624.0,120.6L625.7,119.0L627.0,117.7L628.8,116.0L630.0,114.8L631.9,113.0L633.0,112.0L635.0,110.1L636.2,109.0L638.0,107.3L639.4,106.0L641.0,104.5L642.6,103.0L644.0,101.7L645.8,100.0L647.0,98.9L649.0,97.1L650.2,96.0L652.0,94.4L653.5,93.0L655.0,91.6L656.8,90.0L658.0,89.0L660.0,87.2L661.3,86.0L663.0,84.5L664.7,83.0L666.0,81.9L668.0,80.1L669.3,79.0L671.0,77.5L672.8,76.0L674.0,74.9L676.0,73.2L677.4,72.0L679.0,70.6L680.9,69.0L682.1,68.0L684.0,66.4L685.7,65.0L687.0,63.9L689.0,62.2L690.4,61.0L692.0,59.7L694.0,58.0L695.2,57.0L697.0,55.5L698.8,54.0L700.1,53.0L702.0,51.4L703.7,50.0L705.0,48.9L707.0,47.3L708.6,46.0L710.0,44.8L712.0,43.2L713.5,42.0L715.0,40.8L717.0,39.2L718.4,38.0L720.0,36.7L722.0,35.1L723.4,34.0L725.0,32.7L727.0,31.1L728.3,30.0L730.0,28.6L732.0,27.0L733.3,26.0L735.0,24.6L737.0,23.0L738.3,22.0L740.0,20.6L742.0,19.0L743.3,18.0L745.0,16.6L747.0,15.0L748.3,14.0L750.0,12.6L752.0,11.0L753.3,10.0L755.0,8.6L757.0,7.0L758.3,6.0L760.0,4.6L762.0,3.0L763.3,2.0L765.0,0.6" stroke-dasharray="50 4 128 3" stroke-dashoffset="93"/><path d="M134.5,519.0L136.0,517.8L138.0,516.2L139.5,515.0L141.0,513.8L143.0,512.2L144.6,511.0L146.0,509.9L148.0,508.3L149.6,507.0L151.0,505.9L153.0,504.3L154.6,503.0L156.0,501.9L158.0,500.3L159.6,499.0L161.0,497.9L163.0,496.3L164.7,495.0L166.0,493.9L168.0,492.4L169.7,491.0L171.0,490.0L173.0,488.4L174.7,487.0L176.0,486.0L178.0,484.4L179.8,483.0L181.0,482.0L183.0,480.4L184.8,479.0L186.0,478.0L188.0,476.4L189.8,475.0L191.1,474.0L193.0,472.5L194.8,471.0L196.1,470.0L198.0,468.5L199.9,467.0L201.1,466.0L203.0,464.5L204.9,463.0L206.2,462.0L208.0,460.5L209.9,459.0L211.2,458.0L213.0,456.6L215.0,455.0L216.2,454.0L218.0,452.6L220.0,451.0L221.2,450.0L223.0,448.6L225.0,447.0L226.3,446.0L228.0,444.6L230.0,443.0L231.3,442.0L233.0,440.6L235.0,439.1L236.3,438.0L238.0,436.7L240.0,435.1L241.4,434.0L243.0,432.7L245.0,431.1L246.4,430.0L248.0,428.7L250.0,427.1L251.4,426.0L253.0,424.7L255.0,423.2L256.4,422.0L258.0,420.8L260.0,419.2L261.5,418.0L263.0,416.8L265.0,415.2L266.5,414.0L268.0,412.8L270.0,411.2L271.5,410.0L273.0,408.8L275.0,407.2L276.6,406.0L278.0,404.9L280.0,403.3L281.6,402.0L283.0,400.9L285.0,399.3L286.6,398.0L288.0,396.9L290.0,395.3L291.7,394.0L293.0,393.0L295.0,391.4L296.7,390.0L298.0,389.0L300.0,387.4L301.8,386.0L303.0,385.0L305.0,383.4L306.8,382.0L308.1,381.0L310.0,379.5L311.9,378.0L313.1,377.0L315.0,375.5L316.9,374.0L318.2,373.0L320.0,371.6L322.0,370.0L323.2,369.0L325.0,367.6L327.0,366.0L328.3,365.0L330.0,363.7L332.0,362.1L333.4,361.0L335.0,359.8L337.0,358.2L338.5,357.0L340.0,355.8L342.0,354.3L343.6,353.0L345.0,351.9L347.0,350.4L348.8,349.0L350.0,348.0L352.0,346.5L353.9,345.0L355.2,344.0L357.0,342.6L359.0,341.1L360.4,340.0L362.0,338.8L364.0,337.2L365.6,336.0L367.0,334.9L369.0,333.4L370.9,332.0L372.2,331.0L374.0,329.6L376.0,328.1L377.5,327.0L379.0,325.9L381.0,324.4L382.8,323.0L384.2,322.0L386.0,320.6L388.0,319.2L389.6,318.0L391.0,316.9L393.0,315.5L395.0,314.0L396.4,313.0L398.0,311.8L400.0,310.4L401.9,309.0L403.3,308.0L405.0,306.8L407.0,305.3L408.9,304.0L410.3,303.0L412.0,301.8L414.0,300.4L416.0,299.0L417.4,298.0L419.0,296.9L421.0,295.5L423.0,294.1L424.6,293.0L426.1,292.0L428.0,290.7L430.0,289.3L431.9,288.0L433.4,287.0L435.0,285.9L437.0,284.5L439.0,283.2L440.7,282.0L442.2,281.0L444.0,279.8L446.0,278.5L448.0,277.1L449.7,276.0L451.2,275.0L453.0,273.8L455.0,272.5L457.0,271.1L458.7,270.0L460.2,269.0L462.0,267.8L464.0,266.5L466.0,265.1L467.7,264.0L469.2,263.0L471.0,261.8L473.0,260.4L475.0,259.1L476.6,258.0L478.1,257.0L480.0,255.7L482.0,254.4L484.0,253.0L485.5,252.0L487.0,251.0L489.0,249.6L491.0,248.2L492.8,247.0L494.2,246.0L496.0,244.8L498.0,243.4L500.0,242.0L501.4,241.0L503.0,239.9L505.0,238.4L507.0,237.0L508.4,236.0L510.0,234.9L512.0,233.4L513.9,232.0L515.3,231.0L517.0,229.7L519.0,228.3L520.7,227.0L522.0,226.0L524.0,224.5L526.0,223.0L527.3,222.0L529.0,220.7L531.0,219.2L532.5,218.0L534.0,216.9L536.0,215.3L537.6,214.0L539.0,212.9L541.0,211.3L542.6,210.0L544.0,208.9L546.0,207.3L547.6,206.0L549.0,204.8L551.0,203.2L552.4,202.0L554.0,200.7L556.0,199.0L557.2,198.0L559.0,196.5L560.7,195.0L562.0,193.9L564.0,192.2L565.3,191.0L567.0,189.6L568.8,188.0L570.0,186.9L572.0,185.2L573.3,184.0L575.0,182.5L576.7,181.0L578.0,179.8L580.0,178.0L581.1,177.0L583.0,175.3L584.4,174.0L586.0,172.5L587.7,171.0L589.0,169.8L590.9,168.0L592.0,167.0L594.0,165.2L595.2,164.0L597.0,162.4L598.5,161.0L600.0,159.6L601.7,158.0L603.0,156.7L604.9,155.0L606.0,153.9L608.0,152.0L609.1,151.0L611.0,149.2L612.3,148.0L614.0,146.4L615.5,145.0L617.0,143.6L618.7,142.0L620.0,140.8L621.9,139.0L623.0,137.9L625.0,136.1L626.1,135.0L628.0,133.3L629.3,132.0L631.0,130.5L632.6,129.0L634.0,127.7L635.8,126.0L637.0,124.9L639.0,123.1L640.1,122.0L642.0,120.3L643.4,119.0L645.0,117.6L646.7,116.0L648.0,114.8L650.0,113.0L651.1,112.0L653.0,110.3L654.5,109.0L656.0,107.7L657.9,106.0L659.0,105.0L661.0,103.2L662.4,102.0L664.0,100.6L665.8,99.0L667.0,98.0L669.0,96.2L670.4,95.0L672.0,93.6L673.9,92.0L675.0,91.0L677.0,89.3L678.5,88.0L680.0,86.8L682.0,85.1L683.2,84.0L685.0,82.5L686.8,81.0L688.0,80.0L690.0,78.3L691.6,77.0L693.0,75.8L695.0,74.1L696.4,73.0L698.0,71.6L700.0,70.0L701.2,69.0L703.0,67.5L704.8,66.0L706.1,65.0L708.0,63.4L709.7,62.0L711.0,61.0L713.0,59.3L714.6,58.0L716.0,56.9L718.0,55.3L719.5,54.0L721.0,52.8L723.0,51.2L724.5,50.0L726.0,48.8L728.0,47.2L729.4,46.0L731.0,44.7L733.0,43.1L734.4,42.0L736.0,40.7L738.0,39.1L739.4,38.0L741.0,36.7L743.0,35.1L744.4,34.0L746.0,32.7L748.0,31.1L749.4,30.0L751.0,28.7L753.0,27.1L754.4,26.0L756.0,24.7L758.0,23.1L759.4,22.0L761.0,20.7L763.0,19.1L764.4,18.0L766.0,16.7L768.0,15.1L769.4,14.0L771.0,12.7L773.0,11.1L774.4,10.0L776.0,8.7L778.0,7.2L779.5,6.0L781.0,4.8L783.0,3.2L784.5,2.0L786.0,0.8" stroke-dasharray="128 3 69 4" stroke-dashoffset="96"/><path d="M155.7,519.0L157.0,518.0L159.0,516.4L160.7,515.0L162.0,514.0L164.0,512.4L165.8,511.0L167.0,510.0L169.0,508.4L170.8,507.0L172.0,506.0L174.0,504.4L175.8,503.0L177.1,502.0L179.0,500.5L180.8,499.0L182.1,498.0L184.0,496.5L185.9,495.0L187.1,494.0L189.0,492.5L190.9,491.0L192.2,490.0L194.0,488.5L195.9,487.0L197.2,486.0L199.0,484.6L201.0,483.0L202.2,482.0L204.0,480.6L206.0,479.0L207.2,478.0L209.0,476.6L211.0,475.0L212.3,474.0L214.0,472.6L216.0,471.0L217.3,470.0L219.0,468.7L221.0,467.1L222.3,466.0L224.0,464.7L226.0,463.1L227.4,462.0L229.0,460.7L231.0,459.1L232.4,458.0L234.0,456.7L236.0,455.1L237.4,454.0L239.0,452.7L241.0,451.2L242.4,450.0L244.0,448.8L246.0,447.2L247.5,446.0L249.0,444.8L251.0,443.2L252.5,442.0L254.0,440.8L256.0,439.2L257.5,438.0L259.0,436.8L261.0,435.2L262.6,434.0L264.0,432.9L266.0,431.3L267.6,430.0L269.0,428.9L271.0,427.3L272.6,426.0L274.0,424.9L276.0,423.3L277.7,422.0L279.0,420.9L281.0,419.3L282.7,418.0L284.0,417.0L286.0,415.4L287.7,414.0L289.0,413.0L291.0,411.4L292.8,410.0L294.0,409.0L296.0,407.4L297.8,406.0L299.0,405.0L301.0,403.4L302.8,402.0L304.1,401.0L306.0,399.5L307.9,398.0L309.1,397.0L311.0,395.5L312.9,394.0L314.2,393.0L316.0,391.5L317.9,390.0L319.2,389.0L321.0,387.6L323.0,386.0L324.3,385.0L326.0,383.6L328.0,382.0L329.3,381.0L331.0,379.7L333.0,378.1L334.4,377.0L336.0,375.7L338.0,374.1L339.4,373.0L341.0,371.8L343.0,370.2L344.5,369.0L346.0,367.8L348.0,366.3L349.6,365.0L351.0,363.9L353.0,362.4L354.7,361.0L356.0,360.0L358.0,358.4L359.8,357.0L361.1,356.0L363.0,354.5L365.0,353.0L366.3,352.0L368.0,350.7L370.0,349.1L371.4,348.0L373.0,346.8L375.0,345.2L376.6,344.0L378.0,342.9L380.0,341.4L381.8,340.0L383.1,339.0L385.0,337.6L387.0,336.1L388.4,335.0L390.0,333.8L392.0,332.3L393.7,331.0L395.0,330.0L397.0,328.5L399.0,327.0L400.3,326.0L402.0,324.8L404.0,323.3L405.7,322.0L407.1,321.0L409.0,319.6L411.0,318.1L412.5,317.0L414.0,315.9L416.0,314.4L418.0,313.0L419.4,312.0L421.0,310.8L423.0,309.4L424.9,308.0L426.3,307.0L428.0,305.8L430.0,304.3L431.9,303.0L433.3,302.0L435.0,300.8L437.0,299.4L438.9,298.0L440.3,297.0L442.0,295.8L444.0,294.4L446.0,293.0L447.4,292.0L449.0,290.9L451.0,289.5L453.0,288.1L454.6,287.0L456.0,286.0L458.0,284.6L460.0,283.2L461.8,282.0L463.2,281.0L465.0,279.8L467.0,278.4L469.0,277.0L470.4,276.0L472.0,274.9L474.0,273.5L476.0,272.1L477.6,271.0L479.1,270.0L481.0,268.7L483.0,267.3L484.8,266.0L486.3,265.0L488.0,263.8L490.0,262.4L491.9,261.0L493.4,260.0L495.0,258.8L497.0,257.4L499.0,256.0L500.4,255.0L502.0,253.9L504.0,252.4L506.0,251.0L507.4,250.0L509.0,248.8L511.0,247.4L512.9,246.0L514.2,245.0L516.0,243.7L518.0,242.2L519.7,241.0L521.0,240.0L523.0,238.5L525.0,237.0L526.3,236.0L528.0,234.7L530.0,233.2L531.6,232.0L533.0,230.9L535.0,229.4L536.8,228.0L538.1,227.0L540.0,225.5L541.9,224.0L543.2,223.0L545.0,221.6L547.0,220.0L548.2,219.0L550.0,217.6L551.9,216.0L553.2,215.0L555.0,213.5L556.8,212.0L558.1,211.0L560.0,209.4L561.7,208.0L563.0,206.9L565.0,205.2L566.5,204.0L568.0,202.7L570.0,201.0L571.2,200.0L573.0,198.4L574.7,197.0L576.0,195.9L578.0,194.1L579.3,193.0L581.0,191.5L582.8,190.0L584.0,188.9L586.0,187.2L587.3,186.0L589.0,184.5L590.7,183.0L592.0,181.9L594.0,180.1L595.2,179.0L597.0,177.4L598.6,176.0L600.0,174.7L601.9,173.0L603.0,172.0L605.0,170.2L606.3,169.0L608.0,167.5L609.6,166.0L611.0,164.8L612.9,163.0L614.1,162.0L616.0,160.2L617.4,159.0L619.0,157.5L620.7,156.0L622.0,154.8L624.0,153.0L625.1,152.0L627.0,150.2L628.4,149.0L630.0,147.5L631.7,146.0L633.0,144.8L635.0,143.0L636.1,142.0L638.0,140.3L639.5,139.0L641.0,137.6L642.8,136.0L644.0,134.9L646.0,133.2L647.3,132.0L649.0,130.5L650.7,129.0L652.0,127.8L654.0,126.1L655.2,125.0L657.0,123.4L658.6,122.0L660.0,120.8L662.0,119.1L663.2,118.0L665.0,116.5L666.7,115.0L668.0,113.9L670.0,112.1L671.3,111.0L673.0,109.6L674.8,108.0L676.0,107.0L678.0,105.3L679.5,104.0L681.0,102.8L683.0,101.1L684.3,100.0L686.0,98.5L687.8,97.0L689.0,96.0L691.0,94.4L692.6,93.0L694.0,91.9L696.0,90.2L697.4,89.0L699.0,87.7L701.0,86.1L702.3,85.0L704.0,83.6L705.9,82.0L707.1,81.0L709.0,79.5L710.8,78.0L712.0,77.0L714.0,75.4L715.7,74.0L717.0,73.0L719.0,71.3L720.6,70.0L722.0,68.9L724.0,67.3L725.6,66.0L727.0,64.9L729.0,63.2L730.5,62.0L732.0,60.8L734.0,59.2L735.5,58.0L737.0,56.8L739.0,55.2L740.5,54.0L742.0,52.8L744.0,51.2L745.5,50.0L747.0,48.8L749.0,47.2L750.5,46.0L752.0,44.8L754.0,43.2L755.5,42.0L757.0,40.8L759.0,39.2L760.5,38.0L762.0,36.8L764.0,35.2L765.5,34.0L767.0,32.8L769.0,31.2L770.5,30.0L772.0,28.8L774.0,27.2L775.5,26.0L777.0,24.8L779.0,23.2L780.5,22.0L782.0,20.8L784.0,19.2L785.6,18.0L787.0,16.9L789.0,15.3L790.6,14.0L792.0,12.9L794.0,11.3L795.6,10.0L797.0,8.9L799.0,7.3" stroke-dasharray="69 5 104 7" stroke-dashoffset="93"/><path d="M176.9,519.0L178.2,518.0L180.0,516.5L181.9,515.0L183.2,514.0L185.0,512.6L187.0,511.0L188.2,510.0L190.0,508.6L192.0,507.0L193.2,506.0L195.0,504.6L197.0,503.0L198.3,502.0L200.0,500.6L202.0,499.0L203.3,498.0L205.0,496.7L207.0,495.1L208.3,494.0L210.0,492.7L212.0,491.1L213.4,490.0L215.0,488.7L217.0,487.1L218.4,486.0L220.0,484.7L222.0,483.1L223.4,482.0L225.0,480.7L227.0,479.2L228.4,478.0L230.0,476.8L232.0,475.2L233.5,474.0L235.0,472.8L237.0,471.2L238.5,470.0L240.0,468.8L242.0,467.2L243.5,466.0L245.0,464.8L247.0,463.2L248.6,462.0L250.0,460.9L252.0,459.3L253.6,458.0L255.0,456.9L257.0,455.3L258.6,454.0L260.0,452.9L262.0,451.3L263.7,450.0L265.0,448.9L267.0,447.3L268.7,446.0L270.0,445.0L272.0,443.4L273.7,442.0L275.0,441.0L277.0,439.4L278.7,438.0L280.0,437.0L282.0,435.4L283.8,434.0L285.0,433.0L287.0,431.4L288.8,430.0L290.1,429.0L292.0,427.5L293.8,426.0L295.1,425.0L297.0,423.5L298.9,422.0L300.1,421.0L302.0,419.5L303.9,418.0L305.2,417.0L307.0,415.5L308.9,414.0L310.2,413.0L312.0,411.6L314.0,410.0L315.2,409.0L317.0,407.6L319.0,406.0L320.3,405.0L322.0,403.6L324.0,402.0L325.3,401.0L327.0,399.7L329.0,398.1L330.3,397.0L332.0,395.7L334.0,394.1L335.4,393.0L337.0,391.7L339.0,390.1L340.4,389.0L342.0,387.8L344.0,386.2L345.5,385.0L347.0,383.8L349.0,382.2L350.6,381.0L352.0,379.9L354.0,378.3L355.6,377.0L357.0,375.9L359.0,374.3L360.7,373.0L362.0,372.0L364.0,370.4L365.8,369.0L367.1,368.0L369.0,366.5L370.9,365.0L372.2,364.0L374.0,362.6L376.0,361.0L377.3,360.0L379.0,358.7L381.0,357.1L382.4,356.0L384.0,354.8L386.0,353.2L387.6,352.0L389.0,350.9L391.0,349.4L392.8,348.0L394.1,347.0L396.0,345.5L398.0,344.0L399.3,343.0L401.0,341.7L403.0,340.2L404.5,339.0L406.0,337.9L408.0,336.3L409.8,335.0L411.1,334.0L413.0,332.6L415.0,331.0L416.4,330.0L418.0,328.8L420.0,327.3L421.7,326.0L423.1,325.0L425.0,323.5L427.0,322.1L428.4,321.0L430.0,319.8L432.0,318.3L433.8,317.0L435.2,316.0L437.0,314.7L439.0,313.2L440.6,312.0L442.0,311.0L444.0,309.5L446.0,308.1L447.5,307.0L449.0,305.9L451.0,304.4L453.0,303.0L454.3,302.0L456.0,300.8L458.0,299.4L459.9,298.0L461.3,297.0L463.0,295.7L465.0,294.3L466.8,293.0L468.2,292.0L470.0,290.7L472.0,289.3L473.8,288.0L475.2,287.0L477.0,285.7L479.0,284.2L480.7,283.0L482.1,282.0L484.0,280.7L486.0,279.2L487.7,278.0L489.1,277.0L491.0,275.6L493.0,274.2L494.6,273.0L496.0,272.0L498.0,270.5L500.0,269.1L501.5,268.0L503.0,266.9L505.0,265.4L507.0,264.0L508.3,263.0L510.0,261.8L512.0,260.3L513.8,259.0L515.1,258.0L517.0,256.6L519.0,255.1L520.5,254.0L522.0,252.9L524.0,251.4L525.8,250.0L527.1,249.0L529.0,247.6L531.0,246.1L532.4,245.0L534.0,243.8L536.0,242.2L537.6,241.0L539.0,239.9L541.0,238.4L542.8,237.0L544.1,236.0L546.0,234.5L547.9,233.0L549.1,232.0L551.0,230.5L552.9,229.0L554.2,228.0L556.0,226.5L557.9,225.0L559.1,224.0L561.0,222.5L562.8,221.0L564.1,220.0L566.0,218.4L567.7,217.0L569.0,216.0L571.0,214.3L572.6,213.0L574.0,211.8L576.0,210.1L577.4,209.0L579.0,207.6L580.9,206.0L582.1,205.0L584.0,203.4L585.7,202.0L587.0,200.9L589.0,199.2L590.3,198.0L592.0,196.6L593.8,195.0L595.0,194.0L597.0,192.3L598.5,191.0L600.0,189.7L601.9,188.0L603.1,187.0L605.0,185.3L606.5,184.0L608.0,182.7L610.0,181.0L611.1,180.0L613.0,178.3L614.5,177.0L616.0,175.7L618.0,174.0L619.1,173.0L621.0,171.3L622.5,170.0L624.0,168.7L625.9,167.0L627.1,166.0L629.0,164.3L630.5,163.0L632.0,161.7L633.9,160.0L635.0,159.0L637.0,157.3L638.5,156.0L640.0,154.7L641.9,153.0L643.0,152.0L645.0,150.3L646.5,149.0L648.0,147.7L649.9,146.0L651.1,145.0L653.0,143.4L654.6,142.0L656.0,140.8L658.0,139.0L659.2,138.0L661.0,136.5L662.7,135.0L664.0,133.9L666.0,132.2L667.4,131.0L669.0,129.6L670.9,128.0L672.1,127.0L674.0,125.4L675.6,124.0L677.0,122.8L679.0,121.2L680.4,120.0L682.0,118.6L684.0,117.0L685.2,116.0L687.0,114.5L688.8,113.0L690.0,112.0L692.0,110.3L693.6,109.0L695.0,107.8L697.0,106.2L698.4,105.0L700.0,103.7L702.0,102.1L703.3,101.0L705.0,99.6L707.0,98.0L708.2,97.0L710.0,95.5L711.9,94.0L713.1,93.0L715.0,91.4L716.8,90.0L718.0,89.0L720.0,87.4L721.7,86.0L723.0,85.0L725.0,83.3L726.7,82.0L728.0,80.9L730.0,79.3L731.6,78.0L733.0,76.9L735.0,75.3L736.6,74.0L738.0,72.9L740.0,71.3L741.6,70.0L743.0,68.9L745.0,67.3L746.6,66.0L748.0,64.8L750.0,63.2L751.6,62.0L753.0,60.8L755.0,59.2L756.6,58.0L758.0,56.8L760.0,55.3L761.6,54.0L763.0,52.9L765.0,51.3L766.6,50.0L768.0,48.9L770.0,47.3L771.6,46.0L773.0,44.9L775.0,43.3L776.6,42.0L778.0,40.9L780.0,39.3L781.6,38.0L783.0,36.9L785.0,35.3L786.7,34.0L788.0,32.9L790.0,31.3L791.7,30.0L793.0,28.9L795.0,27.4L796.7,26.0L798.0,25.0" stroke-dasharray="110 3 74 6" stroke-dashoffset="119"/><path d="M198.1,519.0L200.0,517.5L201.9,516.0L203.1,515.0L205.0,513.5L206.9,512.0L208.2,511.0L210.0,509.5L211.9,508.0L213.2,507.0L215.0,505.6L217.0,504.0L218.2,503.0L220.0,501.6L222.0,500.0L223.3,499.0L225.0,497.6L227.0,496.0L228.3,495.0L230.0,493.6L232.0,492.0L233.3,491.0L235.0,489.7L237.0,488.1L238.3,487.0L240.0,485.7L242.0,484.1L243.4,483.0L245.0,481.7L247.0,480.1L248.4,479.0L250.0,477.7L252.0,476.1L253.4,475.0L255.0,473.7L257.0,472.2L258.5,471.0L260.0,469.8L262.0,468.2L263.5,467.0L265.0,465.8L267.0,464.2L268.5,463.0L270.0,461.8L272.0,460.2L273.5,459.0L275.0,457.8L277.0,456.2L278.6,455.0L280.0,453.9L282.0,452.3L283.6,451.0L285.0,449.9L287.0,448.3L288.6,447.0L290.0,445.9L292.0,444.3L293.7,443.0L295.0,441.9L297.0,440.3L298.7,439.0L300.0,438.0L302.0,436.4L303.7,435.0L305.0,434.0L307.0,432.4L308.8,431.0L310.0,430.0L312.0,428.4L313.8,427.0L315.0,426.0L317.0,424.4L318.8,423.0L320.1,422.0L322.0,420.5L323.8,419.0L325.1,418.0L327.0,416.5L328.9,415.0L330.1,414.0L332.0,412.5L333.9,411.0L335.2,410.0L337.0,408.6L339.0,407.0L340.2,406.0L342.0,404.6L344.0,403.0L345.3,402.0L347.0,400.6L349.0,399.0L350.3,398.0L352.0,396.7L354.0,395.1L355.4,394.0L357.0,392.7L359.0,391.1L360.4,390.0L362.0,388.7L364.0,387.2L365.5,386.0L367.0,384.8L369.0,383.2L370.5,382.0L372.0,380.8L374.0,379.3L375.6,378.0L377.0,376.9L379.0,375.3L380.7,374.0L382.0,373.0L384.0,371.4L385.8,370.0L387.1,369.0L389.0,367.5L390.9,366.0L392.2,365.0L394.0,363.6L396.0,362.0L397.3,361.0L399.0,359.7L401.0,358.1L402.4,357.0L404.0,355.8L406.0,354.2L407.6,353.0L409.0,351.9L411.0,350.3L412.7,349.0L414.0,348.0L416.0,346.5L417.9,345.0L419.2,344.0L421.0,342.6L423.0,341.1L424.4,340.0L426.0,338.8L428.0,337.3L429.7,336.0L431.0,335.0L433.0,333.5L434.9,332.0L436.3,331.0L438.0,329.7L440.0,328.2L441.5,327.0L443.0,325.9L445.0,324.4L446.8,323.0L448.2,322.0L450.0,320.6L452.0,319.1L453.5,318.0L455.0,316.9L457.0,315.4L458.9,314.0L460.2,313.0L462.0,311.7L464.0,310.2L465.6,309.0L467.0,307.9L469.0,306.5L471.0,305.0L472.3,304.0L474.0,302.7L476.0,301.3L477.7,300.0L479.1,299.0L481.0,297.6L483.0,296.1L484.5,295.0L486.0,293.9L488.0,292.4L489.9,291.0L491.2,290.0L493.0,288.7L495.0,287.2L496.6,286.0L498.0,285.0L500.0,283.5L502.0,282.0L503.3,281.0L505.0,279.8L507.0,278.3L508.7,277.0L510.0,276.0L512.0,274.5L514.0,273.0L515.4,272.0L517.0,270.8L519.0,269.3L520.7,268.0L522.0,267.0L524.0,265.5L526.0,264.0L527.3,263.0L529.0,261.7L531.0,260.2L532.5,259.0L534.0,257.9L536.0,256.3L537.7,255.0L539.0,254.0L541.0,252.5L542.9,251.0L544.2,250.0L546.0,248.6L548.0,247.0L549.3,246.0L551.0,244.7L553.0,243.1L554.4,242.0L556.0,240.7L558.0,239.2L559.4,238.0L561.0,236.8L563.0,235.2L564.4,234.0L566.0,232.8L568.0,231.1L569.4,230.0L571.0,228.7L573.0,227.1L574.3,226.0L576.0,224.6L578.0,223.0L579.2,222.0L581.0,220.5L582.9,219.0L584.1,218.0L586.0,216.4L587.7,215.0L589.0,213.9L591.0,212.3L592.5,211.0L594.0,209.8L596.0,208.1L597.3,207.0L599.0,205.6L600.9,204.0L602.0,203.0L604.0,201.3L605.6,200.0L607.0,198.8L609.0,197.1L610.3,196.0L612.0,194.6L613.8,193.0L615.0,192.0L617.0,190.3L618.5,189.0L620.0,187.8L622.0,186.1L623.2,185.0L625.0,183.5L626.8,182.0L628.0,180.9L630.0,179.2L631.4,178.0L633.0,176.7L635.0,175.0L636.1,174.0L638.0,172.4L639.6,171.0L641.0,169.8L643.0,168.1L644.3,167.0L646.0,165.6L647.9,164.0L649.0,163.0L651.0,161.3L652.6,160.0L654.0,158.8L656.0,157.1L657.3,156.0L659.0,154.6L660.9,153.0L662.0,152.0L664.0,150.3L665.6,149.0L667.0,147.8L669.0,146.1L670.4,145.0L672.0,143.6L674.0,142.0L675.2,141.0L677.0,139.5L678.8,138.0L680.0,137.0L682.0,135.3L683.6,134.0L685.0,132.8L687.0,131.2L688.4,130.0L690.0,128.7L692.0,127.0L693.3,126.0L695.0,124.6L696.9,123.0L698.1,122.0L700.0,120.5L701.8,119.0L703.0,118.0L705.0,116.4L706.7,115.0L708.0,114.0L710.0,112.3L711.6,111.0L713.0,109.9L715.0,108.3L716.6,107.0L718.0,105.8L720.0,104.2L721.5,103.0L723.0,101.8L725.0,100.2L726.5,99.0L728.0,97.8L730.0,96.2L731.4,95.0L733.0,93.7L735.0,92.1L736.4,91.0L738.0,89.7L740.0,88.1L741.4,87.0L743.0,85.7L745.0,84.1L746.4,83.0L748.0,81.7L750.0,80.1L751.4,79.0L753.0,77.7L755.0,76.1L756.4,75.0L758.0,73.7L760.0,72.1L761.4,71.0L763.0,69.7L765.0,68.1L766.4,67.0L768.0,65.7L770.0,64.1L771.4,63.0L773.0,61.7L775.0,60.2L776.4,59.0L778.0,57.8L780.0,56.2L781.5,55.0L783.0,53.8L785.0,52.2L786.5,51.0L788.0,49.8L790.0,48.2L791.5,47.0L793.0,45.8L795.0,44.2L796.5,43.0L798.0,41.8" stroke-dasharray="111 6 99 3" stroke-dashoffset="36"/><path d="M219.3,519.0L221.0,517.7L223.0,516.1L224.3,515.0L226.0,513.7L228.0,512.1L229.4,511.0L231.0,509.7L233.0,508.1L234.4,507.0L236.0,505.7L238.0,504.1L239.4,503.0L241.0,501.8L243.0,500.2L244.5,499.0L246.0,497.8L248.0,496.2L249.5,495.0L251.0,493.8L253.0,492.2L254.5,491.0L256.0,489.8L258.0,488.2L259.5,487.0L261.0,485.8L263.0,484.3L264.6,483.0L266.0,481.9L268.0,480.3L269.6,479.0L271.0,477.9L273.0,476.3L274.6,475.0L276.0,473.9L278.0,472.3L279.7,471.0L281.0,469.9L283.0,468.3L284.7,467.0L286.0,466.0L288.0,464.4L289.7,463.0L291.0,462.0L293.0,460.4L294.7,459.0L296.0,458.0L298.0,456.4L299.8,455.0L301.0,454.0L303.0,452.4L304.8,451.0L306.1,450.0L308.0,448.5L309.8,447.0L311.1,446.0L313.0,444.5L314.9,443.0L316.1,442.0L318.0,440.5L319.9,439.0L321.2,438.0L323.0,436.5L324.9,435.0L326.2,434.0L328.0,432.6L330.0,431.0L331.2,430.0L333.0,428.6L335.0,427.0L336.2,426.0L338.0,424.6L340.0,423.0L341.3,422.0L343.0,420.6L345.0,419.0L346.3,418.0L348.0,416.7L350.0,415.1L351.4,414.0L353.0,412.7L355.0,411.1L356.4,410.0L358.0,408.7L360.0,407.1L361.4,406.0L363.0,404.8L365.0,403.2L366.5,402.0L368.0,400.8L370.0,399.2L371.5,398.0L373.0,396.8L375.0,395.2L376.6,394.0L378.0,392.9L380.0,391.3L381.6,390.0L383.0,388.9L385.0,387.3L386.7,386.0L388.0,385.0L390.0,383.4L391.8,382.0L393.0,381.0L395.0,379.4L396.8,378.0L398.1,377.0L400.0,375.5L401.9,374.0L403.2,373.0L405.0,371.6L407.0,370.0L408.3,369.0L410.0,367.7L412.0,366.1L413.4,365.0L415.0,363.7L417.0,362.2L418.5,361.0L420.0,359.8L422.0,358.3L423.6,357.0L425.0,355.9L427.0,354.4L428.8,353.0L430.1,352.0L432.0,350.5L433.9,349.0L435.2,348.0L437.0,346.6L439.0,345.1L440.4,344.0L442.0,342.7L444.0,341.2L445.6,340.0L447.0,338.9L449.0,337.4L450.8,336.0L452.1,335.0L454.0,333.5L456.0,332.0L457.3,331.0L459.0,329.7L461.0,328.2L462.5,327.0L464.0,325.9L466.0,324.3L467.7,323.0L469.1,322.0L471.0,320.5L473.0,319.0L474.3,318.0L476.0,316.7L478.0,315.2L479.6,314.0L481.0,312.9L483.0,311.4L484.8,310.0L486.2,309.0L488.0,307.6L490.0,306.1L491.4,305.0L493.0,303.8L495.0,302.3L496.7,301.0L498.0,300.0L500.0,298.5L502.0,297.0L503.3,296.0L505.0,294.7L507.0,293.2L508.6,292.0L510.0,290.9L512.0,289.4L513.8,288.0L515.2,287.0L517.0,285.6L519.0,284.1L520.4,283.0L522.0,281.8L524.0,280.2L525.6,279.0L527.0,277.9L529.0,276.4L530.8,275.0L532.1,274.0L534.0,272.6L536.0,271.0L537.3,270.0L539.0,268.7L541.0,267.1L542.5,266.0L544.0,264.8L546.0,263.3L547.6,262.0L549.0,260.9L551.0,259.4L552.7,258.0L554.0,257.0L556.0,255.4L557.8,254.0L559.1,253.0L561.0,251.5L562.9,250.0L564.1,249.0L566.0,247.5L567.9,246.0L569.1,245.0L571.0,243.5L572.9,242.0L574.1,241.0L576.0,239.5L577.9,238.0L579.1,237.0L581.0,235.5L582.8,234.0L584.0,233.0L586.0,231.4L587.7,230.0L589.0,229.0L591.0,227.3L592.6,226.0L594.0,224.9L596.0,223.2L597.5,222.0L599.0,220.8L601.0,219.1L602.4,218.0L604.0,216.7L606.0,215.0L607.2,214.0L609.0,212.5L610.9,211.0L612.1,210.0L614.0,208.4L615.7,207.0L617.0,205.9L619.0,204.2L620.5,203.0L622.0,201.7L624.0,200.1L625.3,199.0L627.0,197.6L628.9,196.0L630.1,195.0L632.0,193.4L633.7,192.0L635.0,190.9L637.0,189.2L638.5,188.0L640.0,186.7L642.0,185.1L643.3,184.0L645.0,182.6L646.9,181.0L648.1,180.0L650.0,178.4L651.7,177.0L653.0,175.9L655.0,174.2L656.5,173.0L658.0,171.7L660.0,170.1L661.3,169.0L663.0,167.6L664.9,166.0L666.1,165.0L668.0,163.5L669.8,162.0L671.0,161.0L673.0,159.3L674.6,158.0L676.0,156.9L678.0,155.2L679.5,154.0L681.0,152.7L683.0,151.1L684.3,150.0L686.0,148.6L688.0,147.0L689.2,146.0L691.0,144.6L692.9,143.0L694.1,142.0L696.0,140.5L697.8,139.0L699.0,138.0L701.0,136.4L702.7,135.0L704.0,134.0L706.0,132.3L707.7,131.0L709.0,129.9L711.0,128.3L712.6,127.0L714.0,125.9L716.0,124.3L717.6,123.0L719.0,121.8L721.0,120.2L722.5,119.0L724.0,117.8L726.0,116.2L727.5,115.0L729.0,113.8L731.0,112.2L732.5,111.0L734.0,109.8L736.0,108.2L737.5,107.0L739.0,105.8L741.0,104.2L742.5,103.0L744.0,101.8L746.0,100.2L747.5,99.0L749.0,97.8L751.0,96.2L752.5,95.0L754.0,93.8L756.0,92.2L757.5,91.0L759.0,89.8L761.0,88.2L762.5,87.0L764.0,85.8L766.0,84.2L767.5,83.0L769.0,81.8L771.0,80.2L772.5,79.0L774.0,77.8L776.0,76.2L777.5,75.0L779.0,73.8L781.0,72.2L782.6,71.0L784.0,69.8L786.0,68.3L787.6,67.0L789.0,65.9L791.0,64.3L792.6,63.0L794.0,61.9L796.0,60.3L797.6,59.0L799.0,57.9" stroke-dasharray="63 5 154 5" stroke-dashoffset="122"/><path d="M240.5,519.0L242.0,517.8L244.0,516.2L245.5,515.0L247.0,513.8L249.0,512.3L250.6,511.0L252.0,509.9L254.0,508.3L255.6,507.0L257.0,505.9L259.0,504.3L260.6,503.0L262.0,501.9L264.0,500.3L265.7,499.0L267.0,497.9L269.0,496.3L270.7,495.0L272.0,494.0L274.0,492.4L275.7,491.0L277.0,490.0L279.0,488.4L280.7,487.0L282.0,486.0L284.0,484.4L285.8,483.0L287.0,482.0L289.0,480.4L290.8,479.0L292.1,478.0L294.0,476.5L295.8,475.0L297.1,474.0L299.0,472.5L300.9,471.0L302.1,470.0L304.0,468.5L305.9,467.0L307.2,466.0L309.0,464.5L310.9,463.0L312.2,462.0L314.0,460.6L316.0,459.0L317.2,458.0L319.0,456.6L321.0,455.0L322.2,454.0L324.0,452.6L326.0,451.0L327.3,450.0L329.0,448.6L331.0,447.0L332.3,446.0L334.0,444.6L336.0,443.1L337.3,442.0L339.0,440.7L341.0,439.1L342.4,438.0L344.0,436.7L346.0,435.1L347.4,434.0L349.0,432.7L351.0,431.1L352.4,430.0L354.0,428.7L356.0,427.2L357.5,426.0L359.0,424.8L361.0,423.2L362.5,422.0L364.0,420.8L366.0,419.2L367.5,418.0L369.0,416.8L371.0,415.2L372.6,414.0L374.0,412.9L376.0,411.3L377.6,410.0L379.0,408.9L381.0,407.3L382.6,406.0L384.0,404.9L386.0,403.3L387.7,402.0L389.0,401.0L391.0,399.4L392.7,398.0L394.0,397.0L396.0,395.4L397.8,394.0L399.0,393.0L401.0,391.5L402.8,390.0L404.1,389.0L406.0,387.5L407.9,386.0L409.2,385.0L411.0,383.6L413.0,382.0L414.2,381.0L416.0,379.6L418.0,378.0L419.3,377.0L421.0,375.7L423.0,374.1L424.4,373.0L426.0,371.7L428.0,370.2L429.5,369.0L431.0,367.8L433.0,366.2L434.6,365.0L436.0,363.9L438.0,362.3L439.7,361.0L441.0,359.9L443.0,358.4L444.8,357.0L446.0,356.0L448.0,354.5L449.9,353.0L451.2,352.0L453.0,350.6L455.0,349.0L456.3,348.0L458.0,346.7L460.0,345.1L461.4,344.0L463.0,342.8L465.0,341.2L466.6,340.0L468.0,338.9L470.0,337.3L471.7,336.0L473.0,335.0L475.0,333.5L476.9,332.0L478.2,331.0L480.0,329.6L482.0,328.0L483.3,327.0L485.0,325.7L487.0,324.2L488.5,323.0L490.0,321.9L492.0,320.3L493.7,319.0L495.0,318.0L497.0,316.5L498.9,315.0L500.2,314.0L502.0,312.6L504.0,311.1L505.4,310.0L507.0,308.7L509.0,307.2L510.5,306.0L512.0,304.9L514.0,303.3L515.7,302.0L517.0,301.0L519.0,299.5L520.9,298.0L522.2,297.0L524.0,295.6L526.0,294.0L527.4,293.0L529.0,291.7L531.0,290.2L532.5,289.0L534.0,287.8L536.0,286.3L537.7,285.0L539.0,284.0L541.0,282.4L542.8,281.0L544.1,280.0L546.0,278.5L547.9,277.0L549.2,276.0L551.0,274.6L553.0,273.0L554.3,272.0L556.0,270.6L558.0,269.1L559.4,268.0L561.0,266.7L563.0,265.1L564.4,264.0L566.0,262.8L568.0,261.2L569.5,260.0L571.0,258.8L573.0,257.2L574.5,256.0L576.0,254.8L578.0,253.2L579.5,252.0L581.0,250.8L583.0,249.2L584.5,248.0L586.0,246.8L588.0,245.2L589.5,244.0L591.0,242.8L593.0,241.2L594.5,240.0L596.0,238.7L598.0,237.1L599.4,236.0L601.0,234.7L603.0,233.1L604.3,232.0L606.0,230.6L608.0,229.0L609.3,228.0L611.0,226.6L612.9,225.0L614.2,224.0L616.0,222.5L617.8,221.0L619.1,220.0L621.0,218.4L622.7,217.0L624.0,216.0L626.0,214.3L627.6,213.0L629.0,211.9L631.0,210.2L632.5,209.0L634.0,207.8L636.0,206.1L637.4,205.0L639.0,203.7L641.0,202.0L642.3,201.0L644.0,199.6L645.9,198.0L647.2,197.0L649.0,195.5L650.8,194.0L652.0,193.0L654.0,191.4L655.7,190.0L657.0,188.9L659.0,187.3L660.6,186.0L662.0,184.8L664.0,183.2L665.5,182.0L667.0,180.8L669.0,179.1L670.4,178.0L672.0,176.7L674.0,175.0L675.3,174.0L677.0,172.6L679.0,171.0L680.2,170.0L682.0,168.5L683.9,167.0L685.1,166.0L687.0,164.5L688.8,163.0L690.1,162.0L692.0,160.4L693.8,159.0L695.0,158.0L697.0,156.4L698.7,155.0L700.0,153.9L702.0,152.3L703.7,151.0L705.0,149.9L707.0,148.3L708.6,147.0L710.0,145.9L712.0,144.3L713.6,143.0L715.0,141.9L717.0,140.2L718.6,139.0L720.0,137.8L722.0,136.2L723.5,135.0L725.0,133.8L727.0,132.2L728.5,131.0L730.0,129.8L732.0,128.2L733.5,127.0L735.0,125.8L737.0,124.2L738.5,123.0L740.0,121.8L742.0,120.2L743.5,119.0L745.0,117.8L747.0,116.2L748.5,115.0L750.0,113.8L752.0,112.2L753.5,111.0L755.0,109.8L757.0,108.2L758.5,107.0L760.0,105.8L762.0,104.2L763.6,103.0L765.0,101.8L767.0,100.3L768.6,99.0L770.0,97.9L772.0,96.3L773.6,95.0L775.0,93.9L777.0,92.3L778.6,91.0L780.0,89.9L782.0,88.3L783.6,87.0L785.0,85.9L787.0,84.3L788.7,83.0L790.0,81.9L792.0,80.3L793.7,79.0L795.0,78.0L797.0,76.4L798.7,75.0" stroke-dasharray="138 4 126 3" stroke-dashoffset="52"/><path d="M261.7,519.0L263.0,518.0L265.0,516.4L266.8,515.0L268.0,514.0L270.0,512.4L271.8,511.0L273.0,510.0L275.0,508.4L276.8,507.0L278.1,506.0L280.0,504.5L281.8,503.0L283.1,502.0L285.0,500.5L286.9,499.0L288.1,498.0L290.0,496.5L291.9,495.0L293.2,494.0L295.0,492.5L296.9,491.0L298.2,490.0L300.0,488.6L302.0,487.0L303.2,486.0L305.0,484.6L307.0,483.0L308.2,482.0L310.0,480.6L312.0,479.0L313.3,478.0L315.0,476.6L317.0,475.0L318.3,474.0L320.0,472.6L322.0,471.1L323.3,470.0L325.0,468.7L327.0,467.1L328.4,466.0L330.0,464.7L332.0,463.1L333.4,462.0L335.0,460.7L337.0,459.1L338.4,458.0L340.0,456.7L342.0,455.1L343.4,454.0L345.0,452.8L347.0,451.2L348.5,450.0L350.0,448.8L352.0,447.2L353.5,446.0L355.0,444.8L357.0,443.2L358.5,442.0L360.0,440.8L362.0,439.2L363.6,438.0L365.0,436.9L367.0,435.3L368.6,434.0L370.0,432.9L372.0,431.3L373.6,430.0L375.0,428.9L377.0,427.3L378.7,426.0L380.0,424.9L382.0,423.3L383.7,422.0L385.0,421.0L387.0,419.4L388.7,418.0L390.0,417.0L392.0,415.4L393.8,414.0L395.0,413.0L397.0,411.4L398.8,410.0L400.1,409.0L402.0,407.5L403.8,406.0L405.1,405.0L407.0,403.5L408.9,402.0L410.2,401.0L412.0,399.5L413.9,398.0L415.2,397.0L417.0,395.6L419.0,394.0L420.2,393.0L422.0,391.6L424.0,390.0L425.3,389.0L427.0,387.7L429.0,386.1L430.4,385.0L432.0,383.7L434.0,382.1L435.4,381.0L437.0,379.7L439.0,378.2L440.5,377.0L442.0,375.8L444.0,374.2L445.5,373.0L447.0,371.8L449.0,370.3L450.6,369.0L452.0,367.9L454.0,366.3L455.7,365.0L457.0,364.0L459.0,362.4L460.8,361.0L462.0,360.0L464.0,358.5L465.9,357.0L467.1,356.0L469.0,354.5L471.0,353.0L472.2,352.0L474.0,350.6L476.0,349.0L477.3,348.0L479.0,346.7L481.0,345.1L482.4,344.0L484.0,342.8L486.0,341.2L487.5,340.0L489.0,338.9L491.0,337.3L492.6,336.0L494.0,334.9L496.0,333.4L497.8,332.0L499.0,331.0L501.0,329.5L502.9,328.0L504.2,327.0L506.0,325.6L508.0,324.0L509.3,323.0L511.0,321.7L513.0,320.1L514.4,319.0L516.0,317.7L518.0,316.2L519.5,315.0L521.0,313.8L523.0,312.3L524.6,311.0L526.0,309.9L528.0,308.4L529.7,307.0L531.0,306.0L533.0,304.4L534.8,303.0L536.1,302.0L538.0,300.5L539.9,299.0L541.2,298.0L543.0,296.6L545.0,295.0L546.3,294.0L548.0,292.7L550.0,291.1L551.4,290.0L553.0,288.7L555.0,287.2L556.5,286.0L558.0,284.8L560.0,283.2L561.6,282.0L563.0,280.9L565.0,279.3L566.6,278.0L568.0,276.9L570.0,275.3L571.7,274.0L573.0,272.9L575.0,271.4L576.7,270.0L578.0,269.0L580.0,267.4L581.7,266.0L583.0,265.0L585.0,263.4L586.8,262.0L588.0,261.0L590.0,259.4L591.8,258.0L593.0,257.0L595.0,255.4L596.8,254.0L598.0,253.0L600.0,251.4L601.8,250.0L603.0,249.0L605.0,247.4L606.7,246.0L608.0,245.0L610.0,243.4L611.7,242.0L613.0,241.0L615.0,239.3L616.7,238.0L618.0,236.9L620.0,235.3L621.6,234.0L623.0,232.9L625.0,231.3L626.6,230.0L628.0,228.9L630.0,227.2L631.5,226.0L633.0,224.8L635.0,223.2L636.5,222.0L638.0,220.8L640.0,219.1L641.4,218.0L643.0,216.7L645.0,215.1L646.4,214.0L648.0,212.7L650.0,211.1L651.3,210.0L653.0,208.6L655.0,207.0L656.2,206.0L658.0,204.6L659.9,203.0L661.2,202.0L663.0,200.5L664.9,199.0L666.1,198.0L668.0,196.5L669.8,195.0L671.1,194.0L673.0,192.4L674.8,191.0L676.0,190.0L678.0,188.4L679.7,187.0L681.0,186.0L683.0,184.4L684.7,183.0L686.0,182.0L688.0,180.3L689.7,179.0L691.0,177.9L693.0,176.3L694.6,175.0L696.0,173.9L698.0,172.3L699.6,171.0L701.0,169.9L703.0,168.3L704.6,167.0L706.0,165.9L708.0,164.3L709.6,163.0L711.0,161.9L713.0,160.2L714.6,159.0L716.0,157.8L718.0,156.2L719.6,155.0L721.0,153.8L723.0,152.2L724.5,151.0L726.0,149.8L728.0,148.2L729.5,147.0L731.0,145.8L733.0,144.2L734.6,143.0L736.0,141.8L738.0,140.2L739.6,139.0L741.0,137.8L743.0,136.3L744.6,135.0L746.0,133.9L748.0,132.3L749.6,131.0L751.0,129.9L753.0,128.3L754.6,127.0L756.0,125.9L758.0,124.3L759.6,123.0L761.0,121.9L763.0,120.3L764.6,119.0L766.0,117.9L768.0,116.3L769.7,115.0L771.0,113.9L773.0,112.3L774.7,111.0L776.0,109.9L778.0,108.4L779.7,107.0L781.0,106.0L783.0,104.4L784.7,103.0L786.0,102.0L788.0,100.4L789.7,99.0L791.0,98.0L793.0,96.4L794.8,95.0L796.0,94.0L798.0,92.4" stroke-dasharray="117 5 78 7" stroke-dashoffset="6"/><path d="M282.9,519.0L284.2,518.0L286.0,516.6L288.0,515.0L289.2,514.0L291.0,512.6L293.0,511.0L294.2,510.0L296.0,508.6L298.0,507.0L299.3,506.0L301.0,504.6L303.0,503.0L304.3,502.0L306.0,500.6L308.0,499.1L309.3,498.0L311.0,496.7L313.0,495.1L314.4,494.0L316.0,492.7L318.0,491.1L319.4,490.0L321.0,488.7L323.0,487.1L324.4,486.0L326.0,484.7L328.0,483.1L329.4,482.0L331.0,480.8L333.0,479.2L334.5,478.0L336.0,476.8L338.0,475.2L339.5,474.0L341.0,472.8L343.0,471.2L344.5,470.0L346.0,468.8L348.0,467.2L349.6,466.0L351.0,464.9L353.0,463.3L354.6,462.0L356.0,460.9L358.0,459.3L359.6,458.0L361.0,456.9L363.0,455.3L364.6,454.0L366.0,452.9L368.0,451.3L369.7,450.0L371.0,448.9L373.0,447.4L374.7,446.0L376.0,445.0L378.0,443.4L379.7,442.0L381.0,441.0L383.0,439.4L384.8,438.0L386.0,437.0L388.0,435.4L389.8,434.0L391.1,433.0L393.0,431.5L394.8,430.0L396.1,429.0L398.0,427.5L399.9,426.0L401.1,425.0L403.0,423.5L404.9,422.0L406.2,421.0L408.0,419.5L409.9,418.0L411.2,417.0L413.0,415.6L415.0,414.0L416.2,413.0L418.0,411.6L420.0,410.0L421.3,409.0L423.0,407.6L425.0,406.0L426.3,405.0L428.0,403.7L430.0,402.1L431.3,401.0L433.0,399.7L435.0,398.1L436.4,397.0L438.0,395.7L440.0,394.1L441.4,393.0L443.0,391.8L445.0,390.2L446.5,389.0L448.0,387.8L450.0,386.2L451.5,385.0L453.0,383.8L455.0,382.2L456.6,381.0L458.0,379.9L460.0,378.3L461.6,377.0L463.0,375.9L465.0,374.3L466.7,373.0L468.0,372.0L470.0,370.4L471.7,369.0L473.0,368.0L475.0,366.4L476.8,365.0L478.1,364.0L480.0,362.5L481.9,361.0L483.1,360.0L485.0,358.5L486.9,357.0L488.2,356.0L490.0,354.6L492.0,353.0L493.3,352.0L495.0,350.6L497.0,349.1L498.3,348.0L500.0,346.7L502.0,345.1L503.4,344.0L505.0,342.8L507.0,341.2L508.5,340.0L510.0,338.8L512.0,337.2L513.6,336.0L515.0,334.9L517.0,333.3L518.7,332.0L520.0,330.9L522.0,329.4L523.7,328.0L525.0,327.0L527.0,325.4L528.8,324.0L530.1,323.0L532.0,321.5L533.9,320.0L535.1,319.0L537.0,317.5L539.0,316.0L540.2,315.0L542.0,313.6L544.0,312.0L545.3,311.0L547.0,309.7L549.0,308.1L550.4,307.0L552.0,305.7L554.0,304.1L555.4,303.0L557.0,301.8L559.0,300.2L560.5,299.0L562.0,297.8L564.0,296.2L565.5,295.0L567.0,293.8L569.0,292.3L570.6,291.0L572.0,289.9L574.0,288.3L575.6,287.0L577.0,285.9L579.0,284.3L580.7,283.0L582.0,281.9L584.0,280.4L585.7,279.0L587.0,278.0L589.0,276.4L590.7,275.0L592.0,274.0L594.0,272.4L595.8,271.0L597.0,270.0L599.0,268.4L600.8,267.0L602.0,266.0L604.0,264.4L605.8,263.0L607.0,262.0L609.0,260.4L610.8,259.0L612.0,258.0L614.0,256.4L615.8,255.0L617.0,254.0L619.0,252.4L620.8,251.0L622.0,250.0L624.0,248.4L625.8,247.0L627.0,246.0L629.0,244.4L630.8,243.0L632.0,242.0L634.0,240.4L635.8,239.0L637.0,238.0L639.0,236.4L640.7,235.0L642.0,234.0L644.0,232.4L645.7,231.0L647.0,230.0L649.0,228.4L650.7,227.0L652.0,226.0L654.0,224.3L655.7,223.0L657.0,221.9L659.0,220.3L660.7,219.0L662.0,217.9L664.0,216.3L665.6,215.0L667.0,213.9L669.0,212.3L670.6,211.0L672.0,209.9L674.0,208.3L675.6,207.0L677.0,205.9L679.0,204.3L680.6,203.0L682.0,201.9L684.0,200.3L685.6,199.0L687.0,197.9L689.0,196.3L690.6,195.0L692.0,193.9L694.0,192.3L695.6,191.0L697.0,189.8L699.0,188.2L700.6,187.0L702.0,185.8L704.0,184.2L705.6,183.0L707.0,181.8L709.0,180.2L710.6,179.0L712.0,177.8L714.0,176.2L715.6,175.0L717.0,173.8L719.0,172.3L720.6,171.0L722.0,169.9L724.0,168.3L725.6,167.0L727.0,165.9L729.0,164.3L730.6,163.0L732.0,161.9L734.0,160.3L735.6,159.0L737.0,157.9L739.0,156.3L740.6,155.0L742.0,153.9L744.0,152.3L745.6,151.0L747.0,149.9L749.0,148.3L750.6,147.0L752.0,145.9L754.0,144.3L755.7,143.0L757.0,141.9L759.0,140.3L760.7,139.0L762.0,138.0L764.0,136.4L765.7,135.0L767.0,134.0L769.0,132.4L770.7,131.0L772.0,130.0L774.0,128.4L775.8,127.0L777.0,126.0L779.0,124.4L780.8,123.0L782.0,122.0L784.0,120.4L785.8,119.0L787.1,118.0L789.0,116.5L790.8,115.0L792.1,114.0L794.0,112.5L795.9,111.0L797.1,110.0L799.0,108.5" stroke-dasharray="117 5 142 3" stroke-dashoffset="66"/><path d="M304.1,519.0L306.0,517.5L307.9,516.0L309.2,515.0L311.0,513.5L312.9,512.0L314.2,511.0L316.0,509.6L318.0,508.0L319.2,507.0L321.0,505.6L323.0,504.0L324.2,503.0L326.0,501.6L328.0,500.0L329.3,499.0L331.0,497.6L333.0,496.0L334.3,495.0L336.0,493.7L338.0,492.1L339.3,491.0L341.0,489.7L343.0,488.1L344.4,487.0L346.0,485.7L348.0,484.1L349.4,483.0L351.0,481.7L353.0,480.1L354.4,479.0L356.0,477.7L358.0,476.2L359.4,475.0L361.0,473.8L363.0,472.2L364.5,471.0L366.0,469.8L368.0,468.2L369.5,467.0L371.0,465.8L373.0,464.2L374.5,463.0L376.0,461.8L378.0,460.2L379.6,459.0L381.0,457.9L383.0,456.3L384.6,455.0L386.0,453.9L388.0,452.3L389.6,451.0L391.0,449.9L393.0,448.3L394.7,447.0L396.0,445.9L398.0,444.3L399.7,443.0L401.0,442.0L403.0,440.4L404.7,439.0L406.0,438.0L408.0,436.4L409.7,435.0L411.0,434.0L413.0,432.4L414.8,431.0L416.0,430.0L418.0,428.4L419.8,427.0L421.1,426.0L423.0,424.5L424.8,423.0L426.1,422.0L428.0,420.5L429.9,419.0L431.1,418.0L433.0,416.5L434.9,415.0L436.2,414.0L438.0,412.5L439.9,411.0L441.2,410.0L443.0,408.6L445.0,407.0L446.2,406.0L448.0,404.6L450.0,403.0L451.3,402.0L453.0,400.6L455.0,399.0L456.3,398.0L458.0,396.7L460.0,395.1L461.4,394.0L463.0,392.7L465.0,391.1L466.4,390.0L468.0,388.7L470.0,387.1L471.4,386.0L473.0,384.8L475.0,383.2L476.5,382.0L478.0,380.8L480.0,379.2L481.5,378.0L483.0,376.8L485.0,375.2L486.6,374.0L488.0,372.9L490.0,371.3L491.6,370.0L493.0,368.9L495.0,367.3L496.7,366.0L498.0,364.9L500.0,363.4L501.7,362.0L503.0,361.0L505.0,359.4L506.8,358.0L508.0,357.0L510.0,355.4L511.8,354.0L513.1,353.0L515.0,351.5L516.9,350.0L518.1,349.0L520.0,347.5L521.9,346.0L523.2,345.0L525.0,343.6L527.0,342.0L528.2,341.0L530.0,339.6L532.0,338.0L533.3,337.0L535.0,335.6L537.0,334.1L538.3,333.0L540.0,331.7L542.0,330.1L543.4,329.0L545.0,327.7L547.0,326.1L548.4,325.0L550.0,323.8L552.0,322.2L553.5,321.0L555.0,319.8L557.0,318.2L558.5,317.0L560.0,315.8L562.0,314.3L563.6,313.0L565.0,311.9L567.0,310.3L568.6,309.0L570.0,307.9L572.0,306.3L573.7,305.0L575.0,304.0L577.0,302.4L578.7,301.0L580.0,300.0L582.0,298.4L583.8,297.0L585.0,296.0L587.0,294.4L588.8,293.0L590.0,292.0L592.0,290.4L593.8,289.0L595.1,288.0L597.0,286.5L598.8,285.0L600.1,284.0L602.0,282.5L603.9,281.0L605.1,280.0L607.0,278.5L608.9,277.0L610.1,276.0L612.0,274.5L613.9,273.0L615.2,272.0L617.0,270.5L618.9,269.0L620.2,268.0L622.0,266.5L623.9,265.0L625.2,264.0L627.0,262.6L629.0,261.0L630.2,260.0L632.0,258.6L634.0,257.0L635.2,256.0L637.0,254.6L639.0,253.0L640.2,252.0L642.0,250.6L644.0,249.0L645.2,248.0L647.0,246.6L649.0,245.0L650.2,244.0L652.0,242.6L654.0,241.0L655.2,240.0L657.0,238.6L659.0,237.0L660.2,236.0L662.0,234.6L664.0,233.0L665.2,232.0L667.0,230.6L669.0,229.0L670.3,228.0L672.0,226.6L674.0,225.0L675.3,224.0L677.0,222.6L679.0,221.0L680.3,220.0L682.0,218.6L684.0,217.0L685.3,216.0L687.0,214.6L689.0,213.0L690.3,212.0L692.0,210.6L694.0,209.0L695.3,208.0L697.0,206.6L699.0,205.0L700.3,204.0L702.0,202.6L704.0,201.0L705.3,200.0L707.0,198.6L709.0,197.1L710.3,196.0L712.0,194.7L714.0,193.1L715.3,192.0L717.0,190.7L719.0,189.1L720.3,188.0L722.0,186.7L724.0,185.1L725.4,184.0L727.0,182.7L729.0,181.1L730.4,180.0L732.0,178.7L734.0,177.1L735.4,176.0L737.0,174.7L739.0,173.1L740.4,172.0L742.0,170.7L744.0,169.1L745.4,168.0L747.0,166.8L749.0,165.2L750.5,164.0L752.0,162.8L754.0,161.2L755.5,160.0L757.0,158.8L759.0,157.2L760.5,156.0L762.0,154.8L764.0,153.2L765.5,152.0L767.0,150.8L769.0,149.2L770.6,148.0L772.0,146.9L774.0,145.3L775.6,144.0L777.0,142.9L779.0,141.3L780.6,140.0L782.0,138.9L784.0,137.3L785.6,136.0L787.0,134.9L789.0,133.3L790.7,132.0L792.0,130.9L794.0,129.3L795.7,128.0L797.0,127.0L799.0,125.4" stroke-dasharray="116 5 81 5" stroke-dashoffset="57"/><path d="M325.3,519.0L327.0,517.7L329.0,516.1L330.4,515.0L332.0,513.7L334.0,512.1L335.4,511.0L337.0,509.7L339.0,508.1L340.4,507.0L342.0,505.7L344.0,504.2L345.5,503.0L347.0,501.8L349.0,500.2L350.5,499.0L352.0,497.8L354.0,496.2L355.5,495.0L357.0,493.8L359.0,492.2L360.5,491.0L362.0,489.8L364.0,488.2L365.6,487.0L367.0,485.9L369.0,484.3L370.6,483.0L372.0,481.9L374.0,480.3L375.6,479.0L377.0,477.9L379.0,476.3L380.7,475.0L382.0,473.9L384.0,472.3L385.7,471.0L387.0,470.0L389.0,468.4L390.7,467.0L392.0,466.0L394.0,464.4L395.7,463.0L397.0,462.0L399.0,460.4L400.8,459.0L402.0,458.0L404.0,456.4L405.8,455.0L407.1,454.0L409.0,452.5L410.8,451.0L412.1,450.0L414.0,448.5L415.9,447.0L417.1,446.0L419.0,444.5L420.9,443.0L422.1,442.0L424.0,440.5L425.9,439.0L427.2,438.0L429.0,436.5L430.9,435.0L432.2,434.0L434.0,432.6L436.0,431.0L437.2,430.0L439.0,428.6L441.0,427.0L442.3,426.0L444.0,424.6L446.0,423.0L447.3,422.0L449.0,420.6L451.0,419.1L452.3,418.0L454.0,416.7L456.0,415.1L457.4,414.0L459.0,412.7L461.0,411.1L462.4,410.0L464.0,408.7L466.0,407.1L467.4,406.0L469.0,404.8L471.0,403.2L472.5,402.0L474.0,400.8L476.0,399.2L477.5,398.0L479.0,396.8L481.0,395.2L482.5,394.0L484.0,392.8L486.0,391.2L487.6,390.0L489.0,388.9L491.0,387.3L492.6,386.0L494.0,384.9L496.0,383.3L497.6,382.0L499.0,380.9L501.0,379.3L502.7,378.0L504.0,377.0L506.0,375.4L507.7,374.0L509.0,373.0L511.0,371.4L512.8,370.0L514.0,369.0L516.0,367.4L517.8,366.0L519.1,365.0L521.0,363.5L522.8,362.0L524.1,361.0L526.0,359.5L527.9,358.0L529.1,357.0L531.0,355.5L532.9,354.0L534.2,353.0L536.0,351.6L538.0,350.0L539.2,349.0L541.0,347.6L543.0,346.0L544.3,345.0L546.0,343.6L548.0,342.0L549.3,341.0L551.0,339.6L553.0,338.1L554.3,337.0L556.0,335.7L558.0,334.1L559.4,333.0L561.0,331.7L563.0,330.1L564.4,329.0L566.0,327.7L568.0,326.2L569.5,325.0L571.0,323.8L573.0,322.2L574.5,321.0L576.0,319.8L578.0,318.2L579.5,317.0L581.0,315.8L583.0,314.2L584.6,313.0L586.0,311.9L588.0,310.3L589.6,309.0L591.0,307.9L593.0,306.3L594.6,305.0L596.0,303.9L598.0,302.3L599.7,301.0L601.0,299.9L603.0,298.3L604.7,297.0L606.0,296.0L608.0,294.4L609.7,293.0L611.0,292.0L613.0,290.4L614.7,289.0L616.0,288.0L618.0,286.4L619.8,285.0L621.0,284.0L623.0,282.4L624.8,281.0L626.0,280.0L628.0,278.4L629.8,277.0L631.1,276.0L633.0,274.5L634.8,273.0L636.1,272.0L638.0,270.5L639.8,269.0L641.1,268.0L643.0,266.5L644.9,265.0L646.1,264.0L648.0,262.5L649.9,261.0L651.1,260.0L653.0,258.5L654.9,257.0L656.2,256.0L658.0,254.5L659.9,253.0L661.2,252.0L663.0,250.5L664.9,249.0L666.2,248.0L668.0,246.6L670.0,245.0L671.2,244.0L673.0,242.6L675.0,241.0L676.2,240.0L678.0,238.6L680.0,237.0L681.2,236.0L683.0,234.6L685.0,233.0L686.3,232.0L688.0,230.6L690.0,229.0L691.3,228.0L693.0,226.6L695.0,225.0L696.3,224.0L698.0,222.6L700.0,221.0L701.3,220.0L703.0,218.7L705.0,217.1L706.3,216.0L708.0,214.7L710.0,213.1L711.4,212.0L713.0,210.7L715.0,209.1L716.4,208.0L718.0,206.7L720.0,205.1L721.4,204.0L723.0,202.7L725.0,201.1L726.4,200.0L728.0,198.7L730.0,197.1L731.4,196.0L733.0,194.8L735.0,193.2L736.5,192.0L738.0,190.8L740.0,189.2L741.5,188.0L743.0,186.8L745.0,185.2L746.5,184.0L748.0,182.8L750.0,181.2L751.5,180.0L753.0,178.8L755.0,177.2L756.6,176.0L758.0,174.9L760.0,173.3L761.6,172.0L763.0,170.9L765.0,169.3L766.6,168.0L768.0,166.9L770.0,165.3L771.6,164.0L773.0,162.9L775.0,161.3L776.7,160.0L778.0,158.9L780.0,157.3L781.7,156.0L783.0,155.0L785.0,153.4L786.7,152.0L788.0,151.0L790.0,149.4L791.8,148.0L793.0,147.0L795.0,145.4L796.8,144.0L798.0,143.0" stroke-dasharray="118 5 141 4" stroke-dashoffset="49"/><path d="M346.5,519.0L348.0,517.8L350.0,516.2L351.6,515.0L353.0,513.9L355.0,512.3L356.6,511.0L358.0,509.9L360.0,508.3L361.6,507.0L363.0,505.9L365.0,504.3L366.7,503.0L368.0,501.9L370.0,500.3L371.7,499.0L373.0,498.0L375.0,496.4L376.7,495.0L378.0,494.0L380.0,492.4L381.7,491.0L383.0,490.0L385.0,488.4L386.8,487.0L388.0,486.0L390.0,484.4L391.8,483.0L393.1,482.0L395.0,480.5L396.8,479.0L398.1,478.0L400.0,476.5L401.9,475.0L403.1,474.0L405.0,472.5L406.9,471.0L408.1,470.0L410.0,468.5L411.9,467.0L413.2,466.0L415.0,464.5L416.9,463.0L418.2,462.0L420.0,460.6L422.0,459.0L423.2,458.0L425.0,456.6L427.0,455.0L428.3,454.0L430.0,452.6L432.0,451.0L433.3,450.0L435.0,448.6L437.0,447.0L438.3,446.0L440.0,444.7L442.0,443.1L443.3,442.0L445.0,440.7L447.0,439.1L448.4,438.0L450.0,436.7L452.0,435.1L453.4,434.0L455.0,432.7L457.0,431.1L458.4,430.0L460.0,428.8L462.0,427.2L463.5,426.0L465.0,424.8L467.0,423.2L468.5,422.0L470.0,420.8L472.0,419.2L473.5,418.0L475.0,416.8L477.0,415.2L478.6,414.0L480.0,412.9L482.0,411.3L483.6,410.0L485.0,408.9L487.0,407.3L488.6,406.0L490.0,404.9L492.0,403.3L493.7,402.0L495.0,400.9L497.0,399.3L498.7,398.0L500.0,397.0L502.0,395.4L503.7,394.0L505.0,393.0L507.0,391.4L508.8,390.0L510.0,389.0L512.0,387.4L513.8,386.0L515.0,385.0L517.0,383.4L518.8,382.0L520.1,381.0L522.0,379.5L523.9,378.0L525.1,377.0L527.0,375.5L528.9,374.0L530.1,373.0L532.0,371.5L533.9,370.0L535.2,369.0L537.0,367.6L539.0,366.0L540.2,365.0L542.0,363.6L544.0,362.0L545.2,361.0L547.0,359.6L549.0,358.0L550.3,357.0L552.0,355.6L554.0,354.0L555.3,353.0L557.0,351.7L559.0,350.1L560.3,349.0L562.0,347.7L564.0,346.1L565.4,345.0L567.0,343.7L569.0,342.1L570.4,341.0L572.0,339.7L574.0,338.1L575.4,337.0L577.0,335.8L579.0,334.2L580.5,333.0L582.0,331.8L584.0,330.2L585.5,329.0L587.0,327.8L589.0,326.2L590.5,325.0L592.0,323.8L594.0,322.2L595.6,321.0L597.0,319.9L599.0,318.3L600.6,317.0L602.0,315.9L604.0,314.3L605.6,313.0L607.0,311.9L609.0,310.3L610.7,309.0L612.0,307.9L614.0,306.3L615.7,305.0L617.0,304.0L619.0,302.4L620.7,301.0L622.0,300.0L624.0,298.4L625.7,297.0L627.0,296.0L629.0,294.4L630.8,293.0L632.0,292.0L634.0,290.4L635.8,289.0L637.1,288.0L639.0,286.4L640.8,285.0L642.1,284.0L644.0,282.5L645.8,281.0L647.1,280.0L649.0,278.5L650.9,277.0L652.1,276.0L654.0,274.5L655.9,273.0L657.1,272.0L659.0,270.5L660.9,269.0L662.2,268.0L664.0,266.5L665.9,265.0L667.2,264.0L669.0,262.6L671.0,261.0L672.2,260.0L674.0,258.6L676.0,257.0L677.2,256.0L679.0,254.6L681.0,253.0L682.3,252.0L684.0,250.6L686.0,249.0L687.3,248.0L689.0,246.6L691.0,245.0L692.3,244.0L694.0,242.7L696.0,241.1L697.3,240.0L699.0,238.7L701.0,237.1L702.4,236.0L704.0,234.7L706.0,233.1L707.4,232.0L709.0,230.7L711.0,229.1L712.4,228.0L714.0,226.7L716.0,225.1L717.4,224.0L719.0,222.8L721.0,221.2L722.5,220.0L724.0,218.8L726.0,217.2L727.5,216.0L729.0,214.8L731.0,213.2L732.5,212.0L734.0,210.8L736.0,209.2L737.5,208.0L739.0,206.8L741.0,205.2L742.6,204.0L744.0,202.9L746.0,201.3L747.6,200.0L749.0,198.9L751.0,197.3L752.6,196.0L754.0,194.9L756.0,193.3L757.6,192.0L759.0,190.9L761.0,189.3L762.7,188.0L764.0,186.9L766.0,185.4L767.7,184.0L769.0,183.0L771.0,181.4L772.7,180.0L774.0,179.0L776.0,177.4L777.8,176.0L779.0,175.0L781.0,173.4L782.8,172.0L784.0,171.0L786.0,169.4L787.8,168.0L789.1,167.0L791.0,165.5L792.8,164.0L794.1,163.0L796.0,161.5L797.9,160.0" stroke-dasharray="80 6 154 4" stroke-dashoffset="51"/><path d="M367.7,519.0L369.0,518.0L371.0,516.4L372.8,515.0L374.0,514.0L376.0,512.4L377.8,511.0L379.1,510.0L381.0,508.5L382.8,507.0L384.1,506.0L386.0,504.5L387.9,503.0L389.1,502.0L391.0,500.5L392.9,499.0L394.1,498.0L396.0,496.5L397.9,495.0L399.2,494.0L401.0,492.5L402.9,491.0L404.2,490.0L406.0,488.6L408.0,487.0L409.2,486.0L411.0,484.6L413.0,483.0L414.3,482.0L416.0,480.6L418.0,479.0L419.3,478.0L421.0,476.6L423.0,475.0L424.3,474.0L426.0,472.7L428.0,471.1L429.3,470.0L431.0,468.7L433.0,467.1L434.4,466.0L436.0,464.7L438.0,463.1L439.4,462.0L441.0,460.7L443.0,459.1L444.4,458.0L446.0,456.8L448.0,455.2L449.5,454.0L451.0,452.8L453.0,451.2L454.5,450.0L456.0,448.8L458.0,447.2L459.5,446.0L461.0,444.8L463.0,443.2L464.6,442.0L466.0,440.8L468.0,439.3L469.6,438.0L471.0,436.9L473.0,435.3L474.6,434.0L476.0,432.9L478.0,431.3L479.6,430.0L481.0,428.9L483.0,427.3L484.7,426.0L486.0,424.9L488.0,423.4L489.7,422.0L491.0,421.0L493.0,419.4L494.7,418.0L496.0,417.0L498.0,415.4L499.8,414.0L501.0,413.0L503.0,411.4L504.8,410.0L506.0,409.0L508.0,407.4L509.8,406.0L511.1,405.0L513.0,403.5L514.8,402.0L516.1,401.0L518.0,399.5L519.9,398.0L521.1,397.0L523.0,395.5L524.9,394.0L526.2,393.0L528.0,391.5L529.9,390.0L531.2,389.0L533.0,387.6L535.0,386.0L536.2,385.0L538.0,383.6L540.0,382.0L541.3,381.0L543.0,379.6L545.0,378.0L546.3,377.0L548.0,375.6L550.0,374.0L551.3,373.0L553.0,371.7L555.0,370.1L556.4,369.0L558.0,367.7L560.0,366.1L561.4,365.0L563.0,363.7L565.0,362.1L566.4,361.0L568.0,359.7L570.0,358.1L571.4,357.0L573.0,355.8L575.0,354.2L576.5,353.0L578.0,351.8L580.0,350.2L581.5,349.0L583.0,347.8L585.0,346.2L586.5,345.0L588.0,343.8L590.0,342.2L591.6,341.0L593.0,339.9L595.0,338.3L596.6,337.0L598.0,335.9L600.0,334.3L601.6,333.0L603.0,331.9L605.0,330.3L606.7,329.0L608.0,327.9L610.0,326.3L611.7,325.0L613.0,324.0L615.0,322.4L616.7,321.0L618.0,320.0L620.0,318.4L621.7,317.0L623.0,316.0L625.0,314.4L626.8,313.0L628.0,312.0L630.0,310.4L631.8,309.0L633.1,308.0L635.0,306.5L636.8,305.0L638.1,304.0L640.0,302.5L641.9,301.0L643.1,300.0L645.0,298.5L646.9,297.0L648.1,296.0L650.0,294.5L651.9,293.0L653.2,292.0L655.0,290.5L656.9,289.0L658.2,288.0L660.0,286.6L662.0,285.0L663.2,284.0L665.0,282.6L667.0,281.0L668.2,280.0L670.0,278.6L672.0,277.0L673.3,276.0L675.0,274.6L677.0,273.0L678.3,272.0L680.0,270.6L682.0,269.1L683.3,268.0L685.0,266.7L687.0,265.1L688.4,264.0L690.0,262.7L692.0,261.1L693.4,260.0L695.0,258.7L697.0,257.1L698.4,256.0L700.0,254.7L702.0,253.1L703.4,252.0L705.0,250.8L707.0,249.2L708.5,248.0L710.0,246.8L712.0,245.2L713.5,244.0L715.0,242.8L717.0,241.2L718.5,240.0L720.0,238.8L722.0,237.2L723.5,236.0L725.0,234.8L727.0,233.2L728.6,232.0L730.0,230.9L732.0,229.3L733.6,228.0L735.0,226.9L737.0,225.3L738.6,224.0L740.0,222.9L742.0,221.3L743.6,220.0L745.0,218.9L747.0,217.3L748.7,216.0L750.0,214.9L752.0,213.4L753.7,212.0L755.0,211.0L757.0,209.4L758.7,208.0L760.0,207.0L762.0,205.4L763.8,204.0L765.0,203.0L767.0,201.4L768.8,200.0L770.0,199.0L772.0,197.4L773.8,196.0L775.1,195.0L777.0,193.5L778.8,192.0L780.1,191.0L782.0,189.5L783.9,188.0L785.1,187.0L787.0,185.5L788.9,184.0L790.2,183.0L792.0,181.5L793.9,180.0L795.2,179.0L797.0,177.6L799.0,176.0" stroke-dasharray="116 6 105 3" stroke-dashoffset="7"/><path d="M388.9,519.0L390.2,518.0L392.0,516.6L394.0,515.0L395.2,514.0L397.0,512.6L399.0,511.0L400.3,510.0L402.0,508.6L404.0,507.0L405.3,506.0L407.0,504.6L409.0,503.1L410.3,502.0L412.0,500.7L414.0,499.1L415.3,498.0L417.0,496.7L419.0,495.1L420.4,494.0L422.0,492.7L424.0,491.1L425.4,490.0L427.0,488.7L429.0,487.1L430.4,486.0L432.0,484.8L434.0,483.2L435.5,482.0L437.0,480.8L439.0,479.2L440.5,478.0L442.0,476.8L444.0,475.2L445.5,474.0L447.0,472.8L449.0,471.2L450.6,470.0L452.0,468.8L454.0,467.3L455.6,466.0L457.0,464.9L459.0,463.3L460.6,462.0L462.0,460.9L464.0,459.3L465.6,458.0L467.0,456.9L469.0,455.3L470.7,454.0L472.0,452.9L474.0,451.3L475.7,450.0L477.0,449.0L479.0,447.4L480.7,446.0L482.0,445.0L484.0,443.4L485.8,442.0L487.0,441.0L489.0,439.4L490.8,438.0L492.0,437.0L494.0,435.4L495.8,434.0L497.1,433.0L499.0,431.5L500.8,430.0L502.1,429.0L504.0,427.5L505.9,426.0L507.1,425.0L509.0,423.5L510.9,422.0L512.2,421.0L514.0,419.5L515.9,418.0L517.2,417.0L519.0,415.6L521.0,414.0L522.2,413.0L524.0,411.6L526.0,410.0L527.2,409.0L529.0,407.6L531.0,406.0L532.3,405.0L534.0,403.6L536.0,402.0L537.3,401.0L539.0,399.7L541.0,398.1L542.3,397.0L544.0,395.7L546.0,394.1L547.4,393.0L549.0,391.7L551.0,390.1L552.4,389.0L554.0,387.7L556.0,386.1L557.4,385.0L559.0,383.7L561.0,382.2L562.5,381.0L564.0,379.8L566.0,378.2L567.5,377.0L569.0,375.8L571.0,374.2L572.5,373.0L574.0,371.8L576.0,370.2L577.5,369.0L579.0,367.8L581.0,366.2L582.6,365.0L584.0,363.9L586.0,362.3L587.6,361.0L589.0,359.9L591.0,358.3L592.6,357.0L594.0,355.9L596.0,354.3L597.7,353.0L599.0,351.9L601.0,350.3L602.7,349.0L604.0,348.0L606.0,346.4L607.7,345.0L609.0,344.0L611.0,342.4L612.7,341.0L614.0,340.0L616.0,338.4L617.8,337.0L619.0,336.0L621.0,334.4L622.8,333.0L624.1,332.0L626.0,330.5L627.8,329.0L629.1,328.0L631.0,326.5L632.9,325.0L634.1,324.0L636.0,322.5L637.9,321.0L639.1,320.0L641.0,318.5L642.9,317.0L644.2,316.0L646.0,314.5L647.9,313.0L649.2,312.0L651.0,310.6L653.0,309.0L654.2,308.0L656.0,306.6L658.0,305.0L659.3,304.0L661.0,302.6L663.0,301.0L664.3,300.0L666.0,298.6L668.0,297.0L669.3,296.0L671.0,294.7L673.0,293.1L674.3,292.0L676.0,290.7L678.0,289.1L679.4,288.0L681.0,286.7L683.0,285.1L684.4,284.0L686.0,282.7L688.0,281.1L689.4,280.0L691.0,278.7L693.0,277.2L694.5,276.0L696.0,274.8L698.0,273.2L699.5,272.0L701.0,270.8L703.0,269.2L704.5,268.0L706.0,266.8L708.0,265.2L709.5,264.0L711.0,262.8L713.0,261.2L714.6,260.0L716.0,258.9L718.0,257.3L719.6,256.0L721.0,254.9L723.0,253.3L724.6,252.0L726.0,250.9L728.0,249.3L729.6,248.0L731.0,246.9L733.0,245.3L734.7,244.0L736.0,242.9L738.0,241.4L739.7,240.0L741.0,239.0L743.0,237.4L744.7,236.0L746.0,235.0L748.0,233.4L749.8,232.0L751.0,231.0L753.0,229.4L754.8,228.0L756.0,227.0L758.0,225.4L759.8,224.0L761.1,223.0L763.0,221.5L764.8,220.0L766.1,219.0L768.0,217.5L769.9,216.0L771.1,215.0L773.0,213.5L774.9,212.0L776.2,211.0L778.0,209.5L779.9,208.0L781.2,207.0L783.0,205.6L785.0,204.0L786.2,203.0L788.0,201.6L790.0,200.0L791.2,199.0L793.0,197.6L795.0,196.0L796.3,195.0L798.0,193.6" stroke-dasharray="85 6 93 4" stroke-dashoffset="88"/><path d="M410.2,519.0L412.0,517.5L413.9,516.0L415.2,515.0L417.0,513.6L419.0,512.0L420.2,511.0L422.0,509.6L424.0,508.0L425.2,507.0L427.0,505.6L429.0,504.0L430.3,503.0L432.0,501.6L434.0,500.0L435.3,499.0L437.0,497.6L439.0,496.1L440.3,495.0L442.0,493.7L444.0,492.1L445.4,491.0L447.0,489.7L449.0,488.1L450.4,487.0L452.0,485.7L454.0,484.1L455.4,483.0L457.0,481.7L459.0,480.1L460.4,479.0L462.0,477.8L464.0,476.2L465.5,475.0L467.0,473.8L469.0,472.2L470.5,471.0L472.0,469.8L474.0,468.2L475.5,467.0L477.0,465.8L479.0,464.2L480.6,463.0L482.0,461.9L484.0,460.3L485.6,459.0L487.0,457.9L489.0,456.3L490.6,455.0L492.0,453.9L494.0,452.3L495.6,451.0L497.0,449.9L499.0,448.3L500.7,447.0L502.0,445.9L504.0,444.4L505.7,443.0L507.0,442.0L509.0,440.4L510.7,439.0L512.0,438.0L514.0,436.4L515.8,435.0L517.0,434.0L519.0,432.4L520.8,431.0L522.0,430.0L524.0,428.4L525.8,427.0L527.1,426.0L529.0,424.5L530.8,423.0L532.1,422.0L534.0,420.5L535.9,419.0L537.1,418.0L539.0,416.5L540.9,415.0L542.2,414.0L544.0,412.5L545.9,411.0L547.2,410.0L549.0,408.6L551.0,407.0L552.2,406.0L554.0,404.6L556.0,403.0L557.2,402.0L559.0,400.6L561.0,399.0L562.3,398.0L564.0,396.6L566.0,395.0L567.3,394.0L569.0,392.7L571.0,391.1L572.3,390.0L574.0,388.7L576.0,387.1L577.4,386.0L579.0,384.7L581.0,383.1L582.4,382.0L584.0,380.7L586.0,379.1L587.4,378.0L589.0,376.7L591.0,375.2L592.4,374.0L594.0,372.8L596.0,371.2L597.5,370.0L599.0,368.8L601.0,367.2L602.5,366.0L604.0,364.8L606.0,363.2L607.5,362.0L609.0,360.8L611.0,359.2L612.6,358.0L614.0,356.9L616.0,355.3L617.6,354.0L619.0,352.9L621.0,351.3L622.6,350.0L624.0,348.9L626.0,347.3L627.7,346.0L629.0,344.9L631.0,343.3L632.7,342.0L634.0,340.9L636.0,339.4L637.7,338.0L639.0,337.0L641.0,335.4L642.7,334.0L644.0,333.0L646.0,331.4L647.8,330.0L649.0,329.0L651.0,327.4L652.8,326.0L654.1,325.0L656.0,323.4L657.8,322.0L659.1,321.0L661.0,319.5L662.9,318.0L664.1,317.0L666.0,315.5L667.9,314.0L669.1,313.0L671.0,311.5L672.9,310.0L674.2,309.0L676.0,307.5L677.9,306.0L679.2,305.0L681.0,303.6L683.0,302.0L684.2,301.0L686.0,299.6L688.0,298.0L689.3,297.0L691.0,295.6L693.0,294.0L694.3,293.0L696.0,291.6L698.0,290.0L699.3,289.0L701.0,287.7L703.0,286.1L704.3,285.0L706.0,283.7L708.0,282.1L709.4,281.0L711.0,279.7L713.0,278.1L714.4,277.0L716.0,275.7L718.0,274.1L719.4,273.0L721.0,271.7L723.0,270.2L724.4,269.0L726.0,267.8L728.0,266.2L729.5,265.0L731.0,263.8L733.0,262.2L734.5,261.0L736.0,259.8L738.0,258.2L739.5,257.0L741.0,255.8L743.0,254.2L744.6,253.0L746.0,251.9L748.0,250.3L749.6,249.0L751.0,247.9L753.0,246.3L754.6,245.0L756.0,243.9L758.0,242.3L759.6,241.0L761.0,239.9L763.0,238.3L764.7,237.0L766.0,235.9L768.0,234.4L769.7,233.0L771.0,232.0L773.0,230.4L774.7,229.0L776.0,228.0L778.0,226.4L779.8,225.0L781.0,224.0L783.0,222.4L784.8,221.0L786.0,220.0L788.0,218.4L789.8,217.0L791.1,216.0L793.0,214.5L794.8,213.0L796.1,212.0L798.0,210.5" stroke-dasharray="107 5 106 3" stroke-dashoffset="56"/><path d="M431.4,519.0L433.0,517.7L435.0,516.1L436.4,515.0L438.0,513.7L440.0,512.1L441.4,511.0L443.0,509.7L445.0,508.1L446.4,507.0L448.0,505.8L450.0,504.2L451.5,503.0L453.0,501.8L455.0,500.2L456.5,499.0L458.0,497.8L460.0,496.2L461.5,495.0L463.0,493.8L465.0,492.2L466.6,491.0L468.0,489.9L470.0,488.3L471.6,487.0L473.0,485.9L475.0,484.3L476.6,483.0L478.0,481.9L480.0,480.3L481.6,479.0L483.0,477.9L485.0,476.3L486.7,475.0L488.0,473.9L490.0,472.4L491.7,471.0L493.0,470.0L495.0,468.4L496.7,467.0L498.0,466.0L500.0,464.4L501.8,463.0L503.0,462.0L505.0,460.4L506.8,459.0L508.0,458.0L510.0,456.4L511.8,455.0L513.1,454.0L515.0,452.5L516.8,451.0L518.1,450.0L520.0,448.5L521.9,447.0L523.1,446.0L525.0,444.5L526.9,443.0L528.2,442.0L530.0,440.5L531.9,439.0L533.2,438.0L535.0,436.6L537.0,435.0L538.2,434.0L540.0,432.6L542.0,431.0L543.2,430.0L545.0,428.6L547.0,427.0L548.3,426.0L550.0,424.6L552.0,423.0L553.3,422.0L555.0,420.7L557.0,419.1L558.3,418.0L560.0,416.7L562.0,415.1L563.4,414.0L565.0,412.7L567.0,411.1L568.4,410.0L570.0,408.7L572.0,407.1L573.4,406.0L575.0,404.7L577.0,403.2L578.4,402.0L580.0,400.8L582.0,399.2L583.5,398.0L585.0,396.8L587.0,395.2L588.5,394.0L590.0,392.8L592.0,391.2L593.5,390.0L595.0,388.8L597.0,387.2L598.6,386.0L600.0,384.9L602.0,383.3L603.6,382.0L605.0,380.9L607.0,379.3L608.6,378.0L610.0,376.9L612.0,375.3L613.6,374.0L615.0,372.9L617.0,371.3L618.7,370.0L620.0,368.9L622.0,367.4L623.7,366.0L625.0,365.0L627.0,363.4L628.7,362.0L630.0,361.0L632.0,359.4L633.8,358.0L635.0,357.0L637.0,355.4L638.8,354.0L640.1,353.0L642.0,351.4L643.8,350.0L645.1,349.0L647.0,347.5L648.9,346.0L650.1,345.0L652.0,343.5L653.9,342.0L655.1,341.0L657.0,339.5L658.9,338.0L660.2,337.0L662.0,335.5L663.9,334.0L665.2,333.0L667.0,331.6L669.0,330.0L670.2,329.0L672.0,327.6L674.0,326.0L675.3,325.0L677.0,323.6L679.0,322.0L680.3,321.0L682.0,319.6L684.0,318.0L685.3,317.0L687.0,315.7L689.0,314.1L690.3,313.0L692.0,311.7L694.0,310.1L695.4,309.0L697.0,307.7L699.0,306.1L700.4,305.0L702.0,303.7L704.0,302.1L705.4,301.0L707.0,299.7L709.0,298.2L710.5,297.0L712.0,295.8L714.0,294.2L715.5,293.0L717.0,291.8L719.0,290.2L720.5,289.0L722.0,287.8L724.0,286.2L725.5,285.0L727.0,283.8L729.0,282.2L730.6,281.0L732.0,279.9L734.0,278.3L735.6,277.0L737.0,275.9L739.0,274.3L740.6,273.0L742.0,271.9L744.0,270.3L745.7,269.0L747.0,267.9L749.0,266.3L750.7,265.0L752.0,263.9L754.0,262.4L755.7,261.0L757.0,260.0L759.0,258.4L760.7,257.0L762.0,256.0L764.0,254.4L765.8,253.0L767.0,252.0L769.0,250.4L770.8,249.0L772.1,248.0L774.0,246.5L775.8,245.0L777.1,244.0L779.0,242.5L780.9,241.0L782.1,240.0L784.0,238.5L785.9,237.0L787.1,236.0L789.0,234.5L790.9,233.0L792.2,232.0L794.0,230.5L795.9,229.0L797.2,228.0L799.0,226.6" stroke-dasharray="63 4 120 4" stroke-dashoffset="86"/><path d="M452.6,519.0L454.0,517.9L456.0,516.3L457.6,515.0L459.0,513.9L461.0,512.3L462.6,511.0L464.0,509.9L466.0,508.3L467.6,507.0L469.0,505.9L471.0,504.3L472.7,503.0L474.0,501.9L476.0,500.4L477.7,499.0L479.0,498.0L481.0,496.4L482.7,495.0L484.0,494.0L486.0,492.4L487.8,491.0L489.0,490.0L491.0,488.4L492.8,487.0L494.0,486.0L496.0,484.4L497.8,483.0L499.1,482.0L501.0,480.5L502.8,479.0L504.1,478.0L506.0,476.5L507.9,475.0L509.1,474.0L511.0,472.5L512.9,471.0L514.2,470.0L516.0,468.5L517.9,467.0L519.2,466.0L521.0,464.6L523.0,463.0L524.2,462.0L526.0,460.6L528.0,459.0L529.2,458.0L531.0,456.6L533.0,455.0L534.3,454.0L536.0,452.6L538.0,451.0L539.3,450.0L541.0,448.7L543.0,447.1L544.3,446.0L546.0,444.7L548.0,443.1L549.4,442.0L551.0,440.7L553.0,439.1L554.4,438.0L556.0,436.7L558.0,435.1L559.4,434.0L561.0,432.7L563.0,431.2L564.5,430.0L566.0,428.8L568.0,427.2L569.5,426.0L571.0,424.8L573.0,423.2L574.5,422.0L576.0,420.8L578.0,419.2L579.5,418.0L581.0,416.8L583.0,415.2L584.6,414.0L586.0,412.9L588.0,411.3L589.6,410.0L591.0,408.9L593.0,407.3L594.6,406.0L596.0,404.9L598.0,403.3L599.7,402.0L601.0,400.9L603.0,399.3L604.7,398.0L606.0,397.0L608.0,395.4L609.7,394.0L611.0,393.0L613.0,391.4L614.7,390.0L616.0,389.0L618.0,387.4L619.8,386.0L621.0,385.0L623.0,383.4L624.8,382.0L626.1,381.0L628.0,379.5L629.8,378.0L631.1,377.0L633.0,375.5L634.9,374.0L636.1,373.0L638.0,371.5L639.9,370.0L641.1,369.0L643.0,367.5L644.9,366.0L646.2,365.0L648.0,363.5L649.9,362.0L651.2,361.0L653.0,359.6L655.0,358.0L656.2,357.0L658.0,355.6L660.0,354.0L661.3,353.0L663.0,351.6L665.0,350.0L666.3,349.0L668.0,347.6L670.0,346.0L671.3,345.0L673.0,343.7L675.0,342.1L676.3,341.0L678.0,339.7L680.0,338.1L681.4,337.0L683.0,335.7L685.0,334.1L686.4,333.0L688.0,331.7L690.0,330.1L691.4,329.0L693.0,327.7L695.0,326.2L696.5,325.0L698.0,323.8L700.0,322.2L701.5,321.0L703.0,319.8L705.0,318.2L706.5,317.0L708.0,315.8L710.0,314.2L711.5,313.0L713.0,311.8L715.0,310.2L716.6,309.0L718.0,307.9L720.0,306.3L721.6,305.0L723.0,303.9L725.0,302.3L726.6,301.0L728.0,299.9L730.0,298.3L731.7,297.0L733.0,295.9L735.0,294.3L736.7,293.0L738.0,292.0L740.0,290.4L741.7,289.0L743.0,288.0L745.0,286.4L746.7,285.0L748.0,284.0L750.0,282.4L751.8,281.0L753.0,280.0L755.0,278.4L756.8,277.0L758.1,276.0L760.0,274.5L761.8,273.0L763.1,272.0L765.0,270.5L766.9,269.0L768.1,268.0L770.0,266.5L771.9,265.0L773.1,264.0L775.0,262.5L776.9,261.0L778.2,260.0L780.0,258.5L781.9,257.0L783.2,256.0L785.0,254.6L787.0,253.0L788.2,252.0L790.0,250.6L792.0,249.0L793.3,248.0L795.0,246.6L797.0,245.0L798.3,244.0" stroke-dasharray="76 6 139 7" stroke-dashoffset="0"/><path d="M473.8,519.0L475.0,518.0L477.0,516.4L478.8,515.0L480.1,514.0L482.0,512.5L483.8,511.0L485.1,510.0L487.0,508.5L488.9,507.0L490.1,506.0L492.0,504.5L493.9,503.0L495.1,502.0L497.0,500.5L498.9,499.0L500.2,498.0L502.0,496.5L503.9,495.0L505.2,494.0L507.0,492.6L509.0,491.0L510.2,490.0L512.0,488.6L514.0,487.0L515.3,486.0L517.0,484.6L519.0,483.0L520.3,482.0L522.0,480.6L524.0,479.0L525.3,478.0L527.0,476.7L529.0,475.1L530.3,474.0L532.0,472.7L534.0,471.1L535.4,470.0L537.0,468.7L539.0,467.1L540.4,466.0L542.0,464.7L544.0,463.1L545.4,462.0L547.0,460.7L549.0,459.2L550.5,458.0L552.0,456.8L554.0,455.2L555.5,454.0L557.0,452.8L559.0,451.2L560.5,450.0L562.0,448.8L564.0,447.2L565.5,446.0L567.0,444.8L569.0,443.2L570.6,442.0L572.0,440.9L574.0,439.3L575.6,438.0L577.0,436.9L579.0,435.3L580.6,434.0L582.0,432.9L584.0,431.3L585.7,430.0L587.0,428.9L589.0,427.3L590.7,426.0L592.0,425.0L594.0,423.4L595.7,422.0L597.0,421.0L599.0,419.4L600.7,418.0L602.0,417.0L604.0,415.4L605.8,414.0L607.0,413.0L609.0,411.4L610.8,410.0L612.1,409.0L614.0,407.5L615.8,406.0L617.1,405.0L619.0,403.5L620.9,402.0L622.1,401.0L624.0,399.5L625.9,398.0L627.1,397.0L629.0,395.5L630.9,394.0L632.2,393.0L634.0,391.5L635.9,390.0L637.2,389.0L639.0,387.6L641.0,386.0L642.2,385.0L644.0,383.6L646.0,382.0L647.3,381.0L649.0,379.6L651.0,378.0L652.3,377.0L654.0,375.6L656.0,374.0L657.3,373.0L659.0,371.7L661.0,370.1L662.3,369.0L664.0,367.7L666.0,366.1L667.4,365.0L669.0,363.7L671.0,362.1L672.4,361.0L674.0,359.7L676.0,358.1L677.4,357.0L679.0,355.7L681.0,354.2L682.5,353.0L684.0,351.8L686.0,350.2L687.5,349.0L689.0,347.8L691.0,346.2L692.5,345.0L694.0,343.8L696.0,342.2L697.5,341.0L699.0,339.8L701.0,338.3L702.6,337.0L704.0,335.9L706.0,334.3L707.6,333.0L709.0,331.9L711.0,330.3L712.6,329.0L714.0,327.9L716.0,326.3L717.7,325.0L719.0,323.9L721.0,322.3L722.7,321.0L724.0,320.0L726.0,318.4L727.7,317.0L729.0,316.0L731.0,314.4L732.7,313.0L734.0,312.0L736.0,310.4L737.8,309.0L739.0,308.0L741.0,306.4L742.8,305.0L744.1,304.0L746.0,302.5L747.8,301.0L749.1,300.0L751.0,298.5L752.9,297.0L754.1,296.0L756.0,294.5L757.9,293.0L759.1,292.0L761.0,290.5L762.9,289.0L764.2,288.0L766.0,286.5L767.9,285.0L769.2,284.0L771.0,282.6L773.0,281.0L774.2,280.0L776.0,278.6L778.0,277.0L779.3,276.0L781.0,274.6L783.0,273.0L784.3,272.0L786.0,270.6L788.0,269.0L789.3,268.0L791.0,266.7L793.0,265.1L794.3,264.0L796.0,262.7L798.0,261.1" stroke-dasharray="111 5 142 3" stroke-dashoffset="30"/><path d="M495.0,519.0L496.2,518.0L498.0,516.6L500.0,515.0L501.3,514.0L503.0,512.6L505.0,511.0L506.3,510.0L508.0,508.6L510.0,507.0L511.3,506.0L513.0,504.7L515.0,503.1L516.3,502.0L518.0,500.7L520.0,499.1L521.4,498.0L523.0,496.7L525.0,495.1L526.4,494.0L528.0,492.7L530.0,491.1L531.4,490.0L533.0,488.7L535.0,487.2L536.5,486.0L538.0,484.8L540.0,483.2L541.5,482.0L543.0,480.8L545.0,479.2L546.5,478.0L548.0,476.8L550.0,475.2L551.5,474.0L553.0,472.8L555.0,471.3L556.6,470.0L558.0,468.9L560.0,467.3L561.6,466.0L563.0,464.9L565.0,463.3L566.6,462.0L568.0,460.9L570.0,459.3L571.7,458.0L573.0,456.9L575.0,455.3L576.7,454.0L578.0,453.0L580.0,451.4L581.7,450.0L583.0,449.0L585.0,447.4L586.7,446.0L588.0,445.0L590.0,443.4L591.8,442.0L593.0,441.0L595.0,439.4L596.8,438.0L598.1,437.0L600.0,435.5L601.8,434.0L603.1,433.0L605.0,431.5L606.9,430.0L608.1,429.0L610.0,427.5L611.9,426.0L613.1,425.0L615.0,423.5L616.9,422.0L618.2,421.0L620.0,419.5L621.9,418.0L623.2,417.0L625.0,415.6L627.0,414.0L628.2,413.0L630.0,411.6L632.0,410.0L633.3,409.0L635.0,407.6L637.0,406.0L638.3,405.0L640.0,403.6L642.0,402.0L643.3,401.0L645.0,399.7L647.0,398.1L648.3,397.0L650.0,395.7L652.0,394.1L653.4,393.0L655.0,391.7L657.0,390.1L658.4,389.0L660.0,387.7L662.0,386.1L663.4,385.0L665.0,383.8L667.0,382.2L668.5,381.0L670.0,379.8L672.0,378.2L673.5,377.0L675.0,375.8L677.0,374.2L678.5,373.0L680.0,371.8L682.0,370.2L683.5,369.0L685.0,367.8L687.0,366.3L688.6,365.0L690.0,363.9L692.0,362.3L693.6,361.0L695.0,359.9L697.0,358.3L698.6,357.0L700.0,355.9L702.0,354.3L703.7,353.0L705.0,351.9L707.0,350.3L708.7,349.0L710.0,348.0L712.0,346.4L713.7,345.0L715.0,344.0L717.0,342.4L718.7,341.0L720.0,340.0L722.0,338.4L723.8,337.0L725.0,336.0L727.0,334.4L728.8,333.0L730.1,332.0L732.0,330.5L733.8,329.0L735.1,328.0L737.0,326.5L738.9,325.0L740.1,324.0L742.0,322.5L743.9,321.0L745.1,320.0L747.0,318.5L748.9,317.0L750.2,316.0L752.0,314.5L753.9,313.0L755.2,312.0L757.0,310.6L759.0,309.0L760.2,308.0L762.0,306.6L764.0,305.0L765.3,304.0L767.0,302.6L769.0,301.0L770.3,300.0L772.0,298.6L774.0,297.0L775.3,296.0L777.0,294.7L779.0,293.1L780.3,292.0L782.0,290.7L784.0,289.1L785.4,288.0L787.0,286.7L789.0,285.1L790.4,284.0L792.0,282.7L794.0,281.1L795.4,280.0L797.0,278.8L799.0,277.2" stroke-dasharray="99 4 121 4" stroke-dashoffset="111"/><path d="M516.2,519.0L518.0,517.5L519.9,516.0L521.2,515.0L523.0,513.6L525.0,512.0L526.2,511.0L528.0,509.6L530.0,508.0L531.3,507.0L533.0,505.6L535.0,504.0L536.3,503.0L538.0,501.6L540.0,500.0L541.3,499.0L543.0,497.7L545.0,496.1L546.3,495.0L548.0,493.7L550.0,492.1L551.4,491.0L553.0,489.7L555.0,488.1L556.4,487.0L558.0,485.7L560.0,484.1L561.4,483.0L563.0,481.8L565.0,480.2L566.5,479.0L568.0,477.8L570.0,476.2L571.5,475.0L573.0,473.8L575.0,472.2L576.5,471.0L578.0,469.8L580.0,468.2L581.5,467.0L583.0,465.8L585.0,464.3L586.6,463.0L588.0,461.9L590.0,460.3L591.6,459.0L593.0,457.9L595.0,456.3L596.6,455.0L598.0,453.9L600.0,452.3L601.7,451.0L603.0,449.9L605.0,448.3L606.7,447.0L608.0,446.0L610.0,444.4L611.7,443.0L613.0,442.0L615.0,440.4L616.7,439.0L618.0,438.0L620.0,436.4L621.8,435.0L623.0,434.0L625.0,432.4L626.8,431.0L628.1,430.0L630.0,428.5L631.8,427.0L633.1,426.0L635.0,424.5L636.9,423.0L638.1,422.0L640.0,420.5L641.9,419.0L643.1,418.0L645.0,416.5L646.9,415.0L648.2,414.0L650.0,412.6L651.9,411.0L653.2,410.0L655.0,408.6L657.0,407.0L658.2,406.0L660.0,404.6L662.0,403.0L663.3,402.0L665.0,400.6L667.0,399.0L668.3,398.0L670.0,396.6L672.0,395.1L673.3,394.0L675.0,392.7L677.0,391.1L678.4,390.0L680.0,388.7L682.0,387.1L683.4,386.0L685.0,384.7L687.0,383.1L688.4,382.0L690.0,380.7L692.0,379.1L693.4,378.0L695.0,376.8L697.0,375.2L698.5,374.0L700.0,372.8L702.0,371.2L703.5,370.0L705.0,368.8L707.0,367.2L708.5,366.0L710.0,364.8L712.0,363.2L713.6,362.0L715.0,360.8L717.0,359.3L718.6,358.0L720.0,356.9L722.0,355.3L723.6,354.0L725.0,352.9L727.0,351.3L728.6,350.0L730.0,348.9L732.0,347.3L733.7,346.0L735.0,344.9L737.0,343.3L738.7,342.0L740.0,341.0L742.0,339.4L743.7,338.0L745.0,337.0L747.0,335.4L748.8,334.0L750.0,333.0L752.0,331.4L753.8,330.0L755.0,329.0L757.0,327.4L758.8,326.0L760.1,325.0L762.0,323.5L763.8,322.0L765.1,321.0L767.0,319.5L768.9,318.0L770.1,317.0L772.0,315.5L773.9,314.0L775.2,313.0L777.0,311.5L778.9,310.0L780.2,309.0L782.0,307.6L784.0,306.0L785.2,305.0L787.0,303.6L789.0,302.0L790.2,301.0L792.0,299.6L794.0,298.0L795.3,297.0L797.0,295.6L799.0,294.0" stroke-dasharray="131 5 71 6" stroke-dashoffset="118"/><path d="M537.4,519.0L539.0,517.7L541.0,516.1L542.4,515.0L544.0,513.7L546.0,512.1L547.4,511.0L549.0,509.8L551.0,508.2L552.5,507.0L554.0,505.8L556.0,504.2L557.5,503.0L559.0,501.8L561.0,500.2L562.5,499.0L564.0,497.8L566.0,496.2L567.6,495.0L569.0,493.8L571.0,492.3L572.6,491.0L574.0,489.9L576.0,488.3L577.6,487.0L579.0,485.9L581.0,484.3L582.6,483.0L584.0,481.9L586.0,480.3L587.7,479.0L589.0,477.9L591.0,476.3L592.7,475.0L594.0,474.0L596.0,472.4L597.7,471.0L599.0,470.0L601.0,468.4L602.8,467.0L604.0,466.0L606.0,464.4L607.8,463.0L609.0,462.0L611.0,460.4L612.8,459.0L614.1,458.0L616.0,456.5L617.8,455.0L619.1,454.0L621.0,452.5L622.9,451.0L624.1,450.0L626.0,448.5L627.9,447.0L629.2,446.0L631.0,444.5L632.9,443.0L634.2,442.0L636.0,440.6L638.0,439.0L639.2,438.0L641.0,436.6L643.0,435.0L644.2,434.0L646.0,432.6L648.0,431.0L649.3,430.0L651.0,428.6L653.0,427.0L654.3,426.0L656.0,424.6L658.0,423.1L659.3,422.0L661.0,420.7L663.0,419.1L664.4,418.0L666.0,416.7L668.0,415.1L669.4,414.0L671.0,412.7L673.0,411.1L674.4,410.0L676.0,408.7L678.0,407.1L679.4,406.0L681.0,404.8L683.0,403.2L684.5,402.0L686.0,400.8L688.0,399.2L689.5,398.0L691.0,396.8L693.0,395.2L694.5,394.0L696.0,392.8L698.0,391.2L699.6,390.0L701.0,388.9L703.0,387.3L704.6,386.0L706.0,384.9L708.0,383.3L709.6,382.0L711.0,380.9L713.0,379.3L714.6,378.0L716.0,376.9L718.0,375.3L719.7,374.0L721.0,372.9L723.0,371.4L724.7,370.0L726.0,369.0L728.0,367.4L729.7,366.0L731.0,365.0L733.0,363.4L734.8,362.0L736.0,361.0L738.0,359.4L739.8,358.0L741.0,357.0L743.0,355.4L744.8,354.0L746.1,353.0L748.0,351.5L749.8,350.0L751.1,349.0L753.0,347.5L754.9,346.0L756.1,345.0L758.0,343.5L759.9,342.0L761.2,341.0L763.0,339.5L764.9,338.0L766.2,337.0L768.0,335.6L770.0,334.0L771.2,333.0L773.0,331.6L775.0,330.0L776.2,329.0L778.0,327.6L780.0,326.0L781.3,325.0L783.0,323.6L785.0,322.0L786.3,321.0L788.0,319.6L790.0,318.1L791.3,317.0L793.0,315.7L795.0,314.1L796.4,313.0L798.0,311.7" stroke-dasharray="101 3 152 4" stroke-dashoffset="43"/><path d="M558.6,519.0L560.0,517.9L562.0,516.3L563.6,515.0L565.0,513.9L567.0,512.3L568.6,511.0L570.0,509.9L572.0,508.3L573.7,507.0L575.0,505.9L577.0,504.4L578.7,503.0L580.0,502.0L582.0,500.4L583.7,499.0L585.0,498.0L587.0,496.4L588.8,495.0L590.0,494.0L592.0,492.4L593.8,491.0L595.0,490.0L597.0,488.4L598.8,487.0L600.1,486.0L602.0,484.5L603.8,483.0L605.1,482.0L607.0,480.5L608.9,479.0L610.1,478.0L612.0,476.5L613.9,475.0L615.2,474.0L617.0,472.5L618.9,471.0L620.2,470.0L622.0,468.6L624.0,467.0L625.2,466.0L627.0,464.6L629.0,463.0L630.2,462.0L632.0,460.6L634.0,459.0L635.3,458.0L637.0,456.6L639.0,455.0L640.3,454.0L642.0,452.6L644.0,451.1L645.3,450.0L647.0,448.7L649.0,447.1L650.4,446.0L652.0,444.7L654.0,443.1L655.4,442.0L657.0,440.7L659.0,439.1L660.4,438.0L662.0,436.7L664.0,435.1L665.4,434.0L667.0,432.8L669.0,431.2L670.5,430.0L672.0,428.8L674.0,427.2L675.5,426.0L677.0,424.8L679.0,423.2L680.5,422.0L682.0,420.8L684.0,419.2L685.6,418.0L687.0,416.9L689.0,415.3L690.6,414.0L692.0,412.9L694.0,411.3L695.6,410.0L697.0,408.9L699.0,407.3L700.6,406.0L702.0,404.9L704.0,403.3L705.7,402.0L707.0,400.9L709.0,399.4L710.7,398.0L712.0,397.0L714.0,395.4L715.7,394.0L717.0,393.0L719.0,391.4L720.8,390.0L722.0,389.0L724.0,387.4L725.8,386.0L727.0,385.0L729.0,383.4L730.8,382.0L732.1,381.0L734.0,379.5L735.8,378.0L737.1,377.0L739.0,375.5L740.9,374.0L742.1,373.0L744.0,371.5L745.9,370.0L747.2,369.0L749.0,367.5L750.9,366.0L752.2,365.0L754.0,363.6L756.0,362.0L757.2,361.0L759.0,359.6L761.0,358.0L762.2,357.0L764.0,355.6L766.0,354.0L767.3,353.0L769.0,351.6L771.0,350.0L772.3,349.0L774.0,347.6L776.0,346.1L777.3,345.0L779.0,343.7L781.0,342.1L782.4,341.0L784.0,339.7L786.0,338.1L787.4,337.0L789.0,335.7L791.0,334.1L792.4,333.0L794.0,331.7L796.0,330.2L797.4,329.0L799.0,327.8" stroke-dasharray="66 3 79 7" stroke-dashoffset="119"/><path d="M579.8,519.0L581.0,518.0L583.0,516.4L584.8,515.0L586.1,514.0L588.0,512.5L589.8,511.0L591.1,510.0L593.0,508.5L594.9,507.0L596.1,506.0L598.0,504.5L599.9,503.0L601.2,502.0L603.0,500.5L604.9,499.0L606.2,498.0L608.0,496.6L610.0,495.0L611.2,494.0L613.0,492.6L615.0,491.0L616.2,490.0L618.0,488.6L620.0,487.0L621.3,486.0L623.0,484.6L625.0,483.0L626.3,482.0L628.0,480.7L630.0,479.1L631.3,478.0L633.0,476.7L635.0,475.1L636.4,474.0L638.0,472.7L640.0,471.1L641.4,470.0L643.0,468.7L645.0,467.1L646.4,466.0L648.0,464.7L650.0,463.2L651.4,462.0L653.0,460.8L655.0,459.2L656.5,458.0L658.0,456.8L660.0,455.2L661.5,454.0L663.0,452.8L665.0,451.2L666.5,450.0L668.0,448.8L670.0,447.2L671.6,446.0L673.0,444.9L675.0,443.3L676.6,442.0L678.0,440.9L680.0,439.3L681.6,438.0L683.0,436.9L685.0,435.3L686.6,434.0L688.0,432.9L690.0,431.3L691.7,430.0L693.0,428.9L695.0,427.4L696.7,426.0L698.0,425.0L700.0,423.4L701.7,422.0L703.0,421.0L705.0,419.4L706.8,418.0L708.0,417.0L710.0,415.4L711.8,414.0L713.0,413.0L715.0,411.4L716.8,410.0L718.1,409.0L720.0,407.5L721.8,406.0L723.1,405.0L725.0,403.5L726.9,402.0L728.1,401.0L730.0,399.5L731.9,398.0L733.2,397.0L735.0,395.5L736.9,394.0L738.2,393.0L740.0,391.6L742.0,390.0L743.2,389.0L745.0,387.6L747.0,386.0L748.2,385.0L750.0,383.6L752.0,382.0L753.3,381.0L755.0,379.6L757.0,378.0L758.3,377.0L760.0,375.7L762.0,374.1L763.3,373.0L765.0,371.7L767.0,370.1L768.4,369.0L770.0,367.7L772.0,366.1L773.4,365.0L775.0,363.7L777.0,362.1L778.4,361.0L780.0,359.7L782.0,358.2L783.4,357.0L785.0,355.8L787.0,354.2L788.5,353.0L790.0,351.8L792.0,350.2L793.5,349.0L795.0,347.8L797.0,346.2L798.5,345.0" stroke-dasharray="133 4 138 7" stroke-dashoffset="121"/><path d="M601.0,519.0L602.2,518.0L604.0,516.6L606.0,515.0L607.3,514.0L609.0,512.6L611.0,511.0L612.3,510.0L614.0,508.7L616.0,507.1L617.3,506.0L619.0,504.7L621.0,503.1L622.4,502.0L624.0,500.7L626.0,499.1L627.4,498.0L629.0,496.7L631.0,495.1L632.4,494.0L634.0,492.7L636.0,491.2L637.5,490.0L639.0,488.8L641.0,487.2L642.5,486.0L644.0,484.8L646.0,483.2L647.5,482.0L649.0,480.8L651.0,479.2L652.5,478.0L654.0,476.8L656.0,475.2L657.6,474.0L659.0,472.9L661.0,471.3L662.6,470.0L664.0,468.9L666.0,467.3L667.6,466.0L669.0,464.9L671.0,463.3L672.7,462.0L674.0,460.9L676.0,459.3L677.7,458.0L679.0,456.9L681.0,455.4L682.7,454.0L684.0,453.0L686.0,451.4L687.7,450.0L689.0,449.0L691.0,447.4L692.8,446.0L694.0,445.0L696.0,443.4L697.8,442.0L699.1,441.0L701.0,439.5L702.8,438.0L704.1,437.0L706.0,435.5L707.9,434.0L709.1,433.0L711.0,431.5L712.9,430.0L714.1,429.0L716.0,427.5L717.9,426.0L719.2,425.0L721.0,423.5L722.9,422.0L724.2,421.0L726.0,419.6L728.0,418.0L729.2,417.0L731.0,415.6L733.0,414.0L734.3,413.0L736.0,411.6L738.0,410.0L739.3,409.0L741.0,407.6L743.0,406.0L744.3,405.0L746.0,403.7L748.0,402.1L749.3,401.0L751.0,399.7L753.0,398.1L754.4,397.0L756.0,395.7L758.0,394.1L759.4,393.0L761.0,391.7L763.0,390.1L764.4,389.0L766.0,387.7L768.0,386.2L769.5,385.0L771.0,383.8L773.0,382.2L774.5,381.0L776.0,379.8L778.0,378.2L779.5,377.0L781.0,375.8L783.0,374.2L784.5,373.0L786.0,371.8L788.0,370.2L789.6,369.0L791.0,367.9L793.0,366.3L794.6,365.0L796.0,363.9L798.0,362.3" stroke-dasharray="134 5 79 7" stroke-dashoffset="140"/><path d="M622.2,519.0L624.0,517.6L626.0,516.0L627.2,515.0L629.0,513.6L631.0,512.0L632.3,511.0L634.0,509.6L636.0,508.0L637.3,507.0L639.0,505.6L641.0,504.0L642.3,503.0L644.0,501.7L646.0,500.1L647.3,499.0L649.0,497.7L651.0,496.1L652.4,495.0L654.0,493.7L656.0,492.1L657.4,491.0L659.0,489.7L661.0,488.1L662.4,487.0L664.0,485.7L666.0,484.2L667.5,483.0L669.0,481.8L671.0,480.2L672.5,479.0L674.0,477.8L676.0,476.2L677.5,475.0L679.0,473.8L681.0,472.2L682.5,471.0L684.0,469.8L686.0,468.2L687.6,467.0L689.0,465.9L691.0,464.3L692.6,463.0L694.0,461.9L696.0,460.3L697.6,459.0L699.0,457.9L701.0,456.3L702.7,455.0L704.0,453.9L706.0,452.3L707.7,451.0L709.0,450.0L711.0,448.4L712.7,447.0L714.0,446.0L716.0,444.4L717.7,443.0L719.0,442.0L721.0,440.4L722.8,439.0L724.0,438.0L726.0,436.4L727.8,435.0L729.1,434.0L731.0,432.5L732.8,431.0L734.1,430.0L736.0,428.5L737.9,427.0L739.1,426.0L741.0,424.5L742.9,423.0L744.1,422.0L746.0,420.5L747.9,419.0L749.2,418.0L751.0,416.5L752.9,415.0L754.2,414.0L756.0,412.6L758.0,411.0L759.2,410.0L761.0,408.6L763.0,407.0L764.3,406.0L766.0,404.6L768.0,403.0L769.3,402.0L771.0,400.6L773.0,399.0L774.3,398.0L776.0,396.7L778.0,395.1L779.3,394.0L781.0,392.7L783.0,391.1L784.4,390.0L786.0,388.7L788.0,387.1L789.4,386.0L791.0,384.7L793.0,383.1L794.4,382.0L796.0,380.8L798.0,379.2" stroke-dasharray="66 3 61 3" stroke-dashoffset="134"/><path d="M643.4,519.0L645.0,517.7L647.0,516.1L648.4,515.0L650.0,513.8L652.0,512.2L653.5,511.0L655.0,509.8L657.0,508.2L658.5,507.0L660.0,505.8L662.0,504.2L663.5,503.0L665.0,501.8L667.0,500.2L668.5,499.0L670.0,497.8L672.0,496.3L673.6,495.0L675.0,493.9L677.0,492.3L678.6,491.0L680.0,489.9L682.0,488.3L683.6,487.0L685.0,485.9L687.0,484.3L688.7,483.0L690.0,481.9L692.0,480.3L693.7,479.0L695.0,478.0L697.0,476.4L698.7,475.0L700.0,474.0L702.0,472.4L703.7,471.0L705.0,470.0L707.0,468.4L708.8,467.0L710.0,466.0L712.0,464.4L713.8,463.0L715.1,462.0L717.0,460.5L718.8,459.0L720.1,458.0L722.0,456.5L723.9,455.0L725.1,454.0L727.0,452.5L728.9,451.0L730.1,450.0L732.0,448.5L733.9,447.0L735.2,446.0L737.0,444.5L738.9,443.0L740.2,442.0L742.0,440.6L744.0,439.0L745.2,438.0L747.0,436.6L749.0,435.0L750.3,434.0L752.0,432.6L754.0,431.0L755.3,430.0L757.0,428.6L759.0,427.0L760.3,426.0L762.0,424.7L764.0,423.1L765.3,422.0L767.0,420.7L769.0,419.1L770.4,418.0L772.0,416.7L774.0,415.1L775.4,414.0L777.0,412.7L779.0,411.1L780.4,410.0L782.0,408.8L784.0,407.2L785.5,406.0L787.0,404.8L789.0,403.2L790.5,402.0L792.0,400.8L794.0,399.2L795.5,398.0L797.0,396.8L799.0,395.2" stroke-dasharray="67 6 84 4" stroke-dashoffset="7"/><path d="M664.6,519.0L666.0,517.9L668.0,516.3L669.6,515.0L671.0,513.9L673.0,512.3L674.7,511.0L676.0,509.9L678.0,508.3L679.7,507.0L681.0,506.0L683.0,504.4L684.7,503.0L686.0,502.0L688.0,500.4L689.7,499.0L691.0,498.0L693.0,496.4L694.8,495.0L696.0,494.0L698.0,492.4L699.8,491.0L701.1,490.0L703.0,488.5L704.8,487.0L706.1,486.0L708.0,484.5L709.9,483.0L711.1,482.0L713.0,480.5L714.9,479.0L716.1,478.0L718.0,476.5L719.9,475.0L721.2,474.0L723.0,472.6L724.9,471.0L726.2,470.0L728.0,468.6L730.0,467.0L731.2,466.0L733.0,464.6L735.0,463.0L736.3,462.0L738.0,460.6L740.0,459.0L741.3,458.0L743.0,456.6L745.0,455.1L746.3,454.0L748.0,452.7L750.0,451.1L751.3,450.0L753.0,448.7L755.0,447.1L756.4,446.0L758.0,444.7L760.0,443.1L761.4,442.0L763.0,440.7L765.0,439.1L766.4,438.0L768.0,436.8L770.0,435.2L771.5,434.0L773.0,432.8L775.0,431.2L776.5,430.0L778.0,428.8L780.0,427.2L781.5,426.0L783.0,424.8L785.0,423.2L786.6,422.0L788.0,420.8L790.0,419.3L791.6,418.0L793.0,416.9L795.0,415.3L796.6,414.0L798.0,412.9" stroke-dasharray="82 4 97 7" stroke-dashoffset="61"/><path d="M685.8,519.0L687.1,518.0L689.0,516.5L690.8,515.0L692.1,514.0L694.0,512.5L695.9,511.0L697.1,510.0L699.0,508.5L700.9,507.0L702.2,506.0L704.0,504.5L705.9,503.0L707.2,502.0L709.0,500.6L711.0,499.0L712.2,498.0L714.0,496.6L716.0,495.0L717.2,494.0L719.0,492.6L721.0,491.0L722.3,490.0L724.0,488.6L726.0,487.0L727.3,486.0L729.0,484.6L731.0,483.1L732.3,482.0L734.0,480.7L736.0,479.1L737.4,478.0L739.0,476.7L741.0,475.1L742.4,474.0L744.0,472.7L746.0,471.1L747.4,470.0L749.0,468.7L751.0,467.1L752.4,466.0L754.0,464.8L756.0,463.2L757.5,462.0L759.0,460.8L761.0,459.2L762.5,458.0L764.0,456.8L766.0,455.2L767.5,454.0L769.0,452.8L771.0,451.2L772.6,450.0L774.0,448.9L776.0,447.3L777.6,446.0L779.0,444.9L781.0,443.3L782.6,442.0L784.0,440.9L786.0,439.3L787.6,438.0L789.0,436.9L791.0,435.3L792.7,434.0L794.0,432.9L796.0,431.4L797.7,430.0L799.0,429.0" stroke-dasharray="125 5 93 7" stroke-dashoffset="107"/><path d="M707.0,519.0L709.0,517.4L710.8,516.0L712.0,515.0L714.0,513.4L715.8,512.0L717.1,511.0L719.0,509.5L720.8,508.0L722.1,507.0L724.0,505.5L725.9,504.0L727.1,503.0L729.0,501.5L730.9,500.0L732.2,499.0L734.0,497.5L735.9,496.0L737.2,495.0L739.0,493.6L741.0,492.0L742.2,491.0L744.0,489.6L746.0,488.0L747.2,487.0L749.0,485.6L751.0,484.0L752.3,483.0L754.0,481.6L756.0,480.0L757.3,479.0L759.0,477.6L761.0,476.1L762.3,475.0L764.0,473.7L766.0,472.1L767.4,471.0L769.0,469.7L771.0,468.1L772.4,467.0L774.0,465.7L776.0,464.1L777.4,463.0L779.0,461.7L781.0,460.1L782.4,459.0L784.0,457.8L786.0,456.2L787.5,455.0L789.0,453.8L791.0,452.2L792.5,451.0L794.0,449.8L796.0,448.2L797.5,447.0L799.0,445.8" stroke-dasharray="66 3 154 5" stroke-dashoffset="117"/><path d="M728.2,519.0L730.0,517.6L732.0,516.0L733.2,515.0L735.0,513.6L737.0,512.0L738.3,511.0L740.0,509.6L742.0,508.0L743.3,507.0L745.0,505.7L747.0,504.1L748.3,503.0L750.0,501.7L752.0,500.1L753.4,499.0L755.0,497.7L757.0,496.1L758.4,495.0L760.0,493.7L762.0,492.1L763.4,491.0L765.0,489.7L767.0,488.2L768.4,487.0L770.0,485.8L772.0,484.2L773.5,483.0L775.0,481.8L777.0,480.2L778.5,479.0L780.0,477.8L782.0,476.2L783.5,475.0L785.0,473.8L787.0,472.2L788.6,471.0L790.0,469.9L792.0,468.3L793.6,467.0L795.0,465.9L797.0,464.3L798.6,463.0" stroke-dasharray="134 6 124 4" stroke-dashoffset="136"/><path d="M749.4,519.0L751.0,517.7L753.0,516.2L754.5,515.0L756.0,513.8L758.0,512.2L759.5,511.0L761.0,509.8L763.0,508.2L764.5,507.0L766.0,505.8L768.0,504.2L769.5,503.0L771.0,501.8L773.0,500.2L774.6,499.0L776.0,497.9L778.0,496.3L779.6,495.0L781.0,493.9L783.0,492.3L784.6,491.0L786.0,489.9L788.0,488.3L789.7,487.0L791.0,485.9L793.0,484.3L794.7,483.0L796.0,482.0L798.0,480.4" stroke-dasharray="69 3 116 4" stroke-dashoffset="1"/><path d="M770.6,519.0L772.0,517.9L774.0,516.3L775.7,515.0L777.0,513.9L779.0,512.3L780.7,511.0L782.0,510.0L784.0,508.4L785.7,507.0L787.0,506.0L789.0,504.4L790.7,503.0L792.0,502.0L794.0,500.4L795.8,499.0L797.0,498.0L799.0,496.4" stroke-dasharray="69 4 78 6" stroke-dashoffset="30"/><path d="M791.8,519.0L793.1,518.0L795.0,516.5L796.9,515.0L798.1,514.0" stroke-dasharray="121 3 101 7" stroke-dashoffset="135"/></g><ellipse cx="503" cy="163.5" rx="4.5" ry="25" fill="#fff" stroke="#141414" stroke-width="2.0" transform="rotate(49 503 163.5)"/><path d="M8.5,459 L104,384" fill="none" stroke="#141414" stroke-width="2.4" stroke-linecap="round" stroke-linejoin="round" /><path d="M181,330 L379,187" fill="none" stroke="#141414" stroke-width="2.0" stroke-linecap="round" stroke-linejoin="round" /><path d="M436,135 L660,135" fill="none" stroke="#141414" stroke-width="2.2" stroke-linecap="round" stroke-linejoin="round" /><path d="M281,457 L386,373 L472,295 L500,271 L623,177" fill="none" stroke="#141414" stroke-width="2.2" stroke-linecap="round" stroke-linejoin="round" /><polygon points="281.0,457.0 386.0,373.0 472.0,295.0 500.0,271.0 630.0,172.0 634.0,206.0 517.0,298.0 471.0,331.0 387.0,403.0 281.0,490.0" fill="#fff" stroke="none" stroke-width="0" stroke-linejoin="round" /><g clip-path="url(#c2)"><path d="M709.1,88.4L709.1,573.6M702.3,88.4L702.3,573.6M695.5,88.4L695.5,573.6M688.7,88.4L688.7,573.6M681.9,88.4L681.9,573.6M675.1,88.4L675.1,573.6M668.3,88.4L668.3,573.6M661.5,88.4L661.5,573.6M654.7,88.4L654.7,573.6M647.9,88.4L647.9,573.6M641.1,88.4L641.1,573.6M634.3,88.4L634.3,573.6M627.5,88.4L627.5,573.6M620.7,88.4L620.7,573.6M613.9,88.4L613.9,573.6M607.1,88.4L607.1,573.6M600.3,88.4L600.3,573.6M593.5,88.4L593.5,573.6M586.7,88.4L586.7,573.6M579.9,88.4L579.9,573.6M573.1,88.4L573.1,573.6M566.3,88.4L566.3,573.6M559.5,88.4L559.5,573.6M552.7,88.4L552.7,573.6M545.9,88.4L545.9,573.6M539.1,88.4L539.1,573.6M532.3,88.4L532.3,573.6M525.5,88.4L525.5,573.6M518.7,88.4L518.7,573.6M511.9,88.4L511.9,573.6M505.1,88.4L505.1,573.6M498.3,88.4L498.3,573.6M491.5,88.4L491.5,573.6M484.7,88.4L484.7,573.6M477.9,88.4L477.9,573.6M471.1,88.4L471.1,573.6M464.3,88.4L464.3,573.6M457.5,88.4L457.5,573.6M450.7,88.4L450.7,573.6M443.9,88.4L443.9,573.6M437.1,88.4L437.1,573.6M430.3,88.4L430.3,573.6M423.5,88.4L423.5,573.6M416.7,88.4L416.7,573.6M409.9,88.4L409.9,573.6M403.1,88.4L403.1,573.6M396.3,88.4L396.3,573.6M389.5,88.4L389.5,573.6M382.7,88.4L382.7,573.6M375.9,88.4L375.9,573.6M369.1,88.4L369.1,573.6M362.3,88.4L362.3,573.6M355.5,88.4L355.5,573.6M348.7,88.4L348.7,573.6M341.9,88.4L341.9,573.6M335.1,88.4L335.1,573.6M328.3,88.4L328.3,573.6M321.5,88.4L321.5,573.6M314.7,88.4L314.7,573.6M307.9,88.4L307.9,573.6M301.1,88.4L301.1,573.6M294.3,88.4L294.3,573.6M287.5,88.4L287.5,573.6M280.7,88.4L280.7,573.6M273.9,88.4L273.9,573.6M267.1,88.4L267.1,573.6M260.3,88.4L260.3,573.6M253.5,88.4L253.5,573.6M246.7,88.4L246.7,573.6M239.9,88.4L239.9,573.6M233.1,88.4L233.1,573.6M226.3,88.4L226.3,573.6M219.5,88.4L219.5,573.6M212.7,88.4L212.7,573.6M205.9,88.4L205.9,573.6" stroke="#141414" stroke-width="3.2" fill="none"/></g><polygon points="469.0,298.0 486.0,285.0 486.0,320.0 469.0,334.0" fill="#141414" stroke="none" stroke-width="0" stroke-linejoin="round" /><path d="M281,490 L387,403 L471,331 L517,298 L634,206" fill="none" stroke="#141414" stroke-width="3.2" stroke-linecap="round" stroke-linejoin="round" /><polygon points="8.5,459.0 281.0,457.0 281.0,489.0 8.5,494.0" fill="#fff" stroke="none" stroke-width="0" stroke-linejoin="round" /><g clip-path="url(#c3)"><path d="M298.5,333.0L298.5,618.0M290.4,333.0L290.4,618.0M282.1,333.0L282.1,618.0M273.9,333.0L273.9,618.0M265.8,333.0L265.8,618.0M257.5,333.0L257.5,618.0M249.3,333.0L249.3,618.0M241.1,333.0L241.1,618.0M232.9,333.0L232.9,618.0M224.8,333.0L224.8,618.0M216.6,333.0L216.6,618.0M208.3,333.0L208.3,618.0M200.1,333.0L200.1,618.0M191.9,333.0L191.9,618.0M183.8,333.0L183.8,618.0M175.6,333.0L175.6,618.0M167.3,333.0L167.3,618.0M159.2,333.0L159.2,618.0M150.9,333.0L150.9,618.0M142.8,333.0L142.8,618.0M134.6,333.0L134.6,618.0M126.3,333.0L126.4,618.0M118.1,333.0L118.2,618.0M109.9,333.0L110.0,618.0M101.7,333.0L101.8,618.0M93.5,333.0L93.6,618.0M85.3,333.0L85.4,618.0M77.1,333.0L77.2,618.0M68.9,333.0L69.0,618.0M60.7,333.0L60.8,618.0M52.6,333.0L52.6,618.0M44.4,333.0L44.4,618.0M36.1,333.0L36.2,618.0M28.0,333.0L28.0,618.0M19.8,333.0L19.8,618.0M11.6,333.0L11.6,618.0M3.4,333.0L3.4,618.0M-4.9,333.0L-4.8,618.0M-13.0,333.0L-13.0,618.0" stroke="#141414" stroke-width="2.5" fill="none"/></g><path d="M8.5,459 L281,457 L281,490 L8.5,494 Z" fill="none" stroke="#141414" stroke-width="2.6" stroke-linecap="round" stroke-linejoin="round" /><line x1="8.5" y1="494.0" x2="281.0" y2="490.0" stroke="#141414" stroke-width="3.4" stroke-linecap="round"/><polygon points="637.0,52.0 688.0,15.0 690.5,165.0 640.0,203.0" fill="#fff" stroke="none" stroke-width="0" stroke-linejoin="round" /><g clip-path="url(#c4)"><path d="M516.5,77.8L684.8,-40.0M519.4,81.9L687.7,-35.9M522.2,86.0L690.5,-31.8M525.1,90.1L693.4,-27.7M528.0,94.2L696.3,-23.6M530.8,98.3L699.1,-19.6M533.7,102.4L702.0,-15.5M536.6,106.5L704.9,-11.4M539.4,110.6L707.8,-7.3M542.3,114.7L710.6,-3.2M545.2,118.8L713.5,0.9M548.1,122.9L716.4,5.0M550.9,127.0L719.2,9.1M553.8,131.1L722.1,13.2M556.7,135.2L725.0,17.3M559.5,139.3L727.8,21.4M562.4,143.4L730.7,25.5M565.3,147.4L733.6,29.6M568.1,151.5L736.4,33.7M571.0,155.6L739.3,37.8M573.9,159.7L742.2,41.9M576.7,163.8L745.0,46.0M579.6,167.9L747.9,50.1M582.5,172.0L750.8,54.2M585.3,176.1L753.6,58.3M588.2,180.2L756.5,62.4M591.1,184.3L759.4,66.5M593.9,188.4L762.2,70.6M596.8,192.5L765.1,74.6M599.7,196.6L768.0,78.7M602.5,200.7L770.8,82.8M605.4,204.8L773.7,86.9M608.3,208.9L776.6,91.0M611.1,213.0L779.4,95.1M614.0,217.1L782.3,99.2M616.9,221.2L785.2,103.3M619.7,225.3L788.1,107.4M622.6,229.4L790.9,111.5M625.5,233.5L793.8,115.6M628.4,237.6L796.7,119.7M631.2,241.6L799.5,123.8M634.1,245.7L802.4,127.9M637.0,249.8L805.3,132.0M639.8,253.9L808.1,136.1M642.7,258.0L811.0,140.2" stroke="#141414" stroke-width="2.3" fill="none"/></g><g clip-path="url(#c5)"><path d="M773.5,-1.7L773.6,2.3L773.6,6.3L773.6,10.2L773.8,14.2L773.9,18.1L774.2,22.1L774.5,26.0L774.9,29.9L775.3,33.9L775.8,37.8L776.3,41.7L776.8,45.6L777.3,49.6L777.8,53.5L778.2,57.4L778.5,61.4L778.8,65.3L778.9,69.3L779.0,73.2L779.1,77.2L779.1,81.1L779.2,85.1L779.2,89.0L779.3,93.0L779.5,96.9L779.7,100.9L780.0,104.8L780.3,108.8L780.8,112.7L781.3,116.6L781.8,120.6L782.3,124.5L782.8,128.4L783.3,132.3L783.7,136.3L784.0,140.2L784.3,144.1L784.5,148.1L784.6,152.0L784.7,156.0L784.7,160.0L784.7,163.9L784.8,167.9L784.9,171.8L785.0,175.8L785.2,179.7L785.5,183.7L785.8,187.6L786.2,191.5L786.7,195.5L787.2,199.4L787.7,203.3M763.5,-1.0L763.9,3.0L764.3,6.9L764.7,10.8L765.2,14.8L765.7,18.7L766.3,22.6L766.7,26.5L767.2,30.5L767.6,34.4L767.9,38.3L768.1,42.3L768.3,46.2L768.4,50.2L768.4,54.2L768.5,58.1L768.5,62.1L768.5,66.0L768.6,70.0L768.8,73.9L769.0,77.9L769.3,81.8L769.7,85.7L770.2,89.7L770.7,93.6L771.2,97.5L771.7,101.5L772.2,105.4L772.7,109.3L773.1,113.2L773.4,117.2L773.6,121.1L773.8,125.1L773.9,129.0L774.0,133.0L774.0,136.9L774.1,140.9L774.1,144.9L774.2,148.8L774.3,152.8L774.6,156.7L774.8,160.6L775.2,164.6L775.6,168.5L776.1,172.4L776.6,176.4L777.2,180.3L777.7,184.2L778.1,188.1L778.5,192.1L778.9,196.0L779.2,200.0L779.4,203.9M754.9,-0.4L755.0,3.6L755.2,7.5L755.4,11.5L755.7,15.4L756.0,19.4L756.5,23.3L756.9,27.2L757.5,31.2L758.0,35.1L758.5,39.0L759.0,42.9L759.4,46.9L759.7,50.8L760.0,54.7L760.2,58.7L760.3,62.6L760.4,66.6L760.4,70.6L760.5,74.5L760.5,78.5L760.6,82.4L760.7,86.4L760.9,90.3L761.2,94.3L761.5,98.2L761.9,102.1L762.4,106.1L762.9,110.0L763.4,113.9L763.9,117.8L764.4,121.8L764.9,125.7L765.2,129.6L765.5,133.6L765.7,137.5L765.9,141.5L766.0,145.4L766.0,149.4L766.0,153.3L766.1,157.3L766.1,161.3L766.2,165.2L766.4,169.2L766.7,173.1L767.0,177.0L767.4,181.0L767.9,184.9L768.4,188.8L768.9,192.7L769.4,196.7L769.9,200.6L770.3,204.5M745.6,0.3L746.1,4.2L746.5,8.2L747.0,12.1L747.6,16.0L748.1,19.9L748.6,23.9L749.0,27.8L749.3,31.7L749.6,35.7L749.9,39.6L750.0,43.6L750.1,47.5L750.1,51.5L750.2,55.4L750.2,59.4L750.3,63.3L750.4,67.3L750.6,71.2L750.8,75.2L751.1,79.1L751.5,83.1L752.0,87.0L752.5,90.9L753.0,94.8L753.5,98.8L754.0,102.7L754.5,106.6L754.8,110.6L755.2,114.5L755.4,118.4L755.6,122.4L755.7,126.3L755.7,130.3L755.7,134.3L755.8,138.2L755.8,142.2L755.9,146.1L756.1,150.1L756.3,154.0L756.6,158.0L757.0,161.9L757.4,165.8L757.9,169.7L758.5,173.7L759.0,177.6L759.5,181.5L759.9,185.5L760.3,189.4L760.7,193.3L760.9,197.3L761.1,201.2L761.2,205.2M736.7,0.9L737.2,4.8L737.6,8.8L738.2,12.7L738.7,16.6L739.2,20.5L739.6,24.5L740.1,28.4L740.4,32.3L740.6,36.3L740.8,40.2L740.9,44.2L741.0,48.1L741.1,52.1L741.1,56.1L741.1,60.0L741.2,64.0L741.3,67.9L741.6,71.9L741.8,75.8L742.2,79.7L742.6,83.7L743.1,87.6L743.6,91.5L744.1,95.5L744.6,99.4L745.1,103.3L745.5,107.2L745.9,111.2L746.2,115.1L746.4,119.1L746.5,123.0L746.6,127.0L746.6,130.9L746.7,134.9L746.7,138.8L746.8,142.8L746.9,146.8L747.1,150.7L747.3,154.6L747.7,158.6L748.1,162.5L748.6,166.4L749.1,170.4L749.6,174.3L750.1,178.2L750.6,182.1L751.0,186.1L751.4,190.0L751.7,194.0L751.9,197.9L752.1,201.8L752.2,205.8M729.2,1.4L729.4,5.4L729.5,9.3L729.6,13.3L729.6,17.3L729.6,21.2L729.7,25.2L729.8,29.1L729.9,33.1L730.1,37.0L730.4,41.0L730.7,44.9L731.1,48.8L731.6,52.8L732.1,56.7L732.7,60.6L733.2,64.5L733.6,68.5L734.1,72.4L734.4,76.3L734.7,80.3L734.9,84.2L735.1,88.2L735.1,92.1L735.2,96.1L735.2,100.0L735.3,104.0L735.3,108.0L735.4,111.9L735.6,115.9L735.9,119.8L736.2,123.7L736.6,127.7L737.1,131.6L737.6,135.5L738.1,139.4L738.6,143.4L739.1,147.3L739.6,151.2L739.9,155.2L740.2,159.1L740.5,163.0L740.6,167.0L740.7,171.0L740.8,174.9L740.8,178.9L740.8,182.8L740.9,186.8L741.0,190.7L741.2,194.7L741.4,198.6L741.7,202.6L742.1,206.5M720.2,2.1L720.5,6.0L720.7,10.0L720.8,13.9L720.9,17.9L720.9,21.8L721.0,25.8L721.0,29.7L721.1,33.7L721.2,37.6L721.4,41.6L721.7,45.5L722.0,49.5L722.4,53.4L722.9,57.3L723.4,61.3L723.9,65.2L724.5,69.1L724.9,73.0L725.4,77.0L725.7,80.9L726.0,84.8L726.2,88.8L726.4,92.7L726.5,96.7L726.5,100.7L726.5,104.6L726.6,108.6L726.6,112.5L726.7,116.5L726.9,120.4L727.2,124.4L727.5,128.3L727.9,132.2L728.4,136.2L728.9,140.1L729.4,144.0L729.9,147.9L730.4,151.9L730.8,155.8L731.2,159.7L731.5,163.7L731.8,167.6L731.9,171.6L732.0,175.5L732.1,179.5L732.1,183.4L732.1,187.4L732.2,191.4L732.3,195.3L732.5,199.3L732.7,203.2L733.0,207.1M710.7,2.7L711.2,6.7L711.7,10.6L712.0,14.5L712.4,18.5L712.6,22.4L712.8,26.4L712.9,30.3L712.9,34.3L712.9,38.2L713.0,42.2L713.0,46.1L713.1,50.1L713.3,54.0L713.5,58.0L713.8,61.9L714.2,65.9L714.6,69.8L715.1,73.7L715.6,77.6L716.2,81.6L716.7,85.5L717.1,89.4L717.5,93.4L717.9,97.3L718.1,101.2L718.3,105.2L718.4,109.1L718.5,113.1L718.5,117.1L718.5,121.0L718.6,125.0L718.7,128.9L718.8,132.9L719.0,136.8L719.3,140.8L719.7,144.7L720.1,148.6L720.6,152.6L721.1,156.5L721.6,160.4L722.1,164.3L722.6,168.3L723.0,172.2L723.4,176.1L723.6,180.1L723.8,184.0L724.0,188.0L724.1,191.9L724.1,195.9L724.1,199.8L724.2,203.8L724.2,207.8M701.6,3.4L701.6,7.3L701.7,11.3L701.7,15.2L701.9,19.2L702.1,23.1L702.3,27.1L702.7,31.0L703.1,35.0L703.6,38.9L704.1,42.8L704.6,46.7L705.1,50.7L705.6,54.6L706.0,58.5L706.4,62.4L706.7,66.4L706.9,70.3L707.0,74.3L707.1,78.2L707.2,82.2L707.2,86.2L707.2,90.1L707.3,94.1L707.4,98.0L707.6,102.0L707.8,105.9L708.2,109.9L708.6,113.8L709.0,117.7L709.5,121.6L710.0,125.6L710.6,129.5L711.1,133.4L711.5,137.3L711.9,141.3L712.2,145.2L712.4,149.2L712.6,153.1L712.7,157.1L712.7,161.0L712.8,165.0L712.8,168.9L712.9,172.9L713.0,176.9L713.1,180.8L713.4,184.7L713.7,188.7L714.0,192.6L714.5,196.6L715.0,200.5L715.5,204.4L716.0,208.3M692.7,4.0L692.8,7.9L692.8,11.9L692.9,15.9L693.0,19.8L693.1,23.8L693.4,27.7L693.7,31.7L694.0,35.6L694.5,39.5L695.0,43.4L695.5,47.4L696.0,51.3L696.5,55.2L697.0,59.1L697.4,63.1L697.7,67.0L698.0,71.0L698.1,74.9L698.2,78.9L698.3,82.8L698.3,86.8L698.4,90.7L698.4,94.7L698.5,98.6L698.7,102.6L698.9,106.5L699.2,110.5L699.5,114.4L700.0,118.4L700.4,122.3L700.9,126.2L701.5,130.1L702.0,134.1L702.4,138.0L702.9,141.9L703.2,145.8L703.5,149.8L703.7,153.7L703.8,157.7L703.9,161.6L703.9,165.6L704.0,169.6L704.0,173.5L704.1,177.5L704.2,181.4L704.4,185.4L704.7,189.3L705.0,193.3L705.4,197.2L705.9,201.1L706.4,205.0L706.9,209.0M684.3,4.6L684.6,8.5L684.8,12.5L685.0,16.4L685.1,20.4L685.1,24.3L685.1,28.3L685.2,32.2L685.2,36.2L685.3,40.2L685.5,44.1L685.8,48.0L686.1,52.0L686.5,55.9L686.9,59.8L687.4,63.8L687.9,67.7L688.5,71.6L688.9,75.6L689.4,79.5L689.8,83.4L690.1,87.4L690.3,91.3L690.5,95.2L690.6,99.2L690.7,103.2L690.7,107.1L690.7,111.1L690.8,115.0L690.9,119.0L691.0,122.9L691.3,126.9L691.6,130.8L691.9,134.8L692.4,138.7L692.9,142.6L693.4,146.5L693.9,150.5L694.4,154.4L694.9,158.3L695.3,162.2L695.6,166.2L695.9,170.1L696.1,174.1L696.2,178.0L696.2,182.0L696.3,185.9L696.3,189.9L696.4,193.9L696.4,197.8L696.6,201.8L696.8,205.7L697.1,209.7M673.8,5.3L674.0,9.3L674.3,13.2L674.7,17.1L675.1,21.1L675.6,25.0L676.1,28.9L676.6,32.8L677.1,36.8L677.6,40.7L678.0,44.6L678.4,48.6L678.6,52.5L678.8,56.5L679.0,60.4L679.0,64.4L679.1,68.3L679.1,72.3L679.1,76.2L679.2,80.2L679.3,84.1L679.5,88.1L679.8,92.0L680.2,96.0L680.6,99.9L681.0,103.8L681.6,107.8L682.1,111.7L682.6,115.6L683.1,119.5L683.5,123.5L683.9,127.4L684.2,131.3L684.4,135.3L684.5,139.2L684.6,143.2L684.6,147.1L684.7,151.1L684.7,155.1L684.8,159.0L684.9,163.0L685.1,166.9L685.3,170.9L685.6,174.8L686.0,178.7L686.5,182.7L687.0,186.6L687.5,190.5L688.0,194.4L688.5,198.4L689.0,202.3L689.4,206.2L689.7,210.2M665.8,5.9L666.3,9.8L666.8,13.7L667.1,17.7L667.5,21.6L667.7,25.5L667.9,29.5L668.0,33.4L668.0,37.4L668.1,41.4L668.1,45.3L668.1,49.3L668.2,53.2L668.4,57.2L668.6,61.1L668.9,65.1L669.3,69.0L669.7,72.9L670.2,76.9L670.8,80.8L671.3,84.7L671.8,88.6L672.2,92.6L672.6,96.5L673.0,100.4L673.2,104.4L673.4,108.3L673.5,112.3L673.6,116.2L673.6,120.2L673.7,124.2L673.7,128.1L673.8,132.1L673.9,136.0L674.1,140.0L674.4,143.9L674.8,147.8L675.2,151.8L675.7,155.7L676.2,159.6L676.7,163.5L677.2,167.5L677.7,171.4L678.1,175.3L678.5,179.3L678.8,183.2L679.0,187.2L679.1,191.1L679.2,195.1L679.2,199.0L679.2,203.0L679.3,206.9L679.3,210.9M655.8,6.6L656.1,10.5L656.4,14.5L656.7,18.4L657.2,22.3L657.7,26.2L658.2,30.2L658.7,34.1L659.2,38.0L659.7,42.0L660.1,45.9L660.4,49.8L660.7,53.8L660.9,57.7L661.0,61.7L661.0,65.6L661.1,69.6L661.1,73.5L661.2,77.5L661.2,81.4L661.4,85.4L661.6,89.3L661.9,93.3L662.2,97.2L662.6,101.2L663.1,105.1L663.6,109.0L664.2,112.9L664.7,116.9L665.1,120.8L665.6,124.7L665.9,128.7L666.2,132.6L666.4,136.5L666.5,140.5L666.6,144.4L666.7,148.4L666.7,152.4L666.7,156.3L666.8,160.3L666.9,164.2L667.1,168.2L667.4,172.1L667.7,176.1L668.1,180.0L668.6,183.9L669.1,187.8L669.6,191.8L670.1,195.7L670.6,199.6L671.0,203.6L671.4,207.5L671.7,211.4M647.0,7.2L647.4,11.1L647.9,15.0L648.4,19.0L649.0,22.9L649.5,26.8L649.9,30.8L650.3,34.7L650.6,38.6L650.8,42.6L651.0,46.5L651.1,50.5L651.2,54.4L651.2,58.4L651.2,62.3L651.3,66.3L651.4,70.3L651.5,74.2L651.8,78.2L652.1,82.1L652.5,86.0L652.9,90.0L653.4,93.9L653.9,97.8L654.4,101.7L654.9,105.7L655.4,109.6L655.8,113.5L656.1,117.5L656.4,121.4L656.6,125.3L656.7,129.3L656.7,133.3L656.8,137.2L656.8,141.2L656.9,145.1L656.9,149.1L657.1,153.0L657.3,157.0L657.6,160.9L657.9,164.9L658.4,168.8L658.8,172.7L659.3,176.6L659.9,180.6L660.4,184.5L660.9,188.4L661.3,192.4L661.6,196.3L661.9,200.2L662.1,204.2L662.2,208.1L662.3,212.1M639.2,7.7L639.3,11.7L639.3,15.6L639.4,19.6L639.4,23.6L639.5,27.5L639.6,31.5L639.8,35.4L640.0,39.4L640.4,43.3L640.8,47.2L641.2,51.2L641.7,55.1L642.3,59.0L642.8,62.9L643.3,66.9L643.7,70.8L644.1,74.7L644.4,78.7L644.6,82.6L644.8,86.6L644.9,90.5L644.9,94.5L645.0,98.4L645.0,102.4L645.0,106.3L645.1,110.3L645.3,114.3L645.5,118.2L645.9,122.1L646.2,126.1L646.7,130.0L647.2,133.9L647.7,137.8L648.2,141.8L648.7,145.7L649.2,149.6L649.6,153.6L649.9,157.5L650.1,161.4L650.3,165.4L650.4,169.3L650.5,173.3L650.5,177.3L650.6,181.2L650.6,185.2L650.7,189.1L650.8,193.1L651.1,197.0L651.4,201.0L651.7,204.9L652.2,208.8L652.6,212.8M629.0,8.4L629.5,12.4L630.0,16.3L630.5,20.2L631.0,24.2L631.5,28.1L631.9,32.0L632.3,35.9L632.7,39.9L632.9,43.8L633.1,47.8L633.2,51.7L633.2,55.7L633.3,59.6L633.3,63.6L633.3,67.6L633.4,71.5L633.6,75.5L633.8,79.4L634.1,83.3L634.5,87.3L634.9,91.2L635.4,95.1L635.9,99.1L636.4,103.0L636.9,106.9L637.4,110.8L637.8,114.8L638.2,118.7L638.4,122.7L638.6,126.6L638.7,130.6L638.8,134.5L638.8,138.5L638.9,142.4L638.9,146.4L639.0,150.3L639.1,154.3L639.3,158.2L639.6,162.2L640.0,166.1L640.4,170.0L640.9,174.0L641.4,177.9L641.9,181.8L642.4,185.7L642.9,189.7L643.3,193.6L643.7,197.5L643.9,201.5L644.2,205.4L644.3,209.4L644.4,213.3M621.1,9.0L621.5,12.9L622.0,16.9L622.3,20.8L622.6,24.7L622.7,28.7L622.9,32.6L622.9,36.6L623.0,40.6L623.0,44.5L623.1,48.5L623.1,52.4L623.3,56.4L623.5,60.3L623.7,64.3L624.1,68.2L624.5,72.1L625.0,76.1L625.5,80.0L626.0,83.9L626.5,87.8L627.0,91.8L627.4,95.7L627.8,99.6L628.1,103.6L628.3,107.5L628.4,111.5L628.5,115.4L628.6,119.4L628.6,123.3L628.6,127.3L628.7,131.3L628.8,135.2L629.0,139.2L629.2,143.1L629.6,147.0L630.0,151.0L630.4,154.9L630.9,158.8L631.5,162.7L632.0,166.7L632.5,170.6L632.9,174.5L633.3,178.5L633.6,182.4L633.8,186.3L634.0,190.3L634.1,194.3L634.1,198.2L634.2,202.2L634.2,206.1L634.3,210.1L634.4,214.0M610.9,9.7L611.2,13.7L611.6,17.6L612.0,21.5L612.5,25.4L613.0,29.4L613.5,33.3L614.0,37.2L614.5,41.1L614.9,45.1L615.2,49.0L615.5,53.0L615.7,56.9L615.8,60.9L615.9,64.8L615.9,68.8L616.0,72.7L616.0,76.7L616.1,80.6L616.2,84.6L616.4,88.5L616.7,92.5L617.0,96.4L617.5,100.4L617.9,104.3L618.5,108.2L619.0,112.1L619.5,116.1L620.0,120.0L620.4,123.9L620.7,127.9L621.0,131.8L621.2,135.7L621.4,139.7L621.5,143.6L621.5,147.6L621.5,151.6L621.6,155.5L621.6,159.5L621.8,163.4L621.9,167.4L622.2,171.3L622.5,175.3L622.9,179.2L623.4,183.1L623.9,187.0L624.4,191.0L624.9,194.9L625.4,198.8L625.9,202.7L626.2,206.7L626.5,210.6L626.8,214.6M602.5,10.3L603.0,14.2L603.5,18.1L604.0,22.1L604.5,26.0L604.9,29.9L605.2,33.9L605.4,37.8L605.6,41.8L605.7,45.7L605.7,49.7L605.7,53.6L605.8,57.6L605.8,61.6L605.9,65.5L606.1,69.5L606.3,73.4L606.6,77.3L607.0,81.3L607.5,85.2L608.0,89.1L608.5,93.1L609.0,97.0L609.5,100.9L610.0,104.8L610.4,108.8L610.7,112.7L610.9,116.7L611.1,120.6L611.2,124.6L611.3,128.5L611.3,132.5L611.4,136.4L611.4,140.4L611.5,144.3L611.6,148.3L611.8,152.2L612.1,156.2L612.5,160.1L612.9,164.0L613.4,168.0L613.9,171.9L614.4,175.8L615.0,179.7L615.4,183.7L615.8,187.6L616.2,191.5L616.5,195.5L616.7,199.4L616.8,203.4L616.9,207.3L616.9,211.3L616.9,215.3M593.2,10.9L593.7,14.9L594.2,18.8L594.7,22.7L595.2,26.7L595.7,30.6L596.1,34.5L596.5,38.4L596.7,42.4L596.9,46.3L597.0,50.3L597.1,54.2L597.1,58.2L597.2,62.2L597.2,66.1L597.3,70.1L597.4,74.0L597.6,78.0L597.9,81.9L598.3,85.9L598.7,89.8L599.2,93.7L599.7,97.6L600.2,101.6L600.7,105.5L601.2,109.4L601.6,113.3L602.0,117.3L602.2,121.2L602.5,125.2L602.6,129.1L602.7,133.1L602.7,137.0L602.7,141.0L602.8,145.0L602.9,148.9L603.0,152.9L603.2,156.8L603.4,160.7L603.7,164.7L604.2,168.6L604.6,172.5L605.1,176.5L605.6,180.4L606.2,184.3L606.6,188.2L607.1,192.2L607.5,196.1L607.8,200.1L608.0,204.0L608.1,207.9L608.2,211.9L608.3,215.9M585.5,11.5L585.7,15.4L585.9,19.4L585.9,23.3L586.0,27.3L586.0,31.3L586.0,35.2L586.1,39.2L586.3,43.1L586.5,47.1L586.7,51.0L587.1,54.9L587.5,58.9L588.0,62.8L588.5,66.7L589.0,70.7L589.5,74.6L590.0,78.5L590.4,82.4L590.8,86.4L591.1,90.3L591.3,94.3L591.4,98.2L591.5,102.2L591.5,106.1L591.6,110.1L591.6,114.0L591.7,118.0L591.8,122.0L592.0,125.9L592.2,129.8L592.6,133.8L593.0,137.7L593.4,141.6L593.9,145.6L594.4,149.5L595.0,153.4L595.5,157.3L595.9,161.3L596.3,165.2L596.6,169.1L596.8,173.1L597.0,177.0L597.1,181.0L597.1,185.0L597.2,188.9L597.2,192.9L597.2,196.8L597.3,200.8L597.5,204.7L597.7,208.7L598.1,212.6L598.4,216.5M575.7,12.2L576.2,16.1L576.7,20.0L577.2,24.0L577.6,27.9L577.9,31.8L578.2,35.8L578.4,39.7L578.6,43.7L578.7,47.6L578.7,51.6L578.7,55.5L578.8,59.5L578.8,63.4L579.0,67.4L579.1,71.3L579.4,75.3L579.7,79.2L580.1,83.2L580.6,87.1L581.1,91.0L581.6,94.9L582.1,98.9L582.6,102.8L583.1,106.7L583.4,110.7L583.7,114.6L584.0,118.5L584.1,122.5L584.2,126.4L584.3,130.4L584.3,134.4L584.3,138.3L584.4,142.3L584.5,146.2L584.7,150.2L584.9,154.1L585.2,158.1L585.6,162.0L586.1,165.9L586.6,169.9L587.1,173.8L587.6,177.7L588.1,181.6L588.5,185.6L588.9,189.5L589.3,193.4L589.5,197.4L589.7,201.3L589.8,205.3L589.8,209.2L589.9,213.2L589.9,217.1M566.1,12.8L566.5,16.8L566.9,20.7L567.4,24.6L567.9,28.6L568.4,32.5L568.9,36.4L569.4,40.3L569.8,44.3L570.1,48.2L570.3,52.2L570.5,56.1L570.6,60.1L570.6,64.0L570.7,68.0L570.7,71.9L570.8,75.9L570.9,79.8L571.0,83.8L571.2,87.7L571.5,91.7L571.9,95.6L572.4,99.5L572.9,103.5L573.4,107.4L573.9,111.3L574.4,115.2L574.9,119.2L575.3,123.1L575.6,127.0L575.8,131.0L576.0,134.9L576.1,138.9L576.2,142.8L576.2,146.8L576.3,150.8L576.3,154.7L576.4,158.7L576.5,162.6L576.8,166.6L577.0,170.5L577.4,174.5L577.8,178.4L578.3,182.3L578.8,186.2L579.3,190.2L579.9,194.1L580.3,198.0L580.7,201.9L581.1,205.9L581.4,209.8L581.6,213.8L581.7,217.7M557.7,13.4L557.8,17.4L557.8,21.3L558.0,25.3L558.1,29.2L558.4,33.2L558.7,37.1L559.1,41.1L559.6,45.0L560.1,48.9L560.6,52.8L561.2,56.8L561.6,60.7L562.1,64.6L562.5,68.6L562.8,72.5L563.0,76.4L563.1,80.4L563.2,84.3L563.3,88.3L563.3,92.3L563.3,96.2L563.4,100.2L563.5,104.1L563.7,108.1L563.9,112.0L564.2,116.0L564.6,119.9L565.1,123.8L565.6,127.7L566.1,131.7L566.6,135.6L567.1,139.5L567.6,143.5L567.9,147.4L568.3,151.3L568.5,155.3L568.7,159.2L568.8,163.2L568.9,167.1L568.9,171.1L568.9,175.0L569.0,179.0L569.1,183.0L569.2,186.9L569.4,190.9L569.7,194.8L570.1,198.7L570.5,202.7L571.0,206.6L571.5,210.5L572.1,214.4L572.6,218.4M549.6,14.0L549.9,17.9L550.1,21.9L550.2,25.8L550.2,29.8L550.3,33.8L550.3,37.7L550.3,41.7L550.4,45.6L550.6,49.6L550.8,53.5L551.1,57.5L551.5,61.4L551.9,65.3L552.4,69.3L552.9,73.2L553.4,77.1L553.9,81.0L554.4,85.0L554.8,88.9L555.2,92.8L555.4,96.8L555.6,100.7L555.7,104.7L555.8,108.6L555.8,112.6L555.9,116.5L555.9,120.5L556.0,124.5L556.1,128.4L556.3,132.4L556.6,136.3L557.0,140.2L557.4,144.2L557.9,148.1L558.4,152.0L558.9,155.9L559.4,159.9L559.9,163.8L560.3,167.7L560.7,171.7L560.9,175.6L561.1,179.5L561.3,183.5L561.4,187.5L561.4,191.4L561.4,195.4L561.5,199.3L561.5,203.3L561.7,207.2L561.8,211.2L562.1,215.1L562.4,219.1M540.3,14.7L540.7,18.6L541.1,22.5L541.5,26.4L541.8,30.4L542.0,34.3L542.1,38.3L542.2,42.2L542.2,46.2L542.2,50.2L542.3,54.1L542.3,58.1L542.5,62.0L542.7,66.0L542.9,69.9L543.3,73.9L543.7,77.8L544.2,81.7L544.7,85.6L545.2,89.6L545.7,93.5L546.2,97.4L546.6,101.3L547.0,105.3L547.3,109.2L547.5,113.2L547.6,117.1L547.7,121.1L547.8,125.0L547.8,129.0L547.8,132.9L547.9,136.9L548.0,140.9L548.2,144.8L548.4,148.8L548.8,152.7L549.2,156.6L549.6,160.5L550.1,164.5L550.7,168.4L551.2,172.3L551.7,176.3L552.1,180.2L552.5,184.1L552.8,188.1L553.0,192.0L553.2,195.9L553.3,199.9L553.3,203.9L553.4,207.8L553.4,211.8L553.5,215.7L553.6,219.7" stroke="#141414" stroke-width="1.7" fill="none"/></g><polygon points="637.0,52.0 688.0,15.0 690.5,165.0 640.0,203.0" fill="none" stroke="#141414" stroke-width="2.6" stroke-linejoin="round" /><polygon points="619.5,50.0 663.0,12.0 694.0,14.0 637.0,52.0" fill="#fff" stroke="none" stroke-width="0" stroke-linejoin="round" /><g clip-path="url(#c6)"><path d="M611.5,-26.8L706.0,-23.5M611.3,-21.6L705.8,-18.3M611.1,-16.4L705.6,-13.1M611.0,-11.2L705.5,-7.9M610.8,-6.0L705.3,-2.7M610.6,-0.8L705.1,2.5M610.4,4.4L704.9,7.7M610.2,9.6L704.7,12.9M610.0,14.8L704.5,18.1M609.9,20.0L704.4,23.3M609.7,25.2L704.2,28.5M609.5,30.3L704.0,33.7M609.3,35.5L703.8,38.8M609.1,40.7L703.6,44.0M609.0,45.9L703.5,49.2M608.8,51.1L703.3,54.4M608.6,56.3L703.1,59.6M608.4,61.5L702.9,64.8M608.2,66.7L702.7,70.0M608.0,71.9L702.5,75.2M607.9,77.1L702.4,80.4M607.7,82.3L702.2,85.6M607.5,87.5L702.0,90.8" stroke="#141414" stroke-width="2.4" fill="none"/></g><polygon points="619.5,50.0 663.0,12.0 694.0,14.0 637.0,52.0" fill="none" stroke="#141414" stroke-width="2.2" stroke-linejoin="round" /><polygon points="619.5,50.0 637.0,52.0 640.0,203.0 626.0,204.0" fill="#fff" stroke="#141414" stroke-width="2.4" stroke-linejoin="round" /><path d="M628,75 Q632,125 630,195" fill="none" stroke="#141414" stroke-width="1.3" stroke-linecap="round" stroke-linejoin="round" /><ellipse cx="653" cy="172.7" rx="5" ry="7.5" fill="#fff" stroke="#141414" stroke-width="2.6"/><ellipse cx="679.3" cy="153.4" rx="5" ry="7.5" fill="#fff" stroke="#141414" stroke-width="2.6"/><line x1="650.0" y1="176.0" x2="656.0" y2="169.0" stroke="#141414" stroke-width="1.4" stroke-linecap="round"/><line x1="676.0" y1="157.0" x2="682.0" y2="150.0" stroke="#141414" stroke-width="1.4" stroke-linecap="round"/><line x1="399.0" y1="67.0" x2="620.0" y2="67.0" stroke="#141414" stroke-width="3" stroke-linecap="round"/><line x1="637.0" y1="64.5" x2="691.0" y2="64.5" stroke="#141414" stroke-width="3" stroke-linecap="round"/><path d="M689,65 L741,65 Q746.5,65 746.5,71 L746.5,96 Q746.5,102.5 753,102.5 L769,102.5" fill="none" stroke="#141414" stroke-width="4.6" stroke-linecap="round" stroke-linejoin="round" /><line x1="337.0" y1="68.0" x2="358.0" y2="68.0" stroke="#141414" stroke-width="3" stroke-linecap="round"/><circle cx="338" cy="68" r="2.8" fill="#141414"/><line x1="496.0" y1="89.0" x2="446.0" y2="134.0" stroke="#141414" stroke-width="1.6" stroke-linecap="round"/><ellipse cx="499.1" cy="67" rx="11" ry="24" fill="#141414" stroke="#141414" stroke-width="3.0"/><ellipse cx="501.6" cy="67" rx="11" ry="24" fill="#fff" stroke="#141414" stroke-width="3.0"/><g clip-path="url(#c7)"><path d="M454.6,73.3L480.6,24.5M459.5,75.9L485.4,27.1M464.3,78.5L490.3,29.7M469.2,81.1L495.2,32.3M474.0,83.7L500.0,34.8M478.9,86.3L504.9,37.4M483.8,88.8L509.7,40.0M488.6,91.4L514.6,42.6M493.5,94.0L519.4,45.2M498.3,96.6L524.3,47.7M503.2,99.2L529.2,50.3M508.0,101.7L534.0,52.9M512.9,104.3L538.9,55.5M517.8,106.9L543.7,58.1M522.6,109.5L548.6,60.7" stroke="#141414" stroke-width="1.5" fill="none"/></g><polygon points="505.0,55.0 537.0,55.0 537.0,77.5 505.0,77.5" fill="#fff" stroke="none" stroke-width="0" stroke-linejoin="round" /><path d="M506.8,54.5 Q503.8,66 506.8,78M510.3,54.5 Q507.3,66 510.3,78M513.9,54.5 Q510.9,66 513.9,78M517.4,54.5 Q514.4,66 517.4,78M521.0,54.5 Q518.0,66 521.0,78M524.6,54.5 Q521.6,66 524.6,78M528.1,54.5 Q525.1,66 528.1,78M531.7,54.5 Q528.7,66 531.7,78M535.2,54.5 Q532.2,66 535.2,78" fill="none" stroke="#141414" stroke-width="2.0" stroke-linecap="round" stroke-linejoin="round" /><path d="M505,54.5 L537,54.5" fill="none" stroke="#141414" stroke-width="2.6" stroke-linecap="round" stroke-linejoin="round" /><path d="M505,78 L537,78" fill="none" stroke="#141414" stroke-width="3.2" stroke-linecap="round" stroke-linejoin="round" /><ellipse cx="543" cy="67" rx="11" ry="24" fill="#141414" stroke="#141414" stroke-width="3.0"/><ellipse cx="546" cy="67" rx="11" ry="24" fill="#fff" stroke="#141414" stroke-width="3.0"/><g clip-path="url(#c8)"><path d="M499.0,73.3L525.0,24.5M503.9,75.9L529.8,27.1M508.7,78.5L534.7,29.7M513.6,81.1L539.6,32.3M518.4,83.7L544.4,34.8M523.3,86.3L549.3,37.4M528.2,88.8L554.1,40.0M533.0,91.4L559.0,42.6M537.9,94.0L563.8,45.2M542.7,96.6L568.7,47.7M547.6,99.2L573.6,50.3M552.4,101.7L578.4,52.9M557.3,104.3L583.3,55.5M562.2,106.9L588.1,58.1M567.0,109.5L593.0,60.7" stroke="#141414" stroke-width="1.5" fill="none"/></g><polygon points="436.0,136.0 496.0,136.0 398.0,192.0 376.0,187.0" fill="#141414" stroke="none" stroke-width="0" stroke-linejoin="round" /><g clip-path="url(#c9)"><path d="M356.0,138.5L516.0,138.5M349.5,143.9L516.0,143.9M356.0,149.3L516.0,149.3M349.5,154.7L516.0,154.7M356.0,160.1L516.0,160.1M349.5,165.5L516.0,165.5M356.0,170.9L516.0,170.9M349.5,176.3L516.0,176.3M356.0,181.7L516.0,181.7M349.5,187.1L516.0,187.1" stroke="#fff" stroke-width="2.9" stroke-dasharray="10 3" fill="none"/></g><polygon points="375.6,56.5 434.8,16.0 436.0,136.0 376.0,186.0" fill="#fff" stroke="none" stroke-width="0" stroke-linejoin="round" /><path d="M378.8,54.5L377.9,65.2L377.5,76.0L377.6,86.7L378.3,97.5L379.2,108.2L379.9,119.0L379.9,129.7L379.4,140.5L378.5,151.2L377.9,162.0L377.8,172.7L378.3,183.5M383.3,50.4L383.5,61.1L384.2,71.8L385.2,82.4L385.8,93.1L385.8,103.8L385.2,114.5L384.4,125.1L383.8,135.8L383.7,146.5L384.3,157.2L385.2,167.8L386.0,178.5M389.6,46.4L390.4,57.0L391.3,67.6L391.7,78.2L391.5,88.8L390.8,99.3L390.0,109.9L389.6,120.5L389.8,131.1L390.5,141.7L391.4,152.3L392.1,162.9L392.1,173.5M395.2,42.3L395.3,52.8L396.1,63.4L397.0,73.9L397.7,84.4L397.7,94.9L397.2,105.4L396.4,115.9L395.7,126.4L395.7,137.0L396.2,147.5L397.1,158.0L398.0,168.5" stroke="#141414" stroke-width="2.1" fill="none" stroke-linecap="round"/><path d="M413.6,30.2L414.4,40.5L415.1,50.7L415.3,61.0L415.0,71.3L414.4,81.6L413.8,91.8L413.6,102.1L414.0,112.4L414.7,122.7L415.5,132.9L415.9,143.2L415.8,153.5M420.6,26.1L420.0,36.3L419.4,46.5L419.3,56.7L419.6,66.9L420.4,77.1L421.1,87.3L421.6,97.5L421.5,107.7L420.9,117.9L420.3,128.1L420.0,138.3L420.1,148.5M425.0,22.1L425.5,32.2L426.3,42.3L427.0,52.4L427.3,62.5L427.0,72.7L426.4,82.8L425.8,92.9L425.6,103.0L426.0,113.1L426.8,123.3L427.6,133.4L428.0,143.5M432.2,18.0L431.5,28.1L431.1,38.1L431.2,48.1L431.8,58.2L432.6,68.2L433.3,78.3L433.5,88.3L433.2,98.3L432.6,108.4L432.0,118.4L431.9,128.5L432.3,138.5" stroke="#141414" stroke-width="2.1" fill="none" stroke-linecap="round"/><path d="M401.5,164.8 C400.5,115 403,90 405,90 C407,90 410,115 409,158.5" fill="none" stroke="#141414" stroke-width="2.0" stroke-linecap="round" stroke-linejoin="round" /><path d="M396,169.3 C395,93 402.5,68 404.5,68 C406.5,68 415.5,93 414.5,153.9" fill="none" stroke="#141414" stroke-width="2.0" stroke-linecap="round" stroke-linejoin="round" /><polygon points="375.6,56.5 434.8,16.0 436.0,136.0 376.0,186.0" fill="none" stroke="#141414" stroke-width="2.4" stroke-linejoin="round" /><polygon points="358.3,55.6 408.7,14.3 433.7,14.3 375.6,56.5" fill="#fff" stroke="none" stroke-width="0" stroke-linejoin="round" /><g clip-path="url(#c10)"><path d="M349.8,-23.4L446.2,-20.1M349.6,-18.3L446.0,-14.9M349.5,-13.1L445.8,-9.7M349.3,-7.9L445.6,-4.5M349.1,-2.7L445.4,0.7M348.9,2.5L445.3,5.9M348.7,7.7L445.1,11.1M348.6,12.9L444.9,16.3M348.4,18.1L444.7,21.5M348.2,23.3L444.5,26.7M348.0,28.5L444.4,31.9M347.8,33.7L444.2,37.1M347.6,38.9L444.0,42.3M347.5,44.1L443.8,47.5M347.3,49.3L443.6,52.7M347.1,54.5L443.4,57.9M346.9,59.7L443.3,63.1M346.7,64.9L443.1,68.3M346.6,70.1L442.9,73.5M346.4,75.3L442.7,78.7M346.2,80.5L442.5,83.9M346.0,85.7L442.4,89.1M345.8,90.9L442.2,94.2" stroke="#141414" stroke-width="2.4" fill="none"/></g><polygon points="358.3,55.6 408.7,14.3 433.7,14.3 375.6,56.5" fill="none" stroke="#141414" stroke-width="2.2" stroke-linejoin="round" /><polygon points="358.3,55.6 375.6,56.5 376.0,186.0 361.0,191.0" fill="#fff" stroke="#141414" stroke-width="2.4" stroke-linejoin="round" /><path d="M364,70 Q368,120 365,185" fill="none" stroke="#141414" stroke-width="1.2" stroke-linecap="round" stroke-linejoin="round" /><path d="M370,65 Q372,120 370,180" fill="none" stroke="#141414" stroke-width="1.0" stroke-linecap="round" stroke-linejoin="round" /><line x1="398.0" y1="68.0" x2="436.0" y2="68.0" stroke="#141414" stroke-width="3" stroke-linecap="round"/><polygon points="122.0,377.0 182.0,332.0 240.0,332.0 185.0,377.0" fill="#141414" stroke="none" stroke-width="0" stroke-linejoin="round" /><g clip-path="url(#c11)"><path d="M102.0,334.5L260.0,334.5M95.5,340.1L260.0,340.1M102.0,345.7L260.0,345.7M95.5,351.3L260.0,351.3M102.0,356.9L260.0,356.9M95.5,362.5L260.0,362.5M102.0,368.1L260.0,368.1M95.5,373.7L260.0,373.7" stroke="#fff" stroke-width="3.1" stroke-dasharray="10 3" fill="none"/></g><polygon points="120.0,256.0 179.0,213.0 180.0,331.0 121.0,372.0" fill="#fff" stroke="none" stroke-width="0" stroke-linejoin="round" /><path d="M117.2,253.6L118.9,263.1L120.4,272.6L121.3,282.1L121.7,291.6L121.6,301.1L121.6,310.6L122.0,320.1L122.8,329.6L123.8,339.2L124.8,348.7L125.3,358.2L125.1,367.7M124.1,248.8L125.7,258.3L127.3,267.9L128.4,277.4L128.8,286.9L128.8,296.4L128.7,305.9L128.8,315.4L129.3,324.9L130.2,334.5L131.2,344.0L132.0,353.5L132.1,363.0M132.6,244.1L133.9,253.6L134.5,263.1L134.6,272.6L134.5,282.1L134.6,291.7L135.2,301.2L136.1,310.7L137.3,320.2L138.2,329.8L138.5,339.3L138.3,348.8L137.8,358.3M140.0,239.3L141.0,248.8L141.4,258.3L141.4,267.9L141.3,277.4L141.4,286.9L142.1,296.5L143.2,306.0L144.3,315.5L145.0,325.1L145.2,334.6L144.9,344.1L144.3,353.7M147.5,234.5L148.0,244.0L148.0,253.6L147.9,263.1L147.9,272.7L148.4,282.2L149.3,291.8L150.5,301.3L151.4,310.8L151.8,320.4L151.6,329.9L151.1,339.5L150.7,349.0M153.5,229.7L154.8,239.3L155.8,248.8L156.2,258.4L156.1,267.9L155.8,277.5L155.7,287.0L156.0,296.6L156.8,306.1L157.8,315.7L158.7,325.2L159.1,334.8L158.9,344.3M161.3,224.9L161.1,234.5L161.0,244.1L161.3,253.6L162.2,263.2L163.3,272.7L164.2,282.3L164.7,291.9L164.7,301.4L164.3,311.0L163.9,320.5L163.8,330.1L164.3,339.7M167.5,220.2L167.5,229.7L168.2,239.3L169.2,248.9L170.2,258.4L170.9,268.0L171.1,277.6L170.8,287.2L170.3,296.7L170.2,306.3L170.5,315.9L171.2,325.4L172.2,335.0M176.3,215.4L176.2,225.0L175.7,234.5L175.4,244.1L175.6,253.7L176.2,263.3L177.2,272.9L178.1,282.4L178.6,292.0L178.6,301.6L178.2,311.2L177.7,320.8L177.6,330.3" stroke="#141414" stroke-width="2.4" fill="none" stroke-linecap="round"/><polygon points="120.0,256.0 179.0,213.0 180.0,331.0 121.0,372.0" fill="none" stroke="#141414" stroke-width="2.4" stroke-linejoin="round" /><polygon points="101.5,254.0 156.0,212.0 179.0,211.0 120.0,256.0" fill="#fff" stroke="none" stroke-width="0" stroke-linejoin="round" /><g clip-path="url(#c12)"><path d="M92.5,174.6L192.0,178.1M92.3,179.8L191.8,183.3M92.1,185.0L191.7,188.5M91.9,190.2L191.5,193.7M91.7,195.4L191.3,198.9M91.6,200.6L191.1,204.1M91.4,205.8L190.9,209.3M91.2,211.0L190.8,214.5M91.0,216.2L190.6,219.6M90.8,221.4L190.4,224.8M90.7,226.6L190.2,230.0M90.5,231.8L190.0,235.2M90.3,237.0L189.8,240.4M90.1,242.2L189.7,245.6M89.9,247.4L189.5,250.8M89.7,252.5L189.3,256.0M89.6,257.7L189.1,261.2M89.4,262.9L188.9,266.4M89.2,268.1L188.8,271.6M89.0,273.3L188.6,276.8M88.8,278.5L188.4,282.0M88.7,283.7L188.2,287.2M88.5,288.9L188.0,292.4" stroke="#141414" stroke-width="2.4" fill="none"/></g><polygon points="101.5,254.0 156.0,212.0 179.0,211.0 120.0,256.0" fill="none" stroke="#141414" stroke-width="2.2" stroke-linejoin="round" /><polygon points="101.5,254.0 120.0,256.0 121.0,376.0 102.0,384.0" fill="#fff" stroke="#141414" stroke-width="2.4" stroke-linejoin="round" /><g clip-path="url(#c13)"><path d="M-2.3,338.7L64.1,213.8M9.2,344.8L75.6,219.9M20.7,350.9L87.1,226.0M32.1,357.0L98.5,232.1M43.6,363.1L110.0,238.2M55.1,369.2L121.5,244.3M66.6,375.3L133.0,250.4M78.0,381.4L144.5,256.6M89.5,387.6L155.9,262.7M101.0,393.7L167.4,268.8M112.5,399.8L178.9,274.9M124.0,405.9L190.4,281.0M135.4,412.0L201.8,287.1M146.9,418.1L213.3,293.2M158.4,424.2L224.8,299.3" stroke="#141414" stroke-width="1.4" fill="none"/></g><line x1="82.0" y1="275.0" x2="101.0" y2="275.0" stroke="#141414" stroke-width="3.4" stroke-linecap="round"/><circle cx="83" cy="275" r="3" fill="#141414"/><line x1="149.0" y1="275.0" x2="265.0" y2="275.0" stroke="#141414" stroke-width="3.4" stroke-linecap="round"/><ellipse cx="271.8" cy="269.3" rx="12.6" ry="33" fill="#141414" stroke="#141414" stroke-width="3.0"/><ellipse cx="274.3" cy="269.3" rx="12.6" ry="33" fill="#fff" stroke="#141414" stroke-width="3.0"/><path d="M267.3,244.6 Q265.3,269.3 267.3,294.1" fill="none" stroke="#141414" stroke-width="1.3" stroke-linecap="round" stroke-linejoin="round" /><path d="M270.8,248.5 Q268.8,269.3 270.8,290.1" fill="none" stroke="#141414" stroke-width="1.3" stroke-linecap="round" stroke-linejoin="round" /><path d="M274.3,252.5 Q272.3,269.3 274.3,286.1" fill="none" stroke="#141414" stroke-width="1.3" stroke-linecap="round" stroke-linejoin="round" /><polygon points="274.0,253.0 335.0,253.0 335.0,290.0 274.0,290.0" fill="#fff" stroke="none" stroke-width="0" stroke-linejoin="round" /><path d="M275.9,253.0 Q272.4,271.5 275.9,290.0M279.7,253.0 Q276.2,271.5 279.7,290.0M283.5,253.0 Q280.0,271.5 283.5,290.0M287.3,253.0 Q283.8,271.5 287.3,290.0M291.2,253.0 Q287.7,271.5 291.2,290.0M295.0,253.0 Q291.5,271.5 295.0,290.0M298.8,253.0 Q295.3,271.5 298.8,290.0M302.6,253.0 Q299.1,271.5 302.6,290.0M306.4,253.0 Q302.9,271.5 306.4,290.0M310.2,253.0 Q306.7,271.5 310.2,290.0M314.0,253.0 Q310.5,271.5 314.0,290.0M317.8,253.0 Q314.3,271.5 317.8,290.0M321.7,253.0 Q318.2,271.5 321.7,290.0M325.5,253.0 Q322.0,271.5 325.5,290.0M329.3,253.0 Q325.8,271.5 329.3,290.0M333.1,253.0 Q329.6,271.5 333.1,290.0" fill="none" stroke="#141414" stroke-width="2.0" stroke-linecap="round" stroke-linejoin="round" /><path d="M274,253 L335,253" fill="none" stroke="#141414" stroke-width="2.6" stroke-linecap="round" stroke-linejoin="round" /><path d="M274,290 L335,290" fill="none" stroke="#141414" stroke-width="3.2" stroke-linecap="round" stroke-linejoin="round" /><ellipse cx="344" cy="269.3" rx="12.7" ry="30.5" fill="#141414" stroke="#141414" stroke-width="3.0"/><ellipse cx="347" cy="269.3" rx="12.7" ry="30.5" fill="#fff" stroke="#141414" stroke-width="3.0"/><path d="M343.0,251.0 Q341.0,269.3 343.0,287.6" fill="none" stroke="#141414" stroke-width="1.3" stroke-linecap="round" stroke-linejoin="round" /><path d="M347.0,248.0 Q345.0,269.3 347.0,290.7" fill="none" stroke="#141414" stroke-width="1.3" stroke-linecap="round" stroke-linejoin="round" /><path d="M351.0,251.0 Q349.0,269.3 351.0,287.6" fill="none" stroke="#141414" stroke-width="1.3" stroke-linecap="round" stroke-linejoin="round" /><line x1="360.0" y1="271.0" x2="386.0" y2="271.0" stroke="#141414" stroke-width="3" stroke-linecap="round"/><path d="M272,296 C270,312 267,328 262,342 C255,353 248,361 242,368" fill="none" stroke="#141414" stroke-width="9" stroke-linecap="round" stroke-linejoin="round" /><path d="M270,306 C268,318 265,330 260,341" fill="none" stroke="#fff" stroke-width="1.4" stroke-linecap="round" stroke-linejoin="round" /><path d="M258.5,338 C248.5,352 234.5,370 219.25,393.95" fill="none" stroke="#141414" stroke-width="1.8" stroke-linecap="round" stroke-linejoin="round" /><path d="M262,338 C252,352 238,370 221.0,395.0" fill="none" stroke="#141414" stroke-width="1.8" stroke-linecap="round" stroke-linejoin="round" /><path d="M265.5,338 C255.5,352 241.5,370 222.75,396.05" fill="none" stroke="#141414" stroke-width="1.8" stroke-linecap="round" stroke-linejoin="round" /><ellipse cx="212" cy="401" rx="10" ry="7" fill="#fff" stroke="#141414" stroke-width="2.4" transform="rotate(-25 212 401)"/><circle cx="212" cy="400" r="2" fill="#141414"/><polygon points="229.0,410.0 242.0,398.0 262.0,388.0 280.0,381.0 293.0,382.0 285.0,388.0 268.0,397.0 250.0,406.0 236.0,412.0" fill="#141414" stroke="none" stroke-width="0" stroke-linejoin="round" /><g clip-path="url(#c14)"><path d="M209.0,383.5L313.0,383.5M205.5,386.7L313.0,386.7M209.0,389.9L313.0,389.9M205.5,393.1L313.0,393.1M209.0,396.3L313.0,396.3M205.5,399.5L313.0,399.5M209.0,402.7L313.0,402.7M205.5,405.9L313.0,405.9M209.0,409.1L313.0,409.1" stroke="#fff" stroke-width="1.2" stroke-dasharray="5 2" fill="none"/></g><line x1="220.0" y1="412.0" x2="244.0" y2="414.0" stroke="#141414" stroke-width="1.6" stroke-linecap="round"/><line x1="266.0" y1="382.0" x2="296.0" y2="382.0" stroke="#141414" stroke-width="1.5" stroke-linecap="round"/><polygon points="403.0,254.0 468.0,198.0 472.0,350.0 404.0,400.0" fill="#fff" stroke="none" stroke-width="0" stroke-linejoin="round" /><g clip-path="url(#c15)"><path d="M280.7,250.9L474.3,139.2M283.7,256.1L477.3,144.4M286.7,261.3L480.3,149.6M289.7,266.5L483.3,154.8M292.7,271.7L486.3,160.0M295.7,276.9L489.3,165.2M298.7,282.1L492.3,170.4M301.7,287.3L495.3,175.6M304.7,292.5L498.3,180.8M307.7,297.7L501.3,186.0M310.7,302.9L504.3,191.2M313.7,308.1L507.3,196.4M316.7,313.3L510.3,201.6M319.7,318.5L513.3,206.8M322.7,323.7L516.3,212.0M325.7,328.9L519.3,217.2M328.7,334.1L522.3,222.4M331.7,339.3L525.3,227.5M334.7,344.5L528.3,232.7M337.7,349.7L531.3,237.9M340.7,354.9L534.3,243.1M343.7,360.1L537.3,248.3M346.7,365.3L540.3,253.5M349.7,370.5L543.3,258.7M352.7,375.6L546.3,263.9M355.7,380.8L549.3,269.1M358.7,386.0L552.3,274.3M361.7,391.2L555.3,279.5M364.7,396.4L558.3,284.7M367.7,401.6L561.3,289.9M370.7,406.8L564.3,295.1M373.7,412.0L567.3,300.3M376.7,417.2L570.3,305.5M379.7,422.4L573.3,310.7M382.7,427.6L576.3,315.9M385.7,432.8L579.3,321.1M388.7,438.0L582.3,326.3M391.7,443.2L585.3,331.5M394.7,448.4L588.3,336.7M397.7,453.6L591.3,341.9M400.7,458.8L594.3,347.1" stroke="#141414" stroke-width="2.0" fill="none"/></g><g clip-path="url(#c16)"><path d="M282.7,366.2L283.8,362.4L284.9,358.5L286.0,354.7L287.0,350.8L288.0,346.9L288.9,343.0L289.9,339.2L290.9,335.3L292.0,331.4L293.1,327.6L294.3,323.8L295.6,320.0L296.9,316.3L298.4,312.5L299.8,308.8L301.3,305.1L302.8,301.4L304.3,297.7L305.7,293.9L307.2,290.2L308.5,286.5L309.8,282.7L311.0,278.9L312.1,275.1L313.2,271.2L314.2,267.3L315.2,263.5L316.2,259.6L317.2,255.7L318.2,251.8L319.2,248.0L320.3,244.1L321.5,240.3L322.7,236.5L324.0,232.8L325.4,229.0L326.8,225.3L328.3,221.6L329.8,217.8L331.3,214.1L332.7,210.4L334.2,206.7L335.6,202.9L336.9,199.2L338.2,195.4L339.3,191.6L340.4,187.7L341.5,183.9L342.5,180.0L343.5,176.1L344.4,172.3L345.4,168.4L346.4,164.5L347.5,160.7L348.6,156.8L349.8,153.0M290.5,368.7L291.9,365.0L293.2,361.2L294.4,357.4L295.6,353.6L296.7,349.7L297.7,345.9L298.7,342.0L299.7,338.1L300.6,334.2L301.6,330.4L302.7,326.5L303.7,322.7L304.9,318.8L306.1,315.1L307.4,311.3L308.8,307.5L310.2,303.8L311.7,300.1L313.1,296.4L314.6,292.6L316.1,288.9L317.6,285.2L319.0,281.5L320.3,277.7L321.6,273.9L322.8,270.1L323.9,266.3L325.0,262.4L326.0,258.6L326.9,254.7L327.9,250.8L328.9,246.9L329.9,243.1L330.9,239.2L332.1,235.4L333.2,231.6L334.5,227.8L335.8,224.0L337.2,220.3L338.6,216.5L340.1,212.8L341.6,209.1L343.1,205.4L344.6,201.7L346.0,197.9L347.4,194.2L348.7,190.4L349.9,186.6L351.1,182.8L352.2,179.0L353.2,175.1L354.2,171.2L355.2,167.4L356.2,163.5L357.1,159.6L358.2,155.7M298.5,371.3L299.9,367.6L301.2,363.8L302.5,360.0L303.7,356.2L304.9,352.4L305.9,348.6L307.0,344.7L308.0,340.8L308.9,336.9L309.9,333.1L310.9,329.2L311.9,325.3L313.0,321.5L314.2,317.7L315.4,313.9L316.7,310.1L318.1,306.4L319.6,302.6L321.0,298.9L322.5,295.2L324.0,291.5L325.5,287.8L326.9,284.1L328.3,280.3L329.6,276.5L330.9,272.8L332.1,268.9L333.2,265.1L334.2,261.2L335.2,257.4L336.2,253.5L337.2,249.6L338.2,245.7L339.2,241.9L340.2,238.0L341.4,234.2L342.6,230.4L343.8,226.6L345.2,222.8L346.6,219.1L348.0,215.4L349.5,211.7L351.0,208.0L352.5,204.2L353.9,200.5L355.4,196.8L356.7,193.0L358.0,189.3L359.2,185.5L360.4,181.6L361.5,177.8L362.5,173.9L363.5,170.1L364.5,166.2L365.4,162.3L366.4,158.4M306.8,374.0L307.8,370.1L308.8,366.3L309.8,362.4L310.8,358.5L311.8,354.6L312.8,350.8L313.8,346.9L314.9,343.1L316.1,339.3L317.4,335.5L318.7,331.7L320.1,328.0L321.5,324.3L323.0,320.5L324.5,316.8L326.0,313.1L327.5,309.4L328.9,305.7L330.3,301.9L331.6,298.1L332.8,294.4L334.0,290.5L335.0,286.7L336.1,282.8L337.1,279.0L338.0,275.1L339.0,271.2L340.0,267.3L341.0,263.5L342.1,259.6L343.3,255.8L344.5,252.0L345.8,248.2L347.1,244.5L348.5,240.7L350.0,237.0L351.5,233.3L353.0,229.6L354.5,225.9L355.9,222.1L357.3,218.4L358.7,214.6L359.9,210.9L361.1,207.1L362.3,203.2L363.3,199.4L364.3,195.5L365.3,191.6L366.3,187.8L367.3,183.9L368.3,180.0L369.3,176.2L370.4,172.3L371.6,168.5L372.9,164.7L374.2,160.9M314.8,376.6L315.9,372.8L316.9,368.9L317.9,365.0L318.9,361.1L319.8,357.3L320.8,353.4L321.9,349.5L323.0,345.7L324.2,341.9L325.5,338.1L326.8,334.4L328.2,330.6L329.6,326.9L331.1,323.2L332.6,319.5L334.1,315.7L335.6,312.0L337.0,308.3L338.4,304.5L339.7,300.8L340.9,297.0L342.0,293.2L343.1,289.3L344.2,285.5L345.2,281.6L346.1,277.7L347.1,273.8L348.1,270.0L349.1,266.1L350.2,262.2L351.3,258.4L352.6,254.6L353.8,250.8L355.2,247.1L356.6,243.4L358.1,239.6L359.6,235.9L361.1,232.2L362.6,228.5L364.0,224.8L365.4,221.0L366.8,217.3L368.0,213.5L369.2,209.7L370.4,205.9L371.4,202.0L372.4,198.1L373.4,194.3L374.4,190.4L375.4,186.5L376.4,182.6L377.4,178.8L378.5,174.9L379.7,171.1L380.9,167.3L382.3,163.6M321.3,378.7L322.4,374.9L323.6,371.1L324.9,367.3L326.3,363.6L327.7,359.8L329.1,356.1L330.6,352.4L332.1,348.7L333.6,345.0L335.1,341.2L336.5,337.5L337.8,333.7L339.1,330.0L340.3,326.2L341.5,322.3L342.5,318.5L343.6,314.6L344.6,310.8L345.5,306.9L346.5,303.0L347.5,299.1L348.5,295.3L349.6,291.4L350.8,287.6L352.0,283.8L353.3,280.0L354.7,276.3L356.1,272.6L357.6,268.8L359.1,265.1L360.6,261.4L362.1,257.7L363.5,254.0L364.9,250.2L366.2,246.5L367.5,242.7L368.7,238.9L369.8,235.0L370.8,231.2L371.8,227.3L372.8,223.4L373.8,219.6L374.8,215.7L375.8,211.8L376.8,208.0L377.9,204.1L379.1,200.3L380.4,196.5L381.7,192.8L383.1,189.0L384.6,185.3L386.1,181.6L387.6,177.9L389.0,174.2L390.5,170.4L391.9,166.7M330.6,381.7L331.5,377.9L332.5,374.0L333.5,370.1L334.5,366.2L335.6,362.4L336.7,358.6L337.9,354.7L339.2,351.0L340.5,347.2L341.9,343.5L343.4,339.7L344.9,336.0L346.3,332.3L347.8,328.6L349.3,324.9L350.7,321.2L352.1,317.4L353.4,313.6L354.6,309.8L355.7,306.0L356.8,302.1L357.8,298.3L358.8,294.4L359.8,290.5L360.8,286.7L361.8,282.8L362.8,278.9L363.9,275.1L365.0,271.3L366.3,267.5L367.6,263.7L368.9,259.9L370.4,256.2L371.8,252.5L373.3,248.8L374.8,245.1L376.3,241.4L377.7,237.6L379.1,233.9L380.5,230.1L381.7,226.3L382.9,222.5L384.0,218.7L385.1,214.8L386.1,211.0L387.1,207.1L388.0,203.2L389.0,199.3L390.0,195.5L391.1,191.6L392.2,187.8L393.4,184.0L394.6,180.2L396.0,176.4L397.4,172.7L398.8,169.0M337.4,384.0L338.6,380.1L339.8,376.4L341.1,372.6L342.5,368.8L344.0,365.1L345.4,361.4L346.9,357.7L348.4,354.0L349.9,350.3L351.3,346.5L352.7,342.8L354.0,339.0L355.3,335.2L356.5,331.4L357.6,327.6L358.6,323.7L359.6,319.8L360.6,316.0L361.6,312.1L362.5,308.2L363.6,304.3L364.6,300.5L365.7,296.7L366.9,292.9L368.2,289.1L369.6,285.3L371.0,281.6L372.4,277.9L373.9,274.1L375.4,270.4L376.9,266.7L378.3,263.0L379.8,259.3L381.1,255.5L382.4,251.7L383.6,247.9L384.8,244.1L385.8,240.3L386.9,236.4L387.9,232.5L388.8,228.6L389.8,224.8L390.8,220.9L391.8,217.0L392.9,213.2L394.1,209.4L395.3,205.6L396.6,201.8L398.0,198.1L399.4,194.3L400.9,190.6L402.4,186.9L403.9,183.2L405.4,179.5L406.8,175.7L408.2,172.0M345.8,386.7L346.8,382.8L347.9,379.0L349.1,375.2L350.4,371.4L351.7,367.6L353.1,363.9L354.6,360.2L356.1,356.5L357.6,352.7L359.1,349.0L360.5,345.3L361.9,341.6L363.3,337.8L364.6,334.1L365.8,330.3L367.0,326.4L368.0,322.6L369.1,318.7L370.1,314.9L371.0,311.0L372.0,307.1L373.0,303.2L374.0,299.4L375.1,295.5L376.3,291.7L377.5,287.9L378.8,284.1L380.2,280.4L381.6,276.6L383.1,272.9L384.5,269.2L386.0,265.5L387.5,261.8L389.0,258.1L390.4,254.3L391.7,250.6L393.0,246.8L394.1,243.0L395.3,239.1L396.3,235.3L397.3,231.4L398.3,227.5L399.3,223.6L400.3,219.8L401.3,215.9L402.3,212.0L403.4,208.2L404.6,204.4L405.9,200.6L407.2,196.9L408.6,193.1L410.0,189.4L411.5,185.7L413.0,182.0L414.5,178.2L416.0,174.5M353.5,389.2L354.8,385.4L356.1,381.6L357.5,377.9L359.0,374.2L360.5,370.5L362.0,366.8L363.5,363.0L364.9,359.3L366.3,355.6L367.7,351.8L369.0,348.1L370.2,344.3L371.3,340.4L372.4,336.6L373.5,332.7L374.4,328.9L375.4,325.0L376.4,321.1L377.4,317.2L378.4,313.4L379.5,309.5L380.7,305.7L381.9,301.9L383.2,298.1L384.6,294.4L386.0,290.7L387.4,286.9L388.9,283.2L390.4,279.5L391.9,275.8L393.4,272.1L394.8,268.3L396.1,264.6L397.3,260.8L398.5,257.0L399.6,253.1L400.7,249.3L401.7,245.4L402.7,241.5L403.7,237.7L404.6,233.8L405.6,229.9L406.7,226.1L407.8,222.2L409.0,218.4L410.3,214.6L411.6,210.9L413.0,207.1L414.4,203.4L415.9,199.7L417.4,196.0L418.9,192.3L420.4,188.5L421.8,184.8L423.2,181.1L424.5,177.3M363.0,392.3L363.9,388.4L364.9,384.5L365.9,380.6L366.9,376.8L367.9,372.9L369.1,369.1L370.2,365.3L371.5,361.5L372.8,357.7L374.2,354.0L375.6,350.2L377.1,346.5L378.6,342.8L380.1,339.1L381.6,335.4L383.0,331.6L384.4,327.9L385.7,324.1L386.9,320.3L388.1,316.5L389.2,312.7L390.2,308.8L391.2,304.9L392.2,301.1L393.2,297.2L394.1,293.3L395.2,289.4L396.2,285.6L397.4,281.8L398.6,278.0L399.9,274.2L401.2,270.4L402.7,266.7L404.1,263.0L405.6,259.3L407.1,255.6L408.6,251.8L410.0,248.1L411.4,244.4L412.8,240.6L414.1,236.8L415.3,233.0L416.4,229.2L417.5,225.4L418.5,221.5L419.5,217.6L420.4,213.7L421.4,209.9L422.4,206.0L423.5,202.1L424.6,198.3L425.7,194.5L427.0,190.7L428.3,186.9L429.7,183.2L431.1,179.4M370.2,394.6L371.7,390.9L373.2,387.2L374.7,383.5L376.1,379.8L377.6,376.0L378.9,372.3L380.2,368.5L381.4,364.7L382.6,360.9L383.7,357.0L384.7,353.2L385.7,349.3L386.7,345.4L387.6,341.5L388.6,337.7L389.7,333.8L390.8,330.0L391.9,326.1L393.1,322.3L394.4,318.6L395.8,314.8L397.2,311.1L398.7,307.4L400.1,303.6L401.6,299.9L403.1,296.2L404.6,292.5L406.0,288.8L407.3,285.0L408.6,281.2L409.8,277.4L410.9,273.6L412.0,269.7L413.0,265.9L414.0,262.0L414.9,258.1L415.9,254.2L416.9,250.4L418.0,246.5L419.1,242.7L420.2,238.8L421.5,235.1L422.8,231.3L424.2,227.6L425.6,223.8L427.1,220.1L428.6,216.4L430.1,212.7L431.6,209.0L433.0,205.2L434.4,201.5L435.7,197.7L436.9,193.9L438.1,190.1L439.2,186.3L440.2,182.4M378.1,397.2L379.1,393.3L380.3,389.5L381.5,385.7L382.7,381.9L384.1,378.1L385.5,374.4L386.9,370.7L388.4,367.0L389.9,363.3L391.4,359.5L392.9,355.8L394.3,352.1L395.6,348.3L396.9,344.6L398.1,340.8L399.3,336.9L400.4,333.1L401.4,329.2L402.4,325.3L403.3,321.5L404.3,317.6L405.3,313.7L406.4,309.9L407.4,306.0L408.6,302.2L409.8,298.4L411.1,294.6L412.5,290.9L413.9,287.2L415.4,283.4L416.9,279.7L418.4,276.0L419.9,272.3L421.3,268.6L422.7,264.8L424.0,261.1L425.3,257.3L426.5,253.5L427.6,249.6L428.6,245.8L429.6,241.9L430.6,238.0L431.6,234.1L432.6,230.3L433.6,226.4L434.6,222.6L435.8,218.7L437.0,214.9L438.2,211.1L439.6,207.4L441.0,203.6L442.4,199.9L443.9,196.2L445.4,192.5L446.9,188.8L448.3,185.0M385.9,399.7L387.1,395.9L388.4,392.1L389.8,388.4L391.2,384.6L392.6,380.9L394.1,377.2L395.6,373.5L397.1,369.8L398.6,366.1L400.0,362.3L401.3,358.6L402.6,354.8L403.7,351.0L404.9,347.1L405.9,343.3L406.9,339.4L407.9,335.5L408.9,331.7L409.9,327.8L410.9,323.9L411.9,320.1L413.0,316.2L414.2,312.4L415.5,308.6L416.8,304.9L418.2,301.1L419.6,297.4L421.1,293.7L422.6,290.0L424.1,286.3L425.6,282.5L427.0,278.8L428.4,275.1L429.7,271.3L430.9,267.5L432.1,263.7L433.2,259.8L434.2,256.0L435.2,252.1L436.2,248.2L437.1,244.3L438.1,240.5L439.1,236.6L440.2,232.8L441.4,228.9L442.6,225.1L443.9,221.4L445.2,217.6L446.6,213.9L448.1,210.1L449.6,206.4L451.1,202.7L452.6,199.0L454.0,195.3L455.4,191.5L456.8,187.8M394.1,402.4L395.2,398.5L396.4,394.7L397.7,391.0L399.0,387.2L400.4,383.5L401.9,379.7L403.4,376.0L404.9,372.3L406.3,368.6L407.8,364.9L409.2,361.1L410.6,357.4L411.9,353.6L413.1,349.8L414.2,346.0L415.3,342.1L416.3,338.3L417.3,334.4L418.3,330.5L419.3,326.6L420.3,322.8L421.3,318.9L422.4,315.1L423.5,311.2L424.8,307.5L426.1,303.7L427.4,299.9L428.9,296.2L430.3,292.5L431.8,288.8L433.3,285.1L434.8,281.3L436.3,277.6L437.6,273.9L439.0,270.1L440.2,266.3L441.4,262.5L442.5,258.7L443.6,254.8L444.6,251.0L445.6,247.1L446.5,243.2L447.5,239.3L448.5,235.5L449.6,231.6L450.7,227.8L451.9,224.0L453.2,220.2L454.5,216.4L455.9,212.7L457.3,208.9L458.8,205.2L460.3,201.5L461.8,197.8L463.3,194.1L464.7,190.4M403.8,405.5L404.9,401.7L405.9,397.8L406.9,394.0L407.9,390.1L408.8,386.2L409.8,382.3L410.9,378.5L412.0,374.6L413.1,370.8L414.4,367.0L415.7,363.2L417.0,359.5L418.5,355.8L419.9,352.0L421.4,348.3L422.9,344.6L424.4,340.9L425.8,337.2L427.2,333.4L428.6,329.7L429.8,325.9L431.0,322.1L432.1,318.2L433.2,314.4L434.2,310.5L435.2,306.6L436.1,302.7L437.1,298.9L438.1,295.0L439.2,291.2L440.3,287.3L441.5,283.5L442.7,279.7L444.1,276.0L445.5,272.2L446.9,268.5L448.4,264.8L449.9,261.1L451.4,257.4L452.9,253.6L454.3,249.9L455.6,246.2L456.9,242.4L458.2,238.6L459.3,234.8L460.4,230.9L461.4,227.1L462.4,223.2L463.4,219.3L464.4,215.4L465.4,211.6L466.4,207.7L467.5,203.8L468.6,200.0L469.8,196.2L471.1,192.5M411.2,407.9L412.2,404.1L413.2,400.2L414.2,396.3L415.2,392.5L416.3,388.6L417.5,384.8L418.8,381.0L420.1,377.3L421.5,373.5L422.9,369.8L424.4,366.1L425.9,362.4L427.4,358.6L428.8,354.9L430.3,351.2L431.7,347.4L433.0,343.7L434.2,339.9L435.4,336.1L436.5,332.2L437.5,328.4L438.5,324.5L439.5,320.6L440.4,316.7L441.4,312.9L442.4,309.0L443.5,305.2L444.7,301.3L445.9,297.5L447.1,293.7L448.5,290.0L449.9,286.3L451.4,282.5L452.9,278.8L454.4,275.1L455.8,271.4L457.3,267.7L458.7,263.9L460.1,260.2L461.3,256.4L462.5,252.6L463.7,248.8L464.7,244.9L465.8,241.1L466.7,237.2L467.7,233.3L468.7,229.4L469.7,225.5L470.7,221.7L471.8,217.8L473.0,214.0L474.2,210.2L475.6,206.5L476.9,202.7L478.4,199.0L479.8,195.3M419.0,410.5L420.5,406.7L422.0,403.0L423.4,399.3L424.8,395.6L426.2,391.8L427.5,388.1L428.7,384.3L429.9,380.4L430.9,376.6L432.0,372.7L433.0,368.9L433.9,365.0L434.9,361.1L435.9,357.2L436.9,353.4L438.0,349.5L439.2,345.7L440.4,341.9L441.7,338.1L443.1,334.4L444.5,330.6L445.9,326.9L447.4,323.2L448.9,319.5L450.4,315.8L451.9,312.1L453.3,308.3L454.6,304.6L455.9,300.8L457.0,297.0L458.2,293.1L459.2,289.3L460.2,285.4L461.2,281.5L462.2,277.6L463.2,273.8L464.2,269.9L465.2,266.0L466.3,262.2L467.5,258.4L468.8,254.6L470.1,250.9L471.5,247.1L472.9,243.4L474.4,239.7L475.9,236.0L477.4,232.2L478.9,228.5L480.3,224.8L481.7,221.0L483.0,217.3L484.2,213.5L485.4,209.7L486.4,205.8L487.5,202.0L488.5,198.1M426.7,413.0L427.7,409.1L428.8,405.3L430.0,401.5L431.2,397.7L432.5,393.9L433.9,390.1L435.3,386.4L436.8,382.7L438.3,379.0L439.8,375.3L441.2,371.5L442.7,367.8L444.1,364.1L445.4,360.3L446.7,356.5L447.9,352.7L449.0,348.9L450.0,345.0L451.0,341.2L452.0,337.3L453.0,333.4L454.0,329.5L455.0,325.7L456.0,321.8L457.2,318.0L458.3,314.2L459.6,310.4L460.9,306.6L462.3,302.9L463.8,299.1L465.2,295.4L466.7,291.7L468.2,288.0L469.7,284.3L471.1,280.6L472.5,276.8L473.8,273.0L475.0,269.2L476.2,265.4L477.3,261.6L478.3,257.7L479.3,253.8L480.3,250.0L481.2,246.1L482.2,242.2L483.3,238.3L484.3,234.5L485.5,230.7L486.7,226.9L488.0,223.1L489.3,219.3L490.8,215.6L492.2,211.9L493.7,208.2L495.2,204.5L496.7,200.8M436.1,416.0L437.2,412.2L438.2,408.3L439.2,404.4L440.2,400.6L441.2,396.7L442.2,392.8L443.2,389.0L444.3,385.1L445.5,381.3L446.7,377.5L448.0,373.7L449.4,370.0L450.8,366.3L452.3,362.5L453.8,358.8L455.3,355.1L456.8,351.4L458.2,347.7L459.6,343.9L460.9,340.2L462.2,336.4L463.3,332.6L464.4,328.7L465.5,324.9L466.5,321.0L467.5,317.1L468.4,313.2L469.4,309.4L470.4,305.5L471.5,301.7L472.6,297.8L473.8,294.0L475.1,290.2L476.4,286.5L477.8,282.7L479.3,279.0L480.8,275.3L482.3,271.6L483.8,267.9L485.2,264.2L486.6,260.4L488.0,256.7L489.3,252.9L490.5,249.1L491.6,245.3L492.7,241.4L493.7,237.6L494.7,233.7L495.7,229.8L496.7,225.9L497.7,222.1L498.7,218.2L499.8,214.3L501.0,210.5L502.2,206.7L503.5,203.0M443.7,418.5L445.1,414.8L446.6,411.0L447.9,407.3L449.3,403.5L450.5,399.7L451.7,395.9L452.8,392.1L453.8,388.2L454.8,384.3L455.8,380.5L456.8,376.6L457.8,372.7L458.8,368.8L459.8,365.0L461.0,361.2L462.2,357.4L463.4,353.6L464.8,349.8L466.2,346.1L467.7,342.4L469.1,338.6L470.6,334.9L472.1,331.2L473.6,327.5L475.0,323.8L476.4,320.0L477.6,316.2L478.8,312.4L480.0,308.6L481.1,304.8L482.1,300.9L483.1,297.0L484.0,293.1L485.0,289.3L486.0,285.4L487.1,281.5L488.1,277.7L489.3,273.9L490.5,270.1L491.8,266.3L493.2,262.6L494.6,258.8L496.1,255.1L497.6,251.4L499.1,247.7L500.6,244.0L502.0,240.2L503.4,236.5L504.7,232.7L506.0,229.0L507.2,225.1L508.3,221.3L509.3,217.4L510.3,213.6L511.3,209.7L512.3,205.8M450.6,420.7L452.0,417.0L453.4,413.3L454.9,409.6L456.4,405.8L457.9,402.1L459.4,398.4L460.8,394.7L462.2,390.9L463.5,387.2L464.8,383.4L465.9,379.6L467.0,375.7L468.1,371.9L469.1,368.0L470.0,364.1L471.0,360.2L472.0,356.4L473.0,352.5L474.1,348.6L475.2,344.8L476.4,341.0L477.7,337.2L479.0,333.5L480.4,329.7L481.9,326.0L483.4,322.3L484.9,318.6L486.4,314.9L487.8,311.2L489.2,307.4L490.6,303.7L491.9,299.9L493.1,296.1L494.2,292.3L495.3,288.4L496.3,284.6L497.3,280.7L498.3,276.8L499.3,272.9L500.3,269.0L501.3,265.2L502.4,261.3L503.6,257.5L504.8,253.7L506.1,250.0L507.5,246.2L508.9,242.5L510.4,238.8L511.9,235.1L513.4,231.3L514.8,227.6L516.3,223.9L517.7,220.2L519.0,216.4L520.2,212.6L521.4,208.8M458.9,423.4L460.0,419.6L461.1,415.8L462.3,412.0L463.6,408.2L464.9,404.4L466.3,400.7L467.8,396.9L469.2,393.2L470.7,389.5L472.2,385.8L473.7,382.1L475.1,378.4L476.5,374.6L477.8,370.8L479.0,367.0L480.1,363.2L481.2,359.4L482.3,355.5L483.3,351.6L484.2,347.7L485.2,343.9L486.2,340.0L487.2,336.1L488.3,332.3L489.5,328.5L490.7,324.7L492.0,320.9L493.3,317.1L494.8,313.4L496.2,309.7L497.7,306.0L499.2,302.3L500.7,298.6L502.1,294.8L503.5,291.1L504.9,287.3L506.1,283.5L507.3,279.7L508.5,275.9L509.5,272.0L510.5,268.2L511.5,264.3L512.5,260.4L513.5,256.5L514.5,252.7L515.5,248.8L516.6,245.0L517.8,241.2L519.1,237.4L520.4,233.6L521.8,229.9L523.2,226.2L524.7,222.4L526.2,218.7L527.7,215.0L529.1,211.3M466.7,426.0L468.0,422.2L469.3,418.4L470.7,414.7L472.2,411.0L473.6,407.2L475.1,403.5L476.6,399.8L478.1,396.1L479.5,392.4L480.9,388.6L482.2,384.8L483.4,381.0L484.5,377.2L485.6,373.4L486.6,369.5L487.6,365.6L488.6,361.8L489.6,357.9L490.6,354.0L491.6,350.1L492.7,346.3L493.8,342.5L495.1,338.7L496.4,334.9L497.7,331.2L499.1,327.4L500.6,323.7L502.1,320.0L503.6,316.3L505.1,312.6L506.5,308.8L507.9,305.1L509.3,301.3L510.5,297.6L511.7,293.7L512.8,289.9L513.9,286.1L514.9,282.2L515.9,278.3L516.8,274.4L517.8,270.6L518.8,266.7L519.9,262.8L521.0,259.0L522.2,255.2L523.4,251.4L524.8,247.6L526.2,243.9L527.6,240.2L529.1,236.5L530.6,232.7L532.1,229.0L533.5,225.3L535.0,221.6L536.3,217.8L537.6,214.1M475.0,428.6L476.4,424.9L477.8,421.2L479.3,417.5L480.8,413.8L482.3,410.1L483.8,406.3L485.2,402.6L486.5,398.8L487.8,395.1L489.0,391.2L490.1,387.4L491.2,383.6L492.2,379.7L493.2,375.8L494.2,372.0L495.1,368.1L496.1,364.2L497.2,360.3L498.3,356.5L499.4,352.7L500.7,348.9L502.0,345.1L503.4,341.4L504.8,337.7L506.3,333.9L507.8,330.2L509.3,326.5L510.8,322.8L512.2,319.1L513.6,315.3L514.9,311.6L516.1,307.8L517.3,304.0L518.4,300.1L519.5,296.3L520.5,292.4L521.4,288.5L522.4,284.6L523.4,280.8L524.4,276.9L525.5,273.0L526.6,269.2L527.8,265.4L529.1,261.6L530.4,257.9L531.8,254.1L533.3,250.4L534.8,246.7L536.3,243.0L537.8,239.3L539.2,235.5L540.6,231.8L542.0,228.1L543.3,224.3L544.5,220.5L545.6,216.6M483.5,431.4L484.5,427.5L485.5,423.7L486.6,419.9L487.8,416.0L489.0,412.2L490.4,408.5L491.7,404.7L493.2,401.0L494.7,397.3L496.2,393.6L497.7,389.9L499.1,386.2L500.6,382.4L501.9,378.7L503.2,374.9L504.5,371.1L505.7,367.3L506.8,363.5L507.8,359.6L508.8,355.7L509.8,351.9L510.7,348.0L511.7,344.1L512.7,340.2L513.8,336.4L515.0,332.6L516.2,328.8L517.4,325.0L518.8,321.2L520.2,317.5L521.7,313.8L523.1,310.0L524.6,306.3L526.1,302.6L527.6,298.9L529.0,295.2L530.3,291.4L531.6,287.6L532.8,283.8L534.0,280.0L535.0,276.1L536.1,272.3L537.0,268.4L538.0,264.5L539.0,260.6L540.0,256.8L541.0,252.9L542.1,249.1L543.3,245.3L544.5,241.5L545.8,237.7L547.2,234.0L548.6,230.2L550.1,226.5L551.6,222.8L553.1,219.1M492.7,434.4L494.1,430.7L495.3,426.9L496.5,423.1L497.6,419.2L498.7,415.4L499.7,411.5L500.7,407.6L501.6,403.7L502.6,399.9L503.6,396.0L504.7,392.2L505.8,388.3L507.0,384.5L508.2,380.7L509.6,377.0L511.0,373.2L512.4,369.5L513.9,365.8L515.4,362.1L516.9,358.4L518.4,354.6L519.8,350.9L521.1,347.2L522.4,343.4L523.7,339.6L524.8,335.8L525.9,331.9L526.9,328.1L527.9,324.2L528.9,320.3L529.9,316.4L530.9,312.6L531.9,308.7L533.0,304.8L534.1,301.0L535.3,297.2L536.6,293.4L538.0,289.7L539.4,286.0L540.9,282.2L542.4,278.5L543.9,274.8L545.4,271.1L546.8,267.4L548.2,263.6L549.5,259.9L550.8,256.1L552.0,252.3L553.1,248.5L554.2,244.6L555.2,240.7L556.2,236.9L557.1,233.0L558.1,229.1L559.1,225.2L560.2,221.4M499.5,436.6L500.9,432.9L502.4,429.2L503.9,425.5L505.4,421.8L506.8,418.0L508.2,414.3L509.5,410.5L510.8,406.7L512.0,402.9L513.1,399.1L514.1,395.2L515.1,391.4L516.1,387.5L517.1,383.6L518.0,379.7L519.1,375.9L520.1,372.0L521.3,368.2L522.5,364.4L523.7,360.6L525.1,356.8L526.5,353.1L527.9,349.4L529.4,345.6L530.9,341.9L532.4,338.2L533.9,334.5L535.3,330.8L536.6,327.0L537.9,323.2L539.1,319.4L540.3,315.6L541.4,311.8L542.4,307.9L543.4,304.0L544.3,300.1L545.3,296.3L546.3,292.4L547.3,288.5L548.4,284.7L549.6,280.9L550.8,277.1L552.1,273.3L553.5,269.6L554.9,265.8L556.4,262.1L557.9,258.4L559.4,254.7L560.9,251.0L562.3,247.2L563.7,243.5L565.0,239.7L566.3,236.0L567.5,232.1L568.6,228.3L569.6,224.5M508.4,439.5L509.8,435.8L511.3,432.1L512.6,428.3L513.9,424.5L515.2,420.7L516.3,416.9L517.4,413.1L518.5,409.2L519.4,405.3L520.4,401.5L521.4,397.6L522.4,393.7L523.4,389.8L524.5,386.0L525.6,382.2L526.8,378.4L528.1,374.6L529.5,370.8L530.9,367.1L532.4,363.4L533.9,359.7L535.4,356.0L536.8,352.3L538.3,348.5L539.7,344.8L541.0,341.0L542.3,337.3L543.5,333.4L544.6,329.6L545.7,325.8L546.7,321.9L547.7,318.0L548.7,314.1L549.6,310.3L550.6,306.4L551.7,302.5L552.8,298.7L554.0,294.9L555.2,291.1L556.5,287.3L557.9,283.6L559.4,279.9L560.8,276.1L562.3,272.4L563.8,268.7L565.3,265.0L566.7,261.3L568.1,257.5L569.4,253.8L570.7,250.0L571.8,246.1L572.9,242.3L574.0,238.4L575.0,234.6L575.9,230.7L576.9,226.8M516.0,442.0L517.0,438.1L518.0,434.2L519.0,430.4L520.2,426.6L521.4,422.8L522.6,419.0L524.0,415.2L525.4,411.5L526.8,407.7L528.3,404.0L529.8,400.3L531.3,396.6L532.8,392.9L534.2,389.2L535.5,385.4L536.8,381.6L538.0,377.8L539.2,374.0L540.3,370.2L541.3,366.3L542.3,362.4L543.3,358.5L544.2,354.7L545.2,350.8L546.3,346.9L547.3,343.1L548.5,339.3L549.7,335.5L551.0,331.7L552.4,327.9L553.8,324.2L555.3,320.5L556.8,316.8L558.3,313.1L559.8,309.4L561.2,305.6L562.6,301.9L563.9,298.1L565.2,294.3L566.4,290.5L567.5,286.7L568.6,282.8L569.6,279.0L570.5,275.1L571.5,271.2L572.5,267.3L573.5,263.5L574.6,259.6L575.7,255.8L576.9,252.0L578.1,248.2L579.4,244.4L580.8,240.7L582.3,237.0L583.8,233.2L585.3,229.5M523.5,444.4L524.6,440.6L525.8,436.8L527.0,433.0L528.3,429.2L529.6,425.4L531.1,421.7L532.5,418.0L534.0,414.3L535.5,410.6L537.0,406.9L538.4,403.1L539.8,399.4L541.2,395.6L542.4,391.8L543.6,388.0L544.8,384.2L545.8,380.3L546.8,376.5L547.8,372.6L548.8,368.7L549.8,364.8L550.8,361.0L551.8,357.1L552.9,353.3L554.1,349.5L555.4,345.7L556.7,341.9L558.1,338.2L559.5,334.5L561.0,330.7L562.5,327.0L564.0,323.3L565.5,319.6L566.9,315.9L568.3,312.1L569.6,308.3L570.8,304.6L572.0,300.7L573.1,296.9L574.1,293.0L575.1,289.2L576.1,285.3L577.0,281.4L578.0,277.5L579.0,273.7L580.1,269.8L581.3,266.0L582.5,262.2L583.8,258.4L585.1,254.7L586.5,250.9L588.0,247.2L589.5,243.5L591.0,239.8L592.5,236.1L593.9,232.3" stroke="#141414" stroke-width="1.8" fill="none"/></g><g clip-path="url(#c17)" fill="none" stroke="#141414" stroke-width="2.0"><path d="M410.4,405 A12.6 30 0 0 1 435.6,405" /><path d="M401.2,405 A21.8 52 0 0 1 444.8,405" /><path d="M391.9,405 A31.1 74 0 0 1 454.1,405" /><path d="M382.7,405 A40.3 96 0 0 1 463.3,405" /><path d="M373.4,405 A49.6 118 0 0 1 472.6,405" /><path d="M364.2,405 A58.8 140 0 0 1 481.8,405" /></g><polygon points="403.0,254.0 468.0,198.0 472.0,350.0 404.0,400.0" fill="none" stroke="#141414" stroke-width="2.6" stroke-linejoin="round" /><polygon points="384.0,252.0 442.0,199.0 468.0,198.0 403.0,254.0" fill="#fff" stroke="none" stroke-width="0" stroke-linejoin="round" /><g clip-path="url(#c18)"><path d="M372.7,161.7L483.6,165.6M372.6,166.9L483.4,170.8M372.4,172.1L483.3,176.0M372.2,177.3L483.1,181.2M372.0,182.5L482.9,186.4M371.8,187.7L482.7,191.6M371.6,192.9L482.5,196.8M371.5,198.1L482.4,202.0M371.3,203.3L482.2,207.1M371.1,208.5L482.0,212.3M370.9,213.7L481.8,217.5M370.7,218.9L481.6,222.7M370.6,224.1L481.4,227.9M370.4,229.3L481.3,233.1M370.2,234.5L481.1,238.3M370.0,239.7L480.9,243.5M369.8,244.9L480.7,248.7M369.6,250.0L480.5,253.9M369.5,255.2L480.4,259.1M369.3,260.4L480.2,264.3M369.1,265.6L480.0,269.5M368.9,270.8L479.8,274.7M368.7,276.0L479.6,279.9M368.6,281.2L479.4,285.1M368.4,286.4L479.3,290.3" stroke="#141414" stroke-width="2.4" fill="none"/></g><polygon points="384.0,252.0 442.0,199.0 468.0,198.0 403.0,254.0" fill="none" stroke="#141414" stroke-width="2.2" stroke-linejoin="round" /><polygon points="384.0,252.0 403.0,254.0 404.0,403.0 388.0,405.0" fill="#fff" stroke="#141414" stroke-width="2.4" stroke-linejoin="round" /><path d="M395,270 Q399,330 394,395" fill="none" stroke="#141414" stroke-width="1.3" stroke-linecap="round" stroke-linejoin="round" /><ellipse cx="424.8" cy="364.3" rx="5.5" ry="7.5" fill="#fff" stroke="#141414" stroke-width="2.8"/><ellipse cx="456.4" cy="334.3" rx="5.5" ry="7.5" fill="#fff" stroke="#141414" stroke-width="2.8"/><line x1="421.0" y1="368.0" x2="428.0" y2="361.0" stroke="#141414" stroke-width="1.4" stroke-linecap="round"/><line x1="453.0" y1="338.0" x2="460.0" y2="331.0" stroke="#141414" stroke-width="1.4" stroke-linecap="round"/><line x1="434.0" y1="270.4" x2="479.0" y2="270.4" stroke="#141414" stroke-width="2.8" stroke-linecap="round"/><circle cx="477" cy="343" r="0.9" fill="#141414"/><circle cx="480" cy="347" r="0.9" fill="#141414"/><circle cx="476" cy="349" r="0.9" fill="#141414"/><circle cx="479" cy="338" r="0.9" fill="#141414"/><path d="M694,163 a3,3 0 1,0 4,5" fill="none" stroke="#141414" stroke-width="1.6" stroke-linecap="round" stroke-linejoin="round" /><text x="172.2" y="405.4" font-family="Liberation Serif" font-style="italic" font-size="55" fill="#141414">a</text><text transform="translate(273.8,234.5) scale(0.87,1)" font-family="Liberation Serif" font-style="italic" font-weight="bold" font-size="55" fill="#141414">b</text><text x="509" y="46.1" font-family="Liberation Serif" font-style="italic" font-weight="bold" font-size="54" fill="#141414">c</text></svg></body></html>
